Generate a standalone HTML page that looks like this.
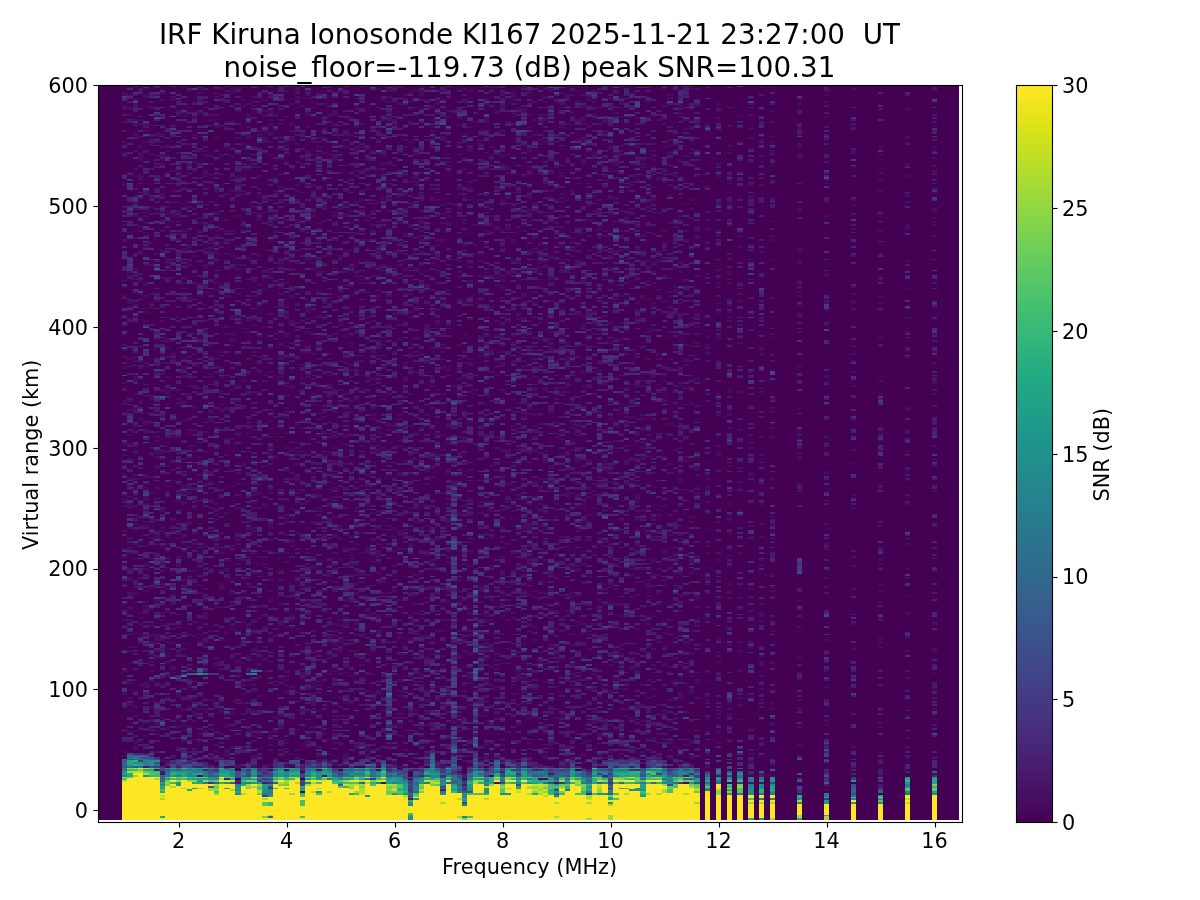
<!DOCTYPE html>
<html><head><meta charset="utf-8"><title>IRF Kiruna Ionosonde KI167</title>
<style>html,body{margin:0;padding:0;background:#fff}svg{display:block}</style></head>
<body><svg width="1200" height="900" viewBox="0 0 1200 900">
<rect width="1200" height="900" fill="#fff"/>
<defs><linearGradient id="cbg" x1="0" y1="0" x2="0" y2="1"><stop offset="0.0000" stop-color="#fde725"/><stop offset="0.0156" stop-color="#f6e620"/><stop offset="0.0312" stop-color="#ece51b"/><stop offset="0.0469" stop-color="#e2e418"/><stop offset="0.0625" stop-color="#d8e219"/><stop offset="0.0781" stop-color="#cde11d"/><stop offset="0.0938" stop-color="#c2df23"/><stop offset="0.1094" stop-color="#b8de29"/><stop offset="0.1250" stop-color="#addc30"/><stop offset="0.1406" stop-color="#a2da37"/><stop offset="0.1562" stop-color="#98d83e"/><stop offset="0.1719" stop-color="#8ed645"/><stop offset="0.1875" stop-color="#84d44b"/><stop offset="0.2031" stop-color="#7ad151"/><stop offset="0.2188" stop-color="#70cf57"/><stop offset="0.2344" stop-color="#67cc5c"/><stop offset="0.2500" stop-color="#5ec962"/><stop offset="0.2656" stop-color="#56c667"/><stop offset="0.2812" stop-color="#4ec36b"/><stop offset="0.2969" stop-color="#46c06f"/><stop offset="0.3125" stop-color="#3fbc73"/><stop offset="0.3281" stop-color="#38b977"/><stop offset="0.3438" stop-color="#32b67a"/><stop offset="0.3594" stop-color="#2db27d"/><stop offset="0.3750" stop-color="#28ae80"/><stop offset="0.3906" stop-color="#25ab82"/><stop offset="0.4062" stop-color="#22a785"/><stop offset="0.4219" stop-color="#20a386"/><stop offset="0.4375" stop-color="#1fa088"/><stop offset="0.4531" stop-color="#1e9c89"/><stop offset="0.4688" stop-color="#1f988b"/><stop offset="0.4844" stop-color="#1f948c"/><stop offset="0.5000" stop-color="#21918c"/><stop offset="0.5156" stop-color="#228d8d"/><stop offset="0.5312" stop-color="#23898e"/><stop offset="0.5469" stop-color="#25858e"/><stop offset="0.5625" stop-color="#26828e"/><stop offset="0.5781" stop-color="#277e8e"/><stop offset="0.5938" stop-color="#297a8e"/><stop offset="0.6094" stop-color="#2a768e"/><stop offset="0.6250" stop-color="#2c728e"/><stop offset="0.6406" stop-color="#2e6f8e"/><stop offset="0.6562" stop-color="#2f6b8e"/><stop offset="0.6719" stop-color="#31678e"/><stop offset="0.6875" stop-color="#33638d"/><stop offset="0.7031" stop-color="#355f8d"/><stop offset="0.7188" stop-color="#375b8d"/><stop offset="0.7344" stop-color="#39568c"/><stop offset="0.7500" stop-color="#3b528b"/><stop offset="0.7656" stop-color="#3d4e8a"/><stop offset="0.7812" stop-color="#3e4989"/><stop offset="0.7969" stop-color="#404588"/><stop offset="0.8125" stop-color="#424086"/><stop offset="0.8281" stop-color="#443b84"/><stop offset="0.8438" stop-color="#453781"/><stop offset="0.8594" stop-color="#46327e"/><stop offset="0.8750" stop-color="#472d7b"/><stop offset="0.8906" stop-color="#482878"/><stop offset="0.9062" stop-color="#482374"/><stop offset="0.9219" stop-color="#481d6f"/><stop offset="0.9375" stop-color="#48186a"/><stop offset="0.9531" stop-color="#471365"/><stop offset="0.9688" stop-color="#470d60"/><stop offset="0.9844" stop-color="#46075a"/><stop offset="1.0000" stop-color="#440154"/></linearGradient></defs>
<g shape-rendering="crispEdges" fill="none"><rect x="98" y="85" width="861" height="735" fill="#440154"/>
<path transform="translate(3)" stroke="#470d60" stroke-width="6" d="M127 733v-2m0-20v-1m0-4v-4m0-3v-2m0-13v-2m0-18v-1m0-11v-2m0-2v-2m0-23v-4m0-4v-1m0-4v-4m0-10v-4m0-11v-4m0-7v-2m0-14v-2m0-2v-3m0-18v-2m0-18v-6m0-5v-2m0-6v-1m0-2v-2m0-5v-2m0-18v-2m0-13v-2m0-7v-2m0-23v-2m0-7v-2m0-40v-2m0-9v-2m0-27v-2m0-10v-2m0-2v-4m0-23v-2m0-2v-2m0-38v-1m0-29v-2m0-85v-2m0-4v-3m0-8v-1m0-2v-2m0-6v-1M143 737v-2m0-4v-1m0-6v-2m0-11v-1m0-22v-6m0-38v-1m0-8v-1m0-20v-2m0-2v-5m0-2v-2m0-9v-2m0-13v-1m0-6v-2m0-1v-4m0-16v-2m0-18v-2m0-2v-2m0-11v-1m0-4v-2m0-2v-5m0-7v-2m0-2v-2m0-5v-4m0-41v-4m0-4v-5m0-6v-1m0-24v-2m0-20v-1m0-2v-2m0-40v-2m0-7v-2m0-2v-1m0-11v-2m0-9v-4m0-11v-1m0-4v-2m0-16v-2m0-2v-2m0-9v-1m0-8v-2m0-5v-2m0-2v-1m0-8v-1m0-10v-1m0-38v-2m0-9v-2m0-9v-2m0-32v-4m0-4v-2M154 735v-2m0-2v-1m0-4v-4m0-11v-1m0-26v-2m0-23v-2m0-5v-2m0-9v-7m0-19v-1m0-13v-2m0-31v-1m0-9v-2m0-2v-2m0-7v-2m0-4v-5m0-2v-2m0-25v-2m0-3v-2m0-9v-2m0-18v-4m0-7v-2m0-2v-2m0-10v-2m0-2v-2m0-3v-2m0-18v-2m0-4v-2m0-9v-1m0-22v-2m0-22v-2m0-7v-2m0-36v-2m0-20v-1m0-24v-2m0-38v-3m0-13v-2m0-14v-2m0-24v-2m0-12v-2m0-5v-4m0-36v-2m0-6v-1M170 759v-2m0-17v-1m0-4v-2m0-56v-2m0-2v-1m0-2v-4m0-22v-1m0-13v-2m0-23v-2m0-7v-2m0-8v-1m0-13v-2m0-38v-2m0-3v-2m0-4v-2m0-18v-1m0-19v-1m0-9v-2m0-6v-1m0-10v-1m0-13v-4m0-3v-2m0-33v-1m0-4v-2m0-29v-2m0-2v-3m0-11v-2m0-61v-2m0-55v-1m0-4v-4m0-10v-2m0-9v-2m0-9v-2m0-7v-2m0-38v-2m0-2v-2m0-25v-2m0-1v-2M181 742v-2m0-9v-1m0-4v-2m0-13v-3m0-7v-2m0-49v-2m0-42v-1m0-17v-2m0-5v-2m0-27v-2m0-12v-4m0-29v-4m0-12v-4m0-11v-2m0-12v-2m0-7v-2m0-27v-2m0-11v-2m0-3v-4m0-22v-3m0-4v-5m0-6v-2m0-3v-2m0-4v-3m0-17v-1m0-31v-2m0-11v-2m0-2v-3m0-26v-3m0-16v-2m0-22v-2m0-2v-1m0-86v-1m0-2v-2M197 777v-2m0-33v-2m0-5v-2m0-16v-2m0-5v-2m0-11v-2m0-31v-1m0-2v-2m0-6v-1m0-9v-2m0-6v-1m0-4v-2m0-9v-2m0-23v-2m0-16v-2m0-6v-1m0-37v-1m0-48v-1m0-4v-2m0-5v-2m0-5v-2m0-2v-2m0-18v-2m0-47v-2m0-20v-1m0-26v-2m0-27v-2m0-63v-2m0-12v-2m0-6v-2m0-3v-2m0-38v-2m0-11v-1m0-13v-2m0-13v-1m0-22v-2m0-11v-2m0-5v-2m0-2v-2M208 766v-2m0-4v-1m0-2v-2m0-15v-1m0-9v-2m0-27v-2m0-67v-2m0-33v-1m0-22v-2m0-2v-2m0-36v-2m0-21v-2m0-4v-2m0-18v-2m0-7v-3m0-49v-4m0-5v-4m0-31v-2m0-1v-2m0-11v-2m0-2v-2m0-10v-2m0-35v-1m0-28v-1m0-13v-2m0-2v-2m0-7v-2m0-1v-4m0-2v-2m0-12v-2m0-6v-1m0-4v-2m0-12v-2m0-17v-1m0-18v-2m0-6v-2m0-34v-2m0-3v-2M224 760v-1m0-2v-8m0-9v-3m0-9v-4m0-90v-2m0-13v-2m0-38v-2m0-5v-4m0-7v-2m0-45v-2m0-56v-2m0-9v-2m0-3v-2m0-27v-4m0-25v-2m0-45v-2m0-5v-2m0-29v-2m0-40v-2m0-21v-2m0-9v-2m0-24v-2m0-45v-2m0-18v-2m0-3v-2m0-29v-2M235 768v-4m0-9v-2m0-80v-1m0-9v-4m0-27v-2m0-62v-1m0-2v-2m0-5v-2m0-11v-2m0-2v-2m0-1v-2m0-2v-2m0-2v-1m0-20v-2m0-22v-2m0-9v-2m0-9v-1m0-4v-2m0-11v-2m0-7v-2m0-27v-2m0-3v-2m0-13v-2m0-19v-2m0-9v-2m0-15v-1m0-15v-2m0-3v-2m0-20v-2m0-16v-2m0-4v-3m0-2v-2m0-16v-2m0-29v-2m0-20v-2m0-1v-2m0-4v-2m0-5v-2m0-38v-2m0-25v-2m0-20v-3M251 768v-2m0-7v-4m0-13v-2m0-3v-2m0-4v-1m0-17v-2m0-19v-2m0-4v-2m0-3v-2m0-6v-1m0-20v-4m0-5v-2m0-7v-2m0-9v-4m0-13v-1m0-31v-2m0-18v-2m0-20v-2m0-1v-2m0-18v-2m0-4v-2m0-5v-2m0-13v-1m0-18v-2m0-29v-2m0-2v-2m0-12v-2m0-18v-2m0-38v-2m0-25v-2m0-4v-2m0-21v-2m0-13v-3m0-9v-2m0-60v-2m0-38v-2m0-18v-2m0-9v-1m0-29v-2m0-2v-2m0-3v-2m0-9v-2M262 766v-2m0-92v-2m0-9v-4m0-9v-2m0-18v-2m0-9v-2m0-7v-2m0-29v-1m0-8v-1m0-2v-2m0-5v-2m0-4v-2m0-2v-1m0-40v-4m0-22v-1m0-8v-1m0-4v-2m0-27v-2m0-11v-2m0-41v-2m0-4v-1m0-8v-1m0-8v-2m0-28v-2m0-22v-2m0-13v-1m0-9v-2m0-4v-2m0-58v-1m0-11v-2m0-45v-2m0-9v-6m0-5v-2m0-13v-3m0-2v-2m0-9v-2m0-5v-2M278 757v-2m0-25v-4m0-9v-2m0-7v-2m0-27v-2m0-14v-2m0-8v-1m0-26v-3m0-17v-3m0-22v-2m0-7v-2m0-11v-1m0-4v-2m0-56v-2m0-2v-2m0-52v-2m0-7v-2m0-2v-2m0-5v-2m0-11v-1m0-26v-2m0-1v-2m0-6v-1m0-6v-4m0-10v-4m0-11v-2m0-5v-2m0-14v-2m0-11v-2m0-4v-3m0-2v-2m0-14v-2m0-2v-4m0-59v-2m0-6v-1m0-4v-2m0-36v-2m0-9v-3m0-11v-2m0-2v-2m0-32v-2M289 766v-2m0-9v-2m0-65v-2m0-58v-2m0-5v-2m0-2v-2m0-19v-2m0-22v-2m0-23v-2m0-2v-4m0-21v-2m0-6v-1m0-19v-1m0-9v-2m0-4v-2m0-14v-2m0-4v-3m0-44v-1m0-15v-4m0-27v-2m0-12v-2m0-18v-4m0-23v-2m0-25v-2m0-9v-2m0-11v-2m0-5v-2m0-40v-2m0-14v-2m0-38v-4m0-5v-2m0-4v-3m0-18v-2m0-4v-1M305 748v-2m0-2v-4m0-5v-2m0-23v-2m0-18v-2m0-11v-2m0-14v-2m0-2v-2m0-40v-1m0-6v-2m0-18v-2m0-10v-2m0-9v-2m0-4v-1m0-4v-2m0-2v-2m0-7v-2m0-10v-2m0-24v-3m0-2v-2m0-22v-2m0-94v-2m0-23v-2m0-2v-2m0-14v-2m0-11v-2m0-5v-4m0-5v-2m0-2v-1m0-39v-3m0-71v-2m0-25v-2m0-3v-4m0-11v-2m0-9v-2m0-10v-4m0-13v-1m0-2v-2m0-2v-2M316 771v-2m0-7v-3m0-2v-2m0-7v-2m0-27v-2m0-6v-1m0-24v-2m0-78v-1m0-2v-2m0-20v-2m0-12v-2m0-2v-2m0-20v-2m0-10v-2m0-4v-2m0-5v-2m0-2v-2m0-1v-2m0-9v-4m0-9v-2m0-20v-1m0-26v-2m0-14v-2m0-4v-1m0-28v-1m0-8v-1m0-15v-2m0-16v-2m0-14v-2m0-6v-3m0-22v-2m0-18v-2m0-30v-2m0-15v-2m0-32v-2m0-20v-2m0-1v-2m0-2v-2m0-2v-2m0-7v-2m0-3v-2m0-2v-2m0-43v-2M332 766v-4m0-2v-1m0-15v-2m0-7v-2m0-5v-2m0-4v-2m0-3v-2m0-9v-2m0-25v-2m0-5v-2m0-15v-2m0-7v-2m0-7v-3m0-2v-2m0-5v-2m0-8v-1m0-31v-2m0-11v-2m0-9v-1m0-4v-2m0-14v-4m0-5v-2m0-2v-2m0-5v-2m0-18v-2m0-7v-2m0-11v-2m0-11v-3m0-8v-1m0-2v-2m0-9v-4m0-21v-4m0-2v-2m0-10v-2m0-2v-2m0-51v-1m0-2v-2m0-29v-2m0-32v-2m0-27v-2m0-22v-2m0-2v-1m0-51v-6m0-10v-2m0-9v-2m0-7v-2m0-7v-6m0-2v-1M343 766v-2m0-5v-6m0-14v-2m0-15v-2m0-3v-2m0-11v-2m0-29v-1m0-4v-2m0-2v-1m0-2v-2m0-13v-2m0-3v-2m0-13v-5m0-2v-2m0-9v-2m0-5v-2m0-2v-1m0-4v-2m0-14v-2m0-6v-3m0-15v-2m0-12v-2m0-25v-2m0-11v-2m0-5v-2m0-18v-2m0-2v-2m0-5v-2m0-11v-2m0-5v-4m0-11v-1m0-9v-2m0-2v-2m0-12v-2m0-29v-2m0-7v-2m0-16v-2m0-18v-2m0-29v-2m0-11v-2m0-3v-2m0-13v-2m0-34v-4m0-9v-1m0-11v-2m0-24v-1m0-17v-2m0-10v-2m0-2v-2m0-11v-2M359 740v-1m0-57v-1m0-2v-2m0-11v-2m0-7v-2m0-18v-2m0-16v-2m0-34v-2m0-5v-4m0-18v-2m0-18v-2m0-18v-2m0-25v-2m0-16v-2m0-4v-1m0-15v-2m0-9v-2m0-21v-2m0-4v-2m0-29v-1m0-13v-2m0-4v-1m0-8v-1m0-53v-2m0-7v-2m0-2v-1m0-2v-2m0-15v-1m0-18v-2m0-7v-2m0-13v-2m0-3v-2m0-9v-2m0-6v-3m0-18v-2m0-22v-2m0-10v-2m0-9v-2M370 760v-1m0-8v-2m0-39v-2m0-7v-4m0-2v-2m0-18v-2m0-21v-2m0-6v-1m0-9v-2m0-17v-3m0-45v-2m0-2v-2m0-5v-2m0-2v-2m0-9v-3m0-19v-1m0-4v-2m0-25v-2m0-22v-1m0-11v-2m0-2v-2m0-3v-2m0-2v-2m0-16v-2m0-2v-3m0-4v-2m0-5v-2m0-15v-1m0-4v-2m0-25v-4m0-20v-1m0-6v-2m0-5v-2m0-5v-2m0-7v-2m0-20v-2m0-7v-2m0-9v-2m0-22v-3m0-4v-2m0-11v-3m0-9v-2m0-47v-2m0-20v-2m0-9v-2M386 762v-2m0-12v-2m0-26v-1m0-55v-1m0-6v-2m0-11v-3m0-15v-1m0-8v-2m0-7v-2m0-7v-2m0-3v-2m0-34v-2m0-29v-2m0-27v-2m0-20v-2m0-3v-2m0-6v-1m0-11v-2m0-6v-1m0-11v-2m0-2v-4m0-28v-2m0-27v-2m0-13v-2m0-23v-2m0-24v-1m0-2v-2m0-11v-2m0-7v-2m0-5v-2m0-25v-2m0-9v-2m0-6v-1m0-9v-2m0-11v-2m0-2v-2m0-9v-1m0-18v-4m0-22v-2m0-16v-2m0-5v-2m0-4v-1m0-4v-2m0-3v-2m0-4v-4M397 768v-2m0-29v-2m0-7v-2m0-7v-2m0-2v-2m0-16v-2m0-3v-2m0-8v-3m0-24v-2m0-14v-2m0-16v-2m0-18v-2m0-43v-2m0-4v-2m0-12v-6m0-16v-2m0-18v-2m0-16v-4m0-25v-2m0-3v-2m0-20v-2m0-2v-2m0-74v-2m0-12v-2m0-9v-2m0-13v-1m0-20v-2m0-11v-2m0-11v-2m0-7v-2m0-18v-2m0-10v-2m0-13v-2m0-3v-2m0-36v-2m0-35v-1m0-11v-2m0-15v-1M413 733v-3m0-55v-2m0-1v-2m0-17v-1m0-17v-3m0-9v-2m0-7v-2m0-7v-2m0-7v-2m0-18v-2m0-9v-2m0-40v-2m0-12v-2m0-2v-4m0-11v-1m0-13v-2m0-14v-2m0-4v-2m0-3v-2m0-11v-2m0-16v-2m0-9v-2m0-16v-2m0-14v-2m0-18v-2m0-11v-3m0-26v-2m0-1v-2m0-2v-2m0-11v-2m0-19v-2m0-17v-1m0-11v-2m0-51v-2m0-1v-2m0-2v-4m0-20v-3m0-36v-2m0-6v-1m0-15v-2M424 760v-1m0-4v-2m0-9v-2m0-2v-1m0-13v-2m0-9v-4m0-9v-3m0-7v-2m0-24v-2m0-5v-2m0-20v-2m0-12v-2m0-18v-2m0-2v-2m0-9v-2m0-21v-2m0-7v-2m0-2v-2m0-18v-2m0-3v-2m0-18v-2m0-20v-2m0-5v-2m0-4v-3m0-26v-1m0-15v-2m0-5v-2m0-2v-2m0-50v-2m0-2v-2m0-29v-5m0-22v-2m0-9v-2m0-1v-4m0-13v-1m0-29v-2m0-13v-2m0-7v-2m0-2v-1m0-31v-2m0-4v-1m0-33v-2m0-38v-2M440 768v-4m0-4v-1m0-11v-2m0-16v-4m0-20v-2m0-11v-1m0-4v-2m0-9v-2m0-2v-1m0-6v-2m0-7v-2m0-23v-2m0-9v-2m0-11v-2m0-3v-2m0-13v-2m0-52v-2m0-38v-2m0-29v-1m0-11v-2m0-13v-2m0-39v-2m0-24v-3m0-6v-2m0-5v-2m0-2v-2m0-1v-2m0-9v-2m0-25v-2m0-2v-2m0-60v-3m0-15v-2m0-7v-2m0-7v-2m0-45v-2m0-16v-5m0-29v-2m0-4v-2m0-7v-2M451 755v-2m0-22v-1m0-6v-4m0-54v-2m0-34v-2m0-9v-2m0-94v-2m0-36v-4m0-16v-3m0-26v-2m0-7v-2m0-18v-2m0-18v-2m0-125v-1m0-53v-2m0-90v-2M467 764v-2m0-5v-2m0-4v-3m0-18v-2m0-22v-2m0-2v-1m0-17v-2m0-3v-6m0-18v-3m0-8v-1m0-6v-3m0-2v-2m0-15v-3m0-2v-2m0-9v-2m0-3v-2m0-2v-2m0-21v-2m0-13v-2m0-7v-2m0-25v-2m0-2v-2m0-7v-2m0-1v-2m0-27v-2m0-33v-2m0-7v-2m0-3v-2m0-27v-2m0-11v-2m0-2v-1m0-9v-4m0-2v-2m0-38v-2m0-29v-1m0-4v-4m0-12v-2m0-2v-2m0-29v-1m0-31v-2m0-9v-2m0-5v-2m0-18v-2m0-9v-4m0-20v-2m0-27v-1m0-6v-2M478 762v-2m0-1v-2m0-40v-2m0-7v-2m0-4v-1m0-13v-2m0-14v-2m0-6v-1m0-10v-1m0-2v-2m0-2v-2m0-3v-2m0-5v-2m0-29v-2m0-9v-6m0-36v-2m0-9v-1m0-11v-2m0-11v-2m0-9v-2m0-14v-2m0-36v-2m0-20v-2m0-7v-2m0-11v-1m0-48v-1m0-2v-2m0-4v-1m0-8v-3m0-36v-2m0-13v-2m0-5v-2m0-13v-2m0-5v-2m0-11v-1m0-15v-2m0-16v-2m0-5v-2m0-36v-2m0-13v-2m0-1v-2m0-2v-2m0-3v-2m0-2v-2m0-42v-1M494 784v-2m0-23v-2m0-9v-2m0-11v-2m0-2v-1m0-11v-2m0-2v-2m0-7v-2m0-16v-2m0-16v-2m0-2v-2m0-3v-2m0-4v-3m0-9v-2m0-26v-1m0-6v-2m0-16v-2m0-7v-2m0-11v-1m0-20v-2m0-58v-2m0-14v-2m0-4v-2m0-14v-2m0-9v-2m0-60v-1m0-13v-2m0-16v-2m0-5v-2m0-13v-2m0-34v-2m0-5v-2m0-2v-2m0-43v-4m0-36v-2m0-33v-1m0-40v-4m0-11v-1M505 733v-2m0-81v-2m0-27v-2m0-7v-2m0-9v-2m0-11v-2m0-41v-2m0-36v-2m0-2v-2m0-3v-2m0-11v-2m0-20v-1m0-8v-2m0-1v-2m0-127v-2m0-45v-5m0-31v-2m0-7v-4m0-27v-4m0-7v-2m0-12v-2m0-2v-4m0-11v-1m0-31v-2M521 740v-1m0-22v-2m0-11v-2m0-10v-2m0-11v-2m0-7v-2m0-4v-1m0-19v-1m0-4v-2m0-22v-1m0-18v-2m0-2v-2m0-4v-1m0-9v-2m0-2v-4m0-9v-1m0-6v-2m0-18v-2m0-1v-4m0-44v-1m0-18v-2m0-11v-2m0-29v-2m0-2v-3m0-49v-2m0-13v-1m0-11v-2m0-13v-3m0-9v-2m0-9v-4m0-61v-2m0-4v-2m0-11v-1m0-26v-2m0-7v-2m0-58v-1m0-4v-4m0-20v-1M532 730v-2m0-35v-1m0-2v-2m0-15v-1m0-19v-1m0-11v-2m0-11v-2m0-20v-1m0-8v-1m0-4v-2m0-27v-2m0-2v-1m0-24v-2m0-34v-2m0-11v-4m0-29v-3m0-11v-2m0-3v-2m0-4v-2m0-9v-3m0-22v-4m0-9v-2m0-16v-2m0-2v-1m0-4v-2m0-45v-2m0-2v-1m0-6v-2m0-31v-1m0-6v-2m0-1v-2m0-9v-4m0-5v-2m0-16v-2m0-4v-3m0-33v-2m0-22v-1m0-9v-2m0-13v-2m0-16v-2M548 749v-1m0-2v-4m0-27v-2m0-5v-2m0-24v-1m0-22v-2m0-9v-4m0-9v-1m0-4v-2m0-9v-2m0-2v-1m0-2v-2m0-5v-2m0-4v-2m0-5v-4m0-12v-4m0-33v-1m0-17v-2m0-18v-1m0-8v-2m0-7v-3m0-2v-2m0-2v-2m0-3v-4m0-22v-1m0-15v-2m0-12v-2m0-60v-4m0-1v-4m0-2v-2m0-5v-2m0-29v-2m0-16v-2m0-2v-3m0-9v-2m0-7v-4m0-33v-1m0-8v-1m0-6v-2m0-5v-2m0-5v-2m0-16v-2m0-29v-2m0-24v-1m0-24v-4M559 768v-2m0-4v-2m0-25v-2m0-14v-2m0-2v-2m0-54v-2m0-13v-1m0-11v-2m0-11v-2m0-21v-2m0-36v-2m0-18v-2m0-27v-2m0-11v-2m0-38v-2m0-14v-2m0-5v-2m0-27v-2m0-7v-4m0-2v-2m0-7v-2m0-11v-1m0-22v-2m0-25v-2m0-4v-2m0-5v-2m0-29v-2m0-3v-2m0-6v-1m0-13v-2m0-2v-1m0-13v-2m0-9v-2m0-12v-2m0-2v-2m0-2v-2m0-16v-2m0-1v-2m0-36v-2m0-6v-2m0-18v-1m0-2v-2m0-9v-2M575 740v-1m0-4v-2m0-38v-2m0-3v-2m0-7v-2m0-27v-2m0-7v-2m0-15v-1m0-2v-2m0-25v-2m0-22v-4m0-1v-2m0-26v-1m0-6v-2m0-1v-2m0-20v-2m0-7v-4m0-4v-1m0-4v-2m0-11v-1m0-9v-4m0-6v-1m0-15v-2m0-7v-4m0-65v-2m0-41v-2m0-18v-2m0-29v-4m0-7v-2m0-5v-2m0-22v-1m0-37v-1m0-8v-1m0-2v-2m0-11v-2m0-11v-1m0-4v-2m0-18v-2m0-16v-2M586 742v-2m0-16v-2m0-16v-2m0-2v-1m0-11v-2m0-7v-2m0-29v-2m0-13v-1m0-2v-2m0-15v-1m0-8v-1m0-28v-1m0-35v-2m0-16v-2m0-5v-2m0-16v-2m0-2v-2m0-3v-2m0-6v-1m0-17v-3m0-71v-5m0-18v-2m0-15v-2m0-7v-2m0-25v-2m0-2v-1m0-17v-2m0-38v-1m0-13v-2m0-14v-2m0-13v-2m0-20v-1m0-8v-1m0-22v-2m0-22v-3m0-18v-2m0-4v-2m0-1v-2M602 759v-2m0-2v-2m0-16v-2m0-2v-2m0-7v-2m0-20v-1m0-11v-2m0-6v-1m0-37v-1m0-6v-2m0-30v-2m0-13v-2m0-27v-2m0-12v-2m0-2v-4m0-9v-1m0-17v-3m0-20v-2m0-4v-2m0-10v-2m0-2v-4m0-1v-2m0-29v-2m0-44v-3m0-49v-2m0-14v-2m0-44v-1m0-6v-2m0-25v-2m0-3v-2m0-42v-2m0-5v-2m0-2v-2m0-16v-2m0-23v-4m0-7v-4M613 730v-2m0-49v-2m0-5v-2m0-7v-2m0-6v-2m0-1v-2m0-44v-3m0-13v-2m0-11v-1m0-11v-2m0-31v-2m0-38v-3m0-6v-2m0-16v-2m0-11v-1m0-2v-2m0-5v-2m0-13v-2m0-2v-3m0-18v-2m0-60v-2m0-34v-2m0-16v-2m0-2v-2m0-12v-2m0-13v-3m0-47v-2m0-2v-2m0-25v-2m0-4v-5m0-7v-2m0-6v-1m0-28v-1m0-2v-2m0-18v-2M629 731v-1m0-11v-2m0-47v-4m0-7v-2m0-2v-2m0-38v-1m0-38v-2m0-4v-2m0-1v-2m0-6v-1m0-69v-2m0-6v-1m0-62v-2m0-16v-2m0-13v-1m0-11v-2m0-100v-1m0-2v-2m0-2v-2m0-29v-1m0-17v-2m0-3v-2m0-22v-2m0-1v-2m0-16v-2m0-11v-2m0-33v-1m0-22v-2m0-5v-2M640 755v-4m0-25v-2m0-2v-2m0-14v-2m0-9v-2m0-7v-2m0-32v-2m0-42v-2m0-20v-1m0-2v-2m0-11v-2m0-38v-1m0-13v-2m0-2v-3m0-19v-1m0-20v-2m0-7v-4m0-7v-2m0-16v-4m0-7v-2m0-2v-2m0-27v-2m0-3v-2m0-5v-2m0-24v-2m0-34v-2m0-12v-4m0-7v-2m0-24v-2m0-3v-2m0-18v-2m0-36v-2m0-22v-1m0-6v-2m0-1v-2m0-2v-2m0-14v-2m0-18v-2M656 757v-2m0-11v-2m0-7v-2m0-18v-2m0-7v-2m0-61v-2m0-36v-2m0-9v-2m0-16v-2m0-4v-2m0-36v-2m0-14v-2m0-4v-1m0-69v-2m0-2v-2m0-41v-2m0-6v-1m0-24v-2m0-2v-3m0-53v-1m0-2v-2m0-4v-2m0-27v-3m0-2v-2m0-2v-2m0-38v-1m0-31v-4m0-56v-2M667 759v-2m0-6v-2m0-5v-4m0-1v-2m0-6v-1m0-8v-2m0-19v-2m0-26v-1m0-4v-2m0-45v-2m0-13v-1m0-35v-3m0-8v-3m0-20v-2m0-4v-1m0-13v-2m0-49v-2m0-29v-1m0-8v-2m0-54v-2m0-7v-2m0-20v-1m0-4v-2m0-18v-2m0-2v-3m0-9v-2m0-2v-2m0-12v-2m0-17v-1m0-35v-2m0-25v-2m0-9v-2m0-25v-2m0-3v-2m0-6v-1m0-4v-2m0-43v-2M683 784v-2m0-36v-2m0-60v-2m0-12v-2m0-24v-3m0-45v-2m0-49v-2m0-53v-1m0-27v-2m0-2v-2m0-16v-2m0-33v-1m0-15v-2m0-21v-2m0-2v-4m0-12v-2m0-53v-2m0-7v-2m0-39v-2m0-7v-2m0-26v-1m0-37v-1m0-8v-2m0-18v-1m0-6v-2m0-7v-2m0-31v-1M694 699v-2m0-13v-2m0-1v-2m0-6v-1m0-28v-1m0-22v-2m0-4v-1m0-6v-2m0-7v-2m0-38v-3m0-37v-1m0-22v-4m0-3v-2m0-11v-2m0-3v-4m0-9v-2m0-29v-2m0-18v-2m0-25v-2m0-22v-1m0-11v-2m0-7v-2m0-5v-2m0-8v-5m0-9v-2m0-7v-2m0-16v-2m0-27v-2m0-7v-4m0-3v-6m0-22v-1m0-26v-2m0-7v-2m0-9v-2m0-30v-2m0-16v-2m0-15v-2M737 720v-1m0-13v-2m0-5v-2m0-25v-2m0-18v-2m0-7v-2m0-31v-2m0-9v-2m0-43v-2m0-13v-1m0-26v-2m0-18v-2m0-7v-2m0-12v-2m0-36v-2m0-36v-2m0-47v-2m0-16v-2m0-22v-2m0-5v-2m0-9v-2m0-34v-2m0-9v-2m0-2v-1m0-77v-1m0-11v-2m0-24v-1M748 764v-4m0-5v-2m0-23v-2m0-26v-1m0-31v-2m0-20v-2m0-3v-2m0-15v-1m0-13v-2m0-11v-2m0-7v-2m0-2v-1m0-11v-2m0-34v-2m0-9v-2m0-49v-4m0-14v-2m0-7v-2m0-11v-2m0-27v-2m0-32v-2m0-56v-2m0-63v-2m0-2v-2m0-29v-2m0-9v-1m0-4v-4m0-9v-2m0-1v-2m0-18v-2m0-11v-2m0-9v-2m0-7v-2m0-2v-1m0-9v-2m0-9v-2m0-4v-1m0-11v-2"/>
<path transform="translate(2.5)" stroke="#470d60" stroke-width="5" d="M122 757v-2m0-2v-2m0-56v-2m0-21v-2m0-35v-1m0-8v-1m0-4v-2m0-14v-2m0-15v-2m0-1v-2m0-25v-2m0-6v-2m0-16v-2m0-23v-2m0-5v-2m0-2v-2m0-18v-2m0-18v-2m0-9v-3m0-26v-2m0-10v-4m0-11v-2m0-3v-2m0-13v-2m0-9v-2m0-5v-2m0-3v-2m0-47v-2m0-7v-2m0-4v-2m0-39v-2m0-13v-2m0-23v-2m0-13v-3m0-8v-1m0-20v-2m0-9v-2m0-18v-2m0-11v-2m0-1v-2m0-9v-4m0-5v-2M133 751v-5m0-2v-4m0-9v-1m0-13v-2m0-7v-2m0-14v-2m0-9v-2m0-31v-2m0-43v-2m0-7v-2m0-11v-2m0-20v-1m0-13v-2m0-13v-1m0-4v-2m0-4v-1m0-11v-2m0-9v-2m0-5v-2m0-2v-2m0-3v-2m0-2v-2m0-20v-2m0-5v-2m0-18v-2m0-14v-4m0-12v-2m0-11v-6m0-10v-2m0-2v-2m0-2v-2m0-50v-2m0-29v-2m0-3v-2m0-29v-2m0-20v-2m0-5v-2m0-11v-2m0-18v-2m0-5v-2m0-16v-2m0-14v-4m0-7v-2m0-2v-2m0-11v-1m0-2v-2M138 742v-2m0-12v-2m0-40v-2m0-40v-1m0-8v-1m0-9v-2m0-4v-2m0-3v-2m0-26v-1m0-6v-2m0-34v-2m0-14v-2m0-15v-1m0-8v-1m0-20v-2m0-58v-2m0-14v-4m0-20v-2m0-9v-2m0-1v-2m0-55v-1m0-13v-2m0-2v-2m0-7v-2m0-25v-2m0-21v-2m0-2v-2m0-13v-1m0-31v-7m0-6v-2m0-5v-9m0-4v-3m0-20v-2m0-2v-2m0-32v-2M149 730v-2m0-8v-1m0-11v-2m0-4v-1m0-2v-2m0-25v-2m0-7v-2m0-17v-3m0-4v-3m0-24v-2m0-20v-2m0-19v-2m0-31v-2m0-11v-2m0-25v-2m0-14v-2m0-20v-4m0-3v-2m0-42v-1m0-4v-4m0-88v-2m0-2v-2m0-7v-2m0-27v-2m0-20v-2m0-34v-2m0-7v-2m0-51v-3m0-6v-1m0-10v-1M160 775v-2m0-11v-3m0-40v-2m0-6v-1m0-24v-2m0-5v-2m0-11v-2m0-5v-2m0-4v-1m0-11v-2m0-18v-2m0-5v-2m0-6v-1m0-20v-2m0-11v-2m0-5v-2m0-16v-2m0-4v-2m0-7v-2m0-1v-2m0-15v-3m0-38v-2m0-9v-2m0-4v-5m0-27v-2m0-2v-2m0-23v-4m0-14v-4m0-7v-2m0-7v-2m0-11v-2m0-9v-2m0-7v-2m0-41v-2m0-24v-2m0-19v-2m0-9v-2m0-22v-4m0-14v-2m0-12v-2m0-6v-3m0-6v-2m0-3v-2m0-5v-2m0-8v-1m0-8v-1m0-15v-2m0-5v-2M165 762v-2m0-30v-4m0-49v-2m0-18v-2m0-2v-1m0-9v-2m0-4v-2m0-10v-2m0-11v-2m0-11v-2m0-7v-2m0-20v-1m0-15v-2m0-2v-1m0-2v-2m0-5v-2m0-38v-2m0-9v-2m0-2v-2m0-14v-2m0-22v-1m0-4v-2m0-31v-1m0-9v-4m0-2v-2m0-9v-2m0-12v-2m0-4v-2m0-7v-2m0-5v-4m0-9v-1m0-10v-1m0-38v-2m0-6v-3m0-4v-7m0-42v-2m0-5v-2m0-32v-2m0-15v-2m0-3v-2m0-2v-2m0-59v-2M176 748v-2m0-7v-2m0-9v-2m0-29v-4m0-38v-2m0-25v-2m0-59v-4m0-4v-3m0-17v-1m0-4v-2m0-29v-2m0-7v-2m0-7v-2m0-45v-2m0-31v-3m0-2v-2m0-7v-2m0-16v-2m0-22v-2m0-29v-1m0-17v-1m0-39v-1m0-18v-2m0-4v-2m0-16v-2m0-2v-3m0-7v-2m0-18v-2m0-27v-2m0-36v-2m0-2v-2m0-9v-2M187 728v-2m0-18v-2m0-5v-2m0-11v-4m0-12v-2m0-26v-1m0-64v-2m0-5v-2m0-45v-4m0-27v-2m0-3v-4m0-4v-1m0-29v-2m0-2v-2m0-11v-1m0-2v-2m0-34v-2m0-6v-2m0-9v-1m0-17v-2m0-7v-2m0-38v-1m0-2v-2m0-5v-2m0-31v-2m0-2v-3m0-11v-4m0-2v-1m0-33v-2m0-16v-2m0-13v-3m0-15v-3m0-9v-2m0-35v-1m0-15v-2M192 759v-2m0-6v-2m0-9v-1m0-17v-2m0-3v-6m0-12v-2m0-7v-2m0-51v-2m0-12v-2m0-49v-2m0-11v-1m0-13v-2m0-9v-2m0-23v-2m0-18v-2m0-15v-1m0-19v-1m0-4v-2m0-14v-2m0-20v-4m0-16v-4m0-30v-2m0-18v-2m0-7v-2m0-67v-2m0-14v-2m0-29v-2m0-4v-1m0-13v-2m0-4v-1m0-11v-2m0-7v-2m0-15v-1m0-9v-2m0-15v-2m0-14v-2M203 733v-3m0-17v-2m0-1v-2m0-42v-2m0-9v-2m0-10v-2m0-2v-2m0-18v-7m0-11v-2m0-2v-1m0-6v-2m0-20v-1m0-20v-2m0-15v-1m0-42v-4m0-43v-2m0-5v-2m0-31v-2m0-3v-2m0-15v-2m0-43v-4m0-7v-2m0-11v-1m0-2v-2m0-11v-2m0-5v-2m0-5v-2m0-9v-4m0-9v-2m0-3v-2m0-4v-2m0-16v-2m0-14v-2m0-2v-2m0-27v-2m0-1v-4m0-13v-3m0-2v-2M214 768v-2m0-6v-1m0-6v-2m0-5v-2m0-78v-2m0-5v-2m0-32v-2m0-15v-2m0-56v-5m0-24v-2m0-3v-2m0-2v-2m0-5v-2m0-14v-2m0-42v-2m0-14v-2m0-40v-2m0-3v-2m0-11v-2m0-7v-2m0-34v-2m0-18v-2m0-11v-2m0-5v-2m0-3v-2m0-2v-2m0-11v-2m0-5v-4m0-14v-2m0-3v-2m0-15v-3m0-19v-5m0-13v-1m0-13v-2m0-20v-2m0-9v-3m0-2v-2m0-5v-2m0-16v-2m0-2v-2m0-2v-2M219 735v-2m0-20v-2m0-1v-2m0-6v-1m0-4v-2m0-25v-2m0-4v-1m0-22v-2m0-31v-2m0-16v-7m0-11v-2m0-7v-2m0-7v-2m0-18v-2m0-22v-1m0-17v-2m0-77v-4m0-4v-1m0-9v-4m0-13v-2m0-1v-2m0-4v-2m0-14v-2m0-36v-2m0-13v-1m0-13v-2m0-40v-2m0-85v-3m0-55v-1m0-2v-2m0-4v-3M230 748v-2m0-31v-2m0-11v-1m0-8v-1m0-33v-2m0-2v-2m0-5v-2m0-16v-2m0-3v-2m0-2v-2m0-25v-2m0-45v-2m0-44v-1m0-13v-2m0-14v-2m0-29v-2m0-36v-2m0-9v-2m0-42v-1m0-4v-4m0-3v-2m0-16v-2m0-58v-2m0-20v-2m0-1v-2m0-38v-2m0-16v-2m0-15v-2m0-32v-2m0-27v-2m0-2v-2M241 715v-2m0-9v-2m0-7v-2m0-7v-2m0-20v-1m0-19v-1m0-2v-2m0-4v-1m0-11v-2m0-22v-3m0-2v-2m0-15v-3m0-13v-3m0-8v-2m0-39v-2m0-40v-4m0-54v-2m0-25v-2m0-51v-1m0-22v-2m0-15v-1m0-22v-2m0-42v-1m0-9v-2m0-15v-2m0-1v-2m0-20v-2m0-18v-2m0-3v-2m0-36v-2m0-4v-2m0-11v-1M246 746v-2m0-14v-2m0-55v-3m0-11v-4m0-18v-2m0-10v-2m0-9v-2m0-4v-2m0-5v-2m0-11v-2m0-7v-2m0-19v-2m0-6v-2m0-18v-3m0-75v-1m0-17v-1m0-13v-2m0-23v-2m0-18v-2m0-13v-2m0-11v-1m0-4v-2m0-7v-2m0-2v-1m0-6v-4m0-16v-2m0-41v-2m0-44v-1m0-8v-1m0-33v-2m0-2v-1m0-4v-2m0-20v-5m0-2v-2m0-2v-2m0-10v-2m0-9v-2M257 760v-1m0-2v-2m0-6v-1m0-13v-2m0-7v-2m0-27v-2m0-16v-4m0-9v-3m0-8v-2m0-12v-2m0-20v-2m0-9v-3m0-31v-2m0-14v-2m0-47v-2m0-13v-2m0-7v-2m0-7v-2m0-2v-1m0-75v-1m0-2v-2m0-6v-1m0-11v-4m0-11v-2m0-19v-2m0-49v-2m0-24v-1m0-2v-2m0-34v-4m0-2v-2m0-18v-2m0-3v-2m0-11v-2m0-7v-2m0-30v-2m0-2v-2m0-27v-2M268 771v-2m0-3v-2m0-13v-2m0-3v-2m0-7v-2m0-2v-2m0-68v-2m0-18v-2m0-2v-2m0-20v-2m0-12v-4m0-7v-2m0-9v-2m0-27v-2m0-9v-2m0-10v-6m0-29v-2m0-2v-1m0-29v-2m0-2v-4m0-3v-2m0-9v-2m0-2v-1m0-4v-2m0-5v-2m0-4v-2m0-3v-2m0-36v-2m0-22v-2m0-32v-2m0-34v-4m0-2v-2m0-14v-2m0-14v-2m0-15v-2m0-5v-2m0-14v-2m0-44v-1m0-11v-2m0-5v-4m0-6v-3m0-2v-2m0-5v-4m0-14v-2M273 759v-2m0-17v-1m0-6v-3m0-11v-2m0-4v-2m0-25v-2m0-47v-2m0-81v-2m0-94v-2m0-22v-1m0-57v-1m0-35v-2m0-3v-2m0-25v-2m0-64v-1m0-8v-3m0-9v-2m0-4v-2m0-21v-2m0-6v-1m0-4v-2m0-9v-2m0-49v-3M284 771v-2m0-1v-4m0-4v-1m0-15v-2m0-2v-1m0-46v-3m0-4v-2m0-3v-2m0-2v-2m0-2v-3m0-42v-2m0-63v-2m0-7v-2m0-16v-2m0-11v-2m0-5v-2m0-13v-1m0-28v-3m0-20v-2m0-13v-1m0-15v-2m0-3v-2m0-2v-2m0-20v-2m0-19v-2m0-6v-2m0-19v-4m0-13v-2m0-1v-4m0-5v-2m0-6v-1m0-15v-2m0-11v-1m0-19v-1m0-6v-3m0-20v-2m0-15v-1m0-8v-2m0-18v-1m0-11v-2m0-9v-2m0-7v-2m0-49v-2M295 760v-1m0-8v-2m0-18v-1m0-19v-1m0-80v-2m0-36v-2m0-4v-1m0-51v-2m0-34v-2m0-2v-2m0-2v-1m0-8v-5m0-11v-2m0-7v-2m0-2v-1m0-2v-2m0-4v-1m0-17v-2m0-63v-2m0-14v-2m0-2v-2m0-14v-2m0-18v-2m0-13v-1m0-24v-2m0-38v-2m0-1v-2m0-15v-1m0-2v-2m0-7v-2m0-4v-2m0-21v-2m0-16v-2m0-35v-1m0-6v-2m0-1v-2m0-4v-5M300 740v-1m0-38v-2m0-20v-2m0-2v-3m0-2v-2m0-47v-2m0-16v-2m0-22v-3m0-4v-2m0-31v-1m0-28v-1m0-4v-2m0-11v-3m0-37v-1m0-4v-2m0-2v-1m0-13v-2m0-20v-2m0-14v-2m0-4v-1m0-4v-2m0-12v-2m0-11v-2m0-9v-2m0-18v-2m0-11v-1m0-76v-2m0-6v-2m0-29v-1m0-27v-2m0-4v-2m0-23v-2m0-25v-2m0-6v-1M311 728v-2m0-11v-2m0-3v-2m0-2v-5m0-6v-2m0-5v-2m0-2v-2m0-12v-2m0-5v-2m0-29v-2m0-42v-2m0-18v-3m0-6v-3m0-17v-1m0-13v-4m0-38v-2m0-1v-2m0-4v-2m0-7v-2m0-58v-1m0-9v-2m0-6v-2m0-5v-2m0-7v-2m0-14v-2m0-29v-2m0-4v-1m0-6v-2m0-39v-2m0-4v-2m0-3v-2m0-7v-2m0-31v-2m0-5v-2m0-9v-2m0-5v-2m0-4v-2m0-29v-1m0-11v-4m0-22v-1m0-8v-1m0-4v-2M322 777v-2m0-18v-2m0-20v-2m0-89v-1m0-37v-1m0-13v-2m0-5v-2m0-47v-2m0-54v-2m0-4v-2m0-16v-2m0-21v-2m0-13v-2m0-3v-2m0-22v-2m0-12v-2m0-7v-2m0-27v-2m0-15v-2m0-14v-2m0-29v-2m0-7v-2m0-5v-2m0-47v-4m0-3v-2m0-45v-2m0-13v-2m0-7v-2m0-7v-2m0-2v-1m0-11v-2M327 762v-2m0-5v-2m0-13v-1m0-51v-2m0-11v-2m0-14v-2m0-5v-2m0-7v-2m0-2v-4m0-9v-1m0-6v-2m0-36v-2m0-2v-5m0-27v-2m0-22v-3m0-11v-2m0-5v-2m0-8v-1m0-6v-2m0-9v-1m0-17v-2m0-14v-2m0-2v-1m0-28v-1m0-6v-3m0-8v-3m0-8v-1m0-15v-2m0-3v-2m0-6v-1m0-4v-2m0-36v-2m0-3v-2m0-46v-1m0-4v-2m0-89v-1m0-37v-3m0-6v-1M338 746v-4m0-25v-2m0-7v-2m0-7v-2m0-22v-2m0-21v-4m0-5v-4m0-18v-2m0-22v-1m0-8v-2m0-27v-1m0-29v-4m0-20v-2m0-5v-2m0-13v-2m0-38v-1m0-6v-2m0-7v-2m0-34v-2m0-27v-2m0-9v-2m0-18v-2m0-3v-2m0-25v-4m0-2v-2m0-32v-4m0-4v-1m0-33v-2m0-5v-4m0-32v-2m0-15v-2M349 764v-2m0-58v-2m0-25v-2m0-7v-2m0-14v-2m0-47v-2m0-4v-1m0-6v-2m0-12v-2m0-7v-4m0-7v-2m0-16v-2m0-17v-1m0-28v-1m0-8v-1m0-8v-1m0-8v-1m0-8v-2m0-1v-2m0-36v-2m0-9v-2m0-5v-2m0-11v-2m0-2v-2m0-5v-2m0-3v-2m0-6v-2m0-9v-1m0-2v-2m0-13v-3m0-17v-1m0-11v-2m0-27v-2m0-29v-2m0-11v-2m0-10v-2m0-24v-2m0-18v-1m0-10v-1m0-11v-2m0-5v-2m0-15v-2M354 749v-1m0-2v-2m0-92v-2m0-25v-4m0-20v-2m0-5v-2m0-7v-2m0-7v-2m0-2v-2m0-5v-2m0-13v-2m0-3v-2m0-7v-2m0-2v-2m0-5v-2m0-11v-2m0-1v-2m0-11v-2m0-11v-2m0-59v-2m0-20v-2m0-2v-1m0-22v-2m0-9v-2m0-29v-2m0-12v-2m0-38v-2m0-27v-2m0-2v-2m0-7v-3m0-29v-2m0-24v-2m0-3v-2m0-15v-1m0-2v-6m0-18v-2m0-16v-2m0-1v-2M365 757v-4m0-2v-2m0-1v-2m0-44v-1m0-9v-2m0-15v-2m0-10v-2m0-6v-2m0-36v-3m0-2v-4m0-32v-2m0-15v-1m0-4v-7m0-37v-1m0-4v-2m0-16v-2m0-9v-2m0-3v-2m0-4v-2m0-85v-2m0-25v-2m0-56v-2m0-7v-2m0-2v-1m0-17v-2m0-10v-2m0-7v-2m0-17v-3m0-2v-2m0-25v-2m0-16v-2m0-9v-2m0-9v-2m0-40v-1m0-20v-2M376 771v-2m0-3v-4m0-11v-2m0-23v-2m0-4v-1m0-2v-2m0-20v-2m0-1v-2m0-26v-1m0-2v-2m0-25v-4m0-11v-4m0-9v-1m0-6v-2m0-14v-2m0-7v-2m0-9v-2m0-3v-8m0-5v-2m0-14v-2m0-15v-2m0-14v-2m0-9v-2m0-29v-2m0-1v-2m0-2v-2m0-12v-2m0-4v-2m0-2v-1m0-26v-1m0-19v-1m0-19v-1m0-8v-1m0-4v-2m0-40v-1m0-2v-2m0-4v-2m0-12v-2m0-7v-2m0-11v-2m0-5v-2m0-24v-1m0-17v-3m0-13v-2m0-11v-1m0-4v-2m0-14v-2m0-6v-1m0-4v-2m0-7v-2m0-40v-2M381 784v-2m0-45v-2m0-2v-3m0-11v-2m0-40v-2m0-60v-1m0-9v-2m0-9v-2m0-9v-4m0-49v-1m0-28v-1m0-6v-2m0-43v-2m0-13v-1m0-33v-2m0-52v-2m0-78v-2m0-5v-2m0-47v-2m0-4v-1m0-4v-2m0-7v-2m0-23v-2m0-6v-2m0-18v-1m0-15v-2m0-18v-3m0-11v-2M392 726v-2m0-5v-2m0-51v-2m0-36v-2m0-16v-2m0-16v-4m0-7v-2m0-12v-2m0-13v-2m0-12v-2m0-6v-3m0-11v-2m0-4v-1m0-6v-2m0-54v-2m0-14v-2m0-2v-4m0-56v-1m0-13v-2m0-4v-1m0-31v-2m0-54v-2m0-4v-2m0-25v-2m0-2v-1m0-96v-2m0-2v-2m0-11v-1m0-4v-2m0-9v-2m0-2v-3M403 768v-2m0-11v-2m0-2v-2m0-30v-2m0-18v-2m0-33v-1m0-8v-2m0-103v-2m0-9v-1m0-2v-2m0-72v-2m0-11v-2m0-13v-1m0-2v-2m0-2v-2m0-27v-2m0-5v-4m0-5v-6m0-12v-2m0-60v-2m0-5v-2m0-22v-3m0-13v-2m0-16v-4m0-18v-2m0-3v-2m0-4v-1m0-8v-2m0-19v-2m0-24v-2m0-5v-2m0-2v-1m0-37v-1m0-2v-2M408 780v-2m0-16v-2m0-25v-2m0-11v-2m0-7v-3m0-33v-2m0-11v-1m0-19v-1m0-2v-2m0-7v-2m0-7v-2m0-4v-2m0-21v-2m0-2v-2m0-2v-1m0-6v-2m0-9v-1m0-19v-5m0-29v-2m0-3v-2m0-22v-2m0-27v-2m0-27v-2m0-9v-2m0-19v-2m0-18v-2m0-2v-2m0-11v-2m0-1v-2m0-35v-1m0-4v-2m0-16v-2m0-4v-1m0-20v-2m0-38v-4m0-41v-2m0-38v-2m0-16v-4m0-11v-2m0-5v-2m0-7v-2M419 760v-1m0-22v-2m0-5v-4m0-40v-2m0-7v-4m0-18v-2m0-16v-2m0-16v-2m0-5v-2m0-16v-2m0-18v-2m0-13v-1m0-29v-2m0-4v-2m0-92v-2m0-72v-2m0-54v-2m0-13v-2m0-7v-2m0-7v-2m0-11v-2m0-9v-3m0-2v-2m0-3v-2m0-6v-2m0-10v-2m0-9v-2m0-4v-2m0-19v-2m0-6v-1m0-4v-2m0-7v-2m0-40v-2m0-7v-2m0-3v-6M430 731v-1m0-2v-2m0-6v-1m0-26v-1m0-2v-2m0-33v-2m0-10v-2m0-2v-2m0-43v-2m0-2v-2m0-18v-2m0-7v-2m0-3v-2m0-13v-3m0-8v-1m0-4v-2m0-20v-2m0-20v-1m0-2v-2m0-7v-4m0-5v-4m0-2v-2m0-18v-1m0-24v-2m0-9v-2m0-9v-2m0-1v-2m0-2v-5m0-13v-2m0-11v-2m0-10v-2m0-24v-2m0-18v-2m0-25v-2m0-7v-2m0-20v-1m0-31v-4m0-7v-2m0-31v-2m0-18v-1m0-4v-2m0-2v-2m0-5v-2m0-11v-3M435 762v-2m0-59v-2m0-11v-2m0-13v-1m0-17v-2m0-21v-2m0-18v-2m0-42v-1m0-26v-3m0-22v-2m0-47v-2m0-9v-2m0-18v-2m0-11v-1m0-17v-1m0-8v-1m0-4v-2m0-40v-2m0-10v-2m0-6v-1m0-4v-4m0-2v-1m0-6v-3m0-9v-2m0-13v-2m0-23v-4m0-9v-2m0-3v-2m0-22v-2m0-14v-2m0-38v-2m0-22v-1m0-15v-2m0-14v-6M446 753v-2m0-12v-2m0-38v-2m0-7v-2m0-25v-2m0-40v-2m0-13v-1m0-2v-2m0-9v-2m0-7v-2m0-18v-2m0-2v-3m0-4v-2m0-18v-2m0-3v-2m0-2v-5m0-8v-1m0-4v-2m0-3v-2m0-2v-2m0-20v-2m0-1v-2m0-15v-2m0-7v-2m0-1v-2m0-2v-2m0-11v-2m0-9v-1m0-42v-2m0-2v-1m0-10v-1m0-26v-1m0-2v-2m0-6v-1m0-8v-1m0-17v-2m0-23v-2m0-4v-1m0-8v-1m0-17v-1m0-6v-4m0-5v-2m0-3v-2m0-38v-2m0-4v-1m0-2v-2m0-6v-1m0-6v-2m0-10v-2m0-22v-2m0-14v-2M457 773v-2m0-12v-2m0-8v-1m0-8v-1m0-8v-1m0-4v-2m0-2v-2m0-3v-2m0-5v-2m0-49v-4m0-12v-2m0-2v-2m0-5v-2m0-24v-1m0-2v-2m0-9v-2m0-9v-2m0-27v-2m0-21v-2m0-11v-4m0-12v-2m0-8v-1m0-2v-2m0-9v-2m0-18v-4m0-9v-1m0-4v-2m0-38v-2m0-11v-1m0-4v-2m0-7v-4m0-7v-2m0-12v-2m0-44v-1m0-20v-4m0-2v-3m0-8v-2m0-3v-2m0-16v-2m0-27v-4m0-11v-2m0-3v-4m0-41v-4m0-22v-2m0-30v-2M462 775v-2m0-11v-2m0-11v-1m0-29v-2m0-7v-2m0-9v-2m0-5v-2m0-4v-2m0-16v-2m0-13v-3m0-9v-2m0-7v-2m0-24v-1m0-4v-2m0-27v-2m0-5v-2m0-20v-2m0-11v-1m0-2v-2m0-15v-1m0-2v-2m0-29v-2m0-2v-1m0-17v-2m0-9v-1m0-2v-4m0-18v-2m0-29v-2m0-7v-2m0-1v-2m0-9v-2m0-9v-2m0-13v-1m0-2v-2m0-29v-2m0-2v-1m0-53v-2m0-20v-2m0-1v-2m0-20v-2m0-9v-2m0-16v-2m0-9v-2m0-21v-2m0-31v-2m0-11v-2M473 737v-2m0-4v-1m0-38v-2m0-120v-2m0-173v-2m0-2v-2m0-134v-2m0-7v-2m0-18v-2m0-21v-2m0-20v-2m0-14v-2m0-40v-2M484 759v-4m0-9v-4m0-2v-1m0-13v-2m0-2v-2m0-3v-2m0-2v-2m0-12v-2m0-11v-2m0-3v-2m0-6v-1m0-11v-4m0-4v-1m0-2v-2m0-7v-2m0-5v-2m0-9v-4m0-2v-2m0-16v-2m0-3v-2m0-20v-2m0-31v-1m0-2v-4m0-14v-2m0-13v-2m0-65v-2m0-14v-2m0-22v-1m0-11v-2m0-24v-2m0-19v-2m0-42v-2m0-14v-2m0-2v-2m0-39v-2m0-26v-1m0-6v-2m0-25v-2m0-14v-2m0-29v-6m0-12v-2m0-2v-2M489 777v-2m0-9v-2m0-4v-1m0-15v-2m0-16v-2m0-18v-2m0-18v-2m0-16v-2m0-16v-4m0-25v-2m0-18v-4m0-29v-3m0-27v-2m0-4v-2m0-18v-2m0-3v-2m0-2v-2m0-21v-2m0-11v-2m0-31v-1m0-60v-2m0-18v-4m0-41v-2m0-29v-2m0-24v-1m0-15v-2m0-7v-4m0-5v-2m0-11v-1m0-33v-2m0-11v-2m0-7v-2m0-58v-1M500 762v-2m0-11v-1m0-2v-2m0-13v-1m0-66v-1m0-46v-2m0-10v-2m0-11v-2m0-14v-6m0-12v-2m0-13v-2m0-12v-2m0-26v-1m0-8v-2m0-10v-4m0-24v-3m0-31v-2m0-16v-2m0-7v-2m0-22v-5m0-9v-2m0-13v-3m0-9v-2m0-15v-1m0-9v-2m0-8v-3m0-4v-3m0-2v-2m0-22v-2m0-1v-2m0-6v-1m0-9v-2m0-24v-2m0-1v-4m0-33v-1m0-8v-3m0-22v-2m0-22v-3m0-9v-4M511 760v-1m0-44v-2m0-18v-2m0-7v-2m0-3v-2m0-44v-1m0-15v-2m0-3v-2m0-15v-1m0-4v-2m0-5v-2m0-2v-2m0-7v-2m0-16v-2m0-25v-2m0-6v-1m0-6v-2m0-18v-2m0-48v-2m0-2v-2m0-9v-2m0-11v-3m0-11v-2m0-14v-2m0-18v-4m0-16v-2m0-5v-2m0-24v-2m0-1v-2m0-44v-2m0-16v-2m0-1v-2m0-35v-1m0-10v-1m0-42v-2m0-2v-1m0-28v-1m0-2v-2m0-11v-2m0-1v-6M516 744v-2m0-16v-4m0-16v-2m0-23v-8m0-1v-2m0-13v-2m0-11v-1m0-11v-2m0-63v-2m0-11v-2m0-13v-1m0-2v-2m0-34v-2m0-2v-2m0-29v-2m0-3v-2m0-7v-2m0-20v-2m0-14v-2m0-7v-2m0-17v-1m0-4v-2m0-2v-1m0-2v-2m0-13v-2m0-3v-2m0-4v-1m0-13v-2m0-11v-2m0-1v-4m0-27v-2m0-5v-2m0-6v-1m0-6v-4m0-32v-2m0-7v-2m0-2v-2m0-1v-2m0-18v-2m0-2v-2m0-76v-2m0-9v-1M527 768v-2m0-4v-2m0-16v-2m0-7v-2m0-14v-2m0-45v-2m0-4v-2m0-5v-2m0-25v-2m0-5v-2m0-4v-2m0-21v-2m0-17v-1m0-11v-7m0-4v-2m0-5v-4m0-2v-2m0-10v-6m0-4v-1m0-13v-2m0-18v-2m0-29v-3m0-28v-1m0-13v-2m0-27v-2m0-25v-2m0-2v-2m0-14v-2m0-9v-2m0-67v-3m0-28v-1m0-9v-4m0-9v-4m0-2v-1m0-4v-2m0-2v-1m0-8v-1m0-2v-2m0-2v-2m0-14v-4m0-11v-1m0-8v-2m0-10v-2m0-20v-4M538 780v-2m0-23v-2m0-34v-2m0-53v-3m0-46v-1m0-4v-2m0-2v-1m0-11v-2m0-33v-1m0-31v-2m0-6v-1m0-6v-2m0-5v-2m0-14v-4m0-5v-2m0-24v-2m0-27v-2m0-7v-2m0-34v-2m0-9v-2m0-1v-2m0-24v-2m0-14v-2m0-34v-2m0-6v-1m0-8v-1m0-2v-2m0-2v-4m0-3v-2m0-4v-1m0-4v-4m0-9v-1m0-10v-1m0-9v-2m0-35v-3m0-27v-2m0-2v-2m0-16v-2m0-5v-2m0-27v-2M543 780v-2m0-19v-4m0-9v-2m0-14v-2m0-2v-2m0-9v-2m0-49v-1m0-58v-2m0-4v-2m0-3v-2m0-31v-2m0-7v-2m0-9v-2m0-25v-2m0-32v-2m0-15v-5m0-6v-1m0-60v-4m0-119v-4m0-2v-2m0-3v-2m0-5v-2m0-2v-2m0-27v-2m0-32v-2m0-13v-2m0-23v-2m0-20v-4m0-1v-2m0-11v-2m0-2v-3m0-6v-3M554 784v-2m0-42v-1m0-20v-2m0-7v-2m0-20v-2m0-13v-1m0-17v-3m0-4v-2m0-16v-2m0-16v-2m0-7v-2m0-22v-2m0-9v-1m0-4v-2m0-5v-2m0-36v-2m0-11v-2m0-13v-1m0-4v-2m0-3v-2m0-40v-2m0-36v-2m0-7v-4m0-2v-1m0-22v-2m0-100v-1m0-24v-2m0-5v-2m0-2v-2m0-21v-2m0-31v-3m0-22v-2m0-4v-1m0-33v-2M565 768v-6m0-5v-2m0-7v-2m0-15v-1m0-2v-2m0-114v-2m0-22v-2m0-19v-2m0-18v-2m0-29v-2m0-4v-1m0-11v-6m0-21v-2m0-13v-2m0-61v-2m0-4v-2m0-1v-2m0-2v-2m0-9v-2m0-5v-6m0-3v-2m0-5v-4m0-13v-1m0-13v-2m0-14v-2m0-4v-2m0-40v-1m0-11v-2m0-13v-2m0-21v-2m0-15v-1m0-24v-2m0-20v-1m0-11v-2m0-25v-4m0-7v-2M570 760v-3m0-4v-2m0-12v-2m0-26v-3m0-18v-2m0-2v-2m0-5v-2m0-2v-2m0-7v-3m0-4v-2m0-4v-1m0-6v-2m0-18v-1m0-28v-1m0-2v-2m0-22v-2m0-1v-2m0-7v-2m0-13v-2m0-36v-2m0-9v-2m0-21v-2m0-18v-2m0-15v-1m0-4v-2m0-2v-2m0-16v-2m0-1v-4m0-2v-2m0-21v-2m0-11v-2m0-2v-2m0-86v-2m0-11v-2m0-5v-2m0-4v-3m0-2v-2m0-4v-1m0-39v-3m0-11v-2m0-60v-1m0-2v-2m0-4v-1m0-11v-2m0-2v-2M581 764v-2m0-5v-4m0-9v-2m0-2v-1m0-2v-2m0-27v-4m0-18v-2m0-25v-2m0-11v-2m0-1v-2m0-7v-2m0-7v-2m0-38v-4m0-16v-2m0-4v-3m0-26v-1m0-2v-2m0-16v-2m0-2v-2m0-3v-2m0-49v-2m0-11v-2m0-5v-2m0-9v-2m0-9v-2m0-9v-1m0-4v-2m0-2v-2m0-12v-2m0-25v-2m0-16v-4m0-7v-2m0-6v-1m0-2v-2m0-22v-3m0-2v-4m0-40v-1m0-2v-2m0-63v-6m0-13v-1m0-2v-6m0-12v-2m0-2v-5m0-8v-3m0-9v-2m0-7v-2M592 749v-1m0-24v-4m0-7v-2m0-21v-2m0-13v-2m0-34v-2m0-12v-2m0-67v-2m0-45v-2m0-11v-2m0-2v-2m0-5v-2m0-2v-1m0-28v-1m0-56v-2m0-15v-2m0-3v-2m0-36v-2m0-9v-2m0-9v-2m0-11v-1m0-4v-2m0-13v-1m0-67v-2m0-13v-2m0-20v-1m0-20v-2m0-33v-2m0-1v-2m0-4v-2m0-5v-2m0-9v-2M597 760v-1m0-15v-2m0-5v-4m0-5v-2m0-6v-1m0-8v-1m0-13v-2m0-11v-2m0-1v-2m0-24v-2m0-32v-2m0-4v-3m0-2v-2m0-7v-2m0-54v-2m0-2v-3m0-49v-2m0-2v-4m0-3v-2m0-2v-2m0-18v-2m0-23v-2m0-14v-2m0-15v-1m0-10v-1m0-8v-1m0-4v-2m0-7v-2m0-11v-2m0-12v-2m0-45v-2m0-47v-4m0-5v-2m0-16v-2m0-9v-2m0-24v-1m0-19v-1m0-28v-3m0-36v-2M608 753v-2m0-18v-2m0-5v-2m0-32v-2m0-24v-2m0-11v-1m0-27v-2m0-18v-2m0-15v-2m0-1v-2m0-7v-2m0-18v-2m0-7v-4m0-13v-1m0-2v-2m0-16v-2m0-24v-2m0-10v-2m0-2v-2m0-31v-1m0-13v-2m0-27v-2m0-25v-2m0-18v-2m0-18v-2m0-38v-2m0-12v-2m0-11v-2m0-18v-2m0-20v-2m0-14v-4m0-23v-2m0-20v-4m0-20v-1m0-8v-1m0-8v-1m0-20v-2M619 759v-2m0-2v-2m0-4v-1m0-9v-2m0-13v-2m0-12v-2m0-18v-2m0-22v-2m0-9v-2m0-3v-2m0-2v-2m0-27v-2m0-9v-3m0-35v-1m0-8v-1m0-15v-2m0-20v-2m0-18v-1m0-20v-2m0-4v-2m0-38v-1m0-19v-1m0-4v-2m0-2v-1m0-9v-2m0-47v-2m0-4v-2m0-14v-2m0-25v-2m0-6v-1m0-37v-1m0-11v-4m0-3v-2m0-6v-2m0-10v-2m0-20v-2m0-4v-1m0-4v-2m0-25v-2m0-33v-1m0-8v-1m0-2v-4m0-2v-1M624 748v-2m0-29v-2m0-5v-2m0-18v-2m0-4v-2m0-72v-2m0-2v-1m0-13v-2m0-13v-1m0-2v-2m0-45v-2m0-40v-2m0-11v-1m0-6v-2m0-1v-2m0-13v-2m0-20v-3m0-4v-2m0-9v-2m0-10v-2m0-4v-2m0-5v-2m0-4v-1m0-20v-2m0-22v-2m0-23v-2m0-20v-2m0-22v-1m0-9v-2m0-6v-1m0-20v-4m0-5v-2m0-29v-2m0-67v-2m0-23v-2M635 759v-2m0-27v-2m0-20v-4m0-2v-1m0-28v-3m0-2v-2m0-3v-2m0-31v-2m0-2v-1m0-8v-2m0-19v-2m0-11v-2m0-4v-1m0-29v-4m0-2v-2m0-18v-3m0-6v-2m0-7v-2m0-1v-6m0-34v-2m0-22v-2m0-1v-2m0-11v-2m0-11v-3m0-17v-3m0-37v-1m0-8v-1m0-13v-2m0-2v-2m0-1v-2m0-4v-2m0-5v-2m0-23v-2m0-6v-1m0-20v-2m0-20v-2m0-2v-2m0-41v-2m0-13v-1m0-4v-2m0-11v-2m0-27v-2m0-18v-1M646 742v-2m0-10v-2m0-4v-2m0-11v-1m0-11v-2m0-16v-2m0-26v-1m0-4v-2m0-21v-2m0-2v-2m0-13v-1m0-4v-2m0-11v-5m0-2v-2m0-14v-2m0-4v-1m0-39v-1m0-9v-2m0-22v-2m0-11v-1m0-13v-2m0-2v-2m0-16v-2m0-59v-2m0-13v-2m0-14v-2m0-9v-2m0-2v-1m0-28v-1m0-10v-1m0-6v-2m0-9v-5m0-4v-2m0-18v-1m0-33v-2m0-3v-2m0-9v-2m0-31v-2m0-54v-2m0-3v-2m0-8v-3M651 740v-3m0-11v-2m0-13v-1m0-13v-2m0-5v-2m0-15v-1m0-2v-2m0-2v-2m0-14v-2m0-7v-2m0-22v-2m0-9v-1m0-29v-2m0-11v-4m0-21v-2m0-2v-2m0-7v-2m0-5v-2m0-42v-2m0-5v-2m0-45v-2m0-16v-2m0-22v-3m0-44v-2m0-14v-2m0-5v-2m0-2v-2m0-18v-2m0-9v-2m0-5v-4m0-3v-2m0-4v-2m0-16v-2m0-32v-4m0-9v-2m0-12v-2m0-4v-2m0-5v-2m0-2v-3m0-2v-2m0-5v-2M662 768v-2m0-46v-1m0-4v-2m0-47v-3m0-8v-2m0-5v-2m0-12v-2m0-9v-2m0-6v-1m0-33v-2m0-18v-2m0-5v-4m0-9v-2m0-32v-2m0-13v-2m0-18v-1m0-13v-2m0-22v-1m0-31v-4m0-2v-1m0-13v-2m0-4v-1m0-8v-1m0-64v-2m0-23v-2m0-24v-3m0-4v-2m0-10v-2m0-20v-2m0-25v-2m0-11v-2m0-20v-2m0-21v-2m0-15v-3m0-15v-2M673 764v-2m0-14v-2m0-26v-3m0-9v-2m0-5v-2m0-13v-2m0-3v-2m0-20v-2m0-13v-1m0-4v-2m0-22v-1m0-24v-2m0-14v-2m0-9v-2m0-2v-1m0-19v-1m0-15v-2m0-70v-2m0-22v-2m0-38v-2m0-36v-2m0-18v-1m0-13v-2m0-20v-4m0-1v-2m0-18v-2m0-38v-2m0-36v-2m0-11v-2m0-67v-1M678 731v-1m0-31v-7m0-10v-1m0-15v-2m0-9v-2m0-41v-2m0-5v-2m0-6v-3m0-4v-2m0-2v-1m0-8v-1m0-2v-2m0-5v-2m0-13v-2m0-11v-1m0-2v-2m0-7v-2m0-6v-1m0-11v-2m0-22v-2m0-1v-2m0-4v-2m0-23v-2m0-16v-4m0-2v-2m0-36v-2m0-1v-2m0-6v-1m0-2v-4m0-27v-2m0-2v-1m0-2v-2m0-18v-2m0-9v-2m0-13v-1m0-15v-2m0-7v-2m0-11v-1m0-29v-2m0-2v-2m0-2v-1m0-13v-2m0-34v-4m0-45v-2m0-5v-4m0-16v-2M689 759v-4m0-11v-4m0-47v-5m0-11v-2m0-14v-2m0-4v-3m0-20v-2m0-56v-2m0-9v-4m0-36v-2m0-3v-2m0-47v-2m0-62v-3m0-26v-1m0-13v-2m0-13v-1m0-22v-2m0-4v-1m0-15v-2m0-5v-2m0-43v-2m0-29v-2m0-7v-2m0-7v-2m0-34v-2m0-9v-2m0-2v-2m0-11v-1m0-6v-4m0-16v-2m0-18v-2M705 768v-4m0-9v-2m0-20v-2m0-11v-3m0-16v-2m0-2v-2m0-13v-1m0-8v-1m0-53v-2m0-3v-2m0-27v-2m0-2v-4m0-3v-2m0-4v-1m0-13v-2m0-5v-2m0-15v-1m0-26v-2m0-12v-4m0-5v-2m0-2v-2m0-11v-1m0-10v-1m0-96v-4m0-5v-2m0-6v-3m0-60v-2m0-25v-2m0-4v-1m0-11v-2m0-7v-2m0-7v-2m0-22v-2m0-54v-2m0-4v-3M716 744v-2m0-9v-3m0-4v-2m0-5v-2m0-2v-2m0-36v-2m0-2v-1m0-9v-2m0-8v-1m0-8v-1m0-2v-2m0-20v-2m0-3v-2m0-6v-1m0-2v-2m0-2v-2m0-16v-2m0-18v-2m0-36v-2m0-40v-1m0-9v-2m0-13v-4m0-5v-2m0-29v-3m0-8v-1m0-4v-2m0-2v-3m0-26v-1m0-4v-2m0-20v-2m0-1v-2m0-22v-2m0-7v-2m0-14v-2m0-2v-2m0-3v-2m0-40v-4m0-1v-2m0-53v-3m0-2v-2m0-5v-2m0-17v-1m0-8v-1m0-10v-1m0-6v-2m0-5v-2m0-5v-2M727 771v-2m0-29v-1m0-22v-4m0-3v-2m0-4v-2m0-56v-2m0-16v-2m0-5v-2m0-20v-2m0-3v-4m0-5v-2m0-16v-2m0-2v-2m0-5v-2m0-4v-2m0-14v-2m0-11v-2m0-3v-2m0-9v-2m0-13v-1m0-22v-2m0-22v-1m0-13v-2m0-11v-3m0-2v-2m0-16v-4m0-43v-2m0-22v-2m0-7v-2m0-5v-2m0-4v-1m0-15v-2m0-7v-4m0-12v-2m0-44v-1m0-6v-2m0-1v-2m0-8v-1m0-8v-1m0-2v-2m0-2v-3m0-20v-2M759 784v-2m0-51v-1m0-10v-1m0-18v-2m0-4v-2m0-3v-2m0-2v-2m0-7v-2m0-9v-5m0-4v-2m0-32v-2m0-4v-5m0-7v-2m0-36v-2m0-4v-2m0-21v-2m0-11v-2m0-18v-2m0-18v-2m0-27v-2m0-16v-2m0-43v-2m0-2v-2m0-31v-3m0-2v-4m0-27v-2m0-7v-2m0-56v-2m0-65v-2m0-10v-2m0-9v-2m0-4v-2m0-14v-2m0-2v-1m0-48v-1M770 777v-2m0-6v-1m0-2v-2m0-38v-4m0-12v-2m0-4v-2m0-38v-3m0-29v-2m0-4v-1m0-28v-1m0-4v-2m0-2v-2m0-10v-2m0-11v-2m0-27v-2m0-5v-4m0-5v-2m0-36v-2m0-40v-2m0-7v-2m0-2v-2m0-10v-2m0-2v-2m0-7v-2m0-43v-2m0-15v-1m0-2v-2m0-15v-1m0-18v-2m0-37v-1m0-18v-2m0-2v-2m0-13v-1m0-22v-2m0-13v-1m0-2v-2m0-13v-1m0-11v-4m0-7v-2m0-4v-1m0-13v-2m0-9v-2m0-22v-1M797 795v-2m0-36v-2m0-9v-2m0-16v-2m0-16v-2m0-7v-2m0-18v-2m0-6v-1m0-13v-2m0-29v-2m0-25v-2m0-60v-1m0-9v-2m0-42v-2m0-23v-4m0-2v-2m0-3v-2m0-7v-2m0-4v-1m0-2v-2m0-73v-1m0-22v-2m0-16v-2m0-7v-2m0-7v-2m0-2v-2m0-9v-3m0-15v-4m0-7v-2m0-1v-2m0-36v-4m0-49v-4m0-7v-5m0-7v-2m0-4v-4m0-21v-2m0-16v-2M824 791v-2m0-25v-2m0-13v-1m0-22v-2m0-2v-3m0-8v-1m0-22v-2m0-14v-2m0-15v-2m0-1v-2m0-9v-2m0-51v-2m0-7v-2m0-27v-3m0-2v-2m0-5v-2m0-6v-1m0-4v-2m0-49v-3m0-28v-1m0-4v-2m0-31v-1m0-8v-1m0-17v-3m0-49v-2m0-13v-2m0-5v-2m0-25v-4m0-56v-2m0-12v-2m0-17v-1m0-2v-2m0-20v-2m0-16v-2m0-22v-1m0-13v-2m0-5v-2m0-2v-2M851 748v-2m0-64v-1m0-31v-2m0-23v-2m0-24v-2m0-7v-2m0-21v-2m0-7v-2m0-47v-2m0-11v-2m0-29v-2m0-12v-2m0-62v-2m0-12v-2m0-9v-2m0-5v-2m0-42v-2m0-5v-4m0-5v-2m0-5v-2m0-29v-2m0-25v-2m0-22v-2m0-3v-2m0-31v-2m0-12v-4m0-22v-2m0-36v-2M878 777v-2m0-15v-1m0-6v-2m0-23v-2m0-2v-2m0-11v-1m0-62v-2m0-3v-2m0-2v-2m0-18v-2m0-9v-2m0-3v-2m0-9v-2m0-4v-1m0-20v-2m0-2v-3m0-10v-1m0-20v-2m0-36v-2m0-15v-1m0-29v-2m0-45v-2m0-11v-2m0-33v-1m0-35v-2m0-5v-2m0-5v-2m0-15v-1m0-24v-2m0-21v-2m0-15v-2m0-21v-2m0-9v-2m0-5v-2m0-11v-2m0-4v-1m0-6v-2m0-9v-1m0-31v-2M905 759v-2m0-8v-3m0-7v-2m0-20v-2m0-36v-2m0-25v-2m0-11v-2m0-22v-3m0-15v-1m0-17v-2m0-7v-2m0-23v-2m0-38v-2m0-22v-1m0-9v-2m0-17v-1m0-17v-1m0-2v-2m0-18v-4m0-49v-2m0-23v-2m0-2v-1m0-39v-1m0-26v-2m0-30v-6m0-21v-2m0-4v-4m0-16v-2m0-10v-2m0-24v-3m0-26v-2M932 775v-2m0-53v-1m0-9v-2m0-4v-2m0-7v-2m0-1v-4m0-15v-1m0-20v-4m0-23v-4m0-49v-2m0-20v-2m0-56v-2m0-23v-2m0-5v-2m0-11v-2m0-27v-2m0-21v-2m0-9v-4m0-2v-2m0-12v-2m0-9v-2m0-16v-2m0-13v-2m0-9v-3m0-4v-2m0-58v-1m0-4v-2m0-9v-2m0-2v-1m0-2v-2m0-5v-4m0-15v-1m0-18v-4m0-11v-2m0-5v-2m0-2v-2m0-20v-1"/>
<path transform="translate(3)" stroke="#481a6c" stroke-width="6" d="M127 742v-2m0-105v-1m0-8v-1m0-51v-4m0-27v-2m0-70v-2m0-22v-2m0-14v-2m0-15v-1m0-13v-2m0-23v-2m0-6v-1m0-44v-2m0-9v-2m0-9v-1m0-20v-2m0-53v-2m0-5v-2m0-2v-1m0-38v-2m0-49v-4m0-16v-2M143 768v-2m0-11v-2m0-5v-4m0-14v-2m0-20v-2m0-2v-2m0-7v-3m0-40v-2m0-13v-2m0-7v-3m0-2v-2m0-9v-2m0-22v-2m0-10v-2m0-38v-2m0-5v-2m0-15v-2m0-70v-2m0-42v-1m0-10v-1m0-58v-2m0-78v-2m0-7v-2m0-25v-2m0-13v-2m0-1v-2m0-18v-2m0-18v-2m0-13v-1m0-8v-2m0-1v-2M154 771v-2m0-16v-2m0-9v-2m0-23v-6m0-7v-2m0-7v-2m0-7v-2m0-27v-2m0-36v-2m0-3v-2m0-4v-2m0-1v-2m0-15v-2m0-25v-2m0-3v-2m0-20v-2m0-11v-2m0-10v-2m0-56v-2m0-38v-4m0-5v-2m0-9v-2m0-13v-3m0-7v-4m0-2v-2m0-12v-2m0-9v-4m0-22v-1m0-8v-1m0-2v-4m0-4v-1m0-20v-2m0-4v-2m0-25v-2m0-9v-2m0-12v-2m0-5v-2m0-8v-5m0-9v-4m0-7v-2m0-1v-2m0-2v-2m0-33v-1m0-4v-2m0-3v-2m0-4v-2M170 757v-2m0-16v-2m0-15v-2m0-14v-2m0-2v-3m0-49v-2m0-23v-2m0-9v-2m0-9v-2m0-72v-2m0-8v-1m0-56v-2m0-9v-2m0-16v-2m0-11v-2m0-2v-2m0-50v-4m0-2v-2m0-28v-2m0-24v-2m0-5v-2m0-27v-2m0-14v-2m0-7v-2m0-4v-2m0-21v-2m0-26v-1m0-18v-2m0-4v-2m0-20v-3m0-8v-1m0-18v-2M181 753v-4m0-9v-1m0-40v-2m0-7v-2m0-13v-2m0-16v-2m0-21v-2m0-40v-2m0-4v-1m0-42v-2m0-12v-2m0-31v-2m0-2v-2m0-14v-2m0-2v-1m0-8v-1m0-19v-3m0-45v-2m0-20v-2m0-38v-2m0-3v-2m0-24v-3m0-10v-1m0-20v-2m0-2v-2m0-9v-2m0-12v-2m0-2v-2m0-43v-2m0-5v-2m0-36v-2m0-2v-2m0-7v-2m0-43v-2M197 768v-2m0-6v-1m0-29v-2m0-13v-2m0-7v-2m0-11v-1m0-64v-2m0-9v-2m0-9v-1m0-2v-4m0-13v-1m0-8v-1m0-9v-2m0-2v-4m0-11v-1m0-58v-2m0-4v-2m0-29v-1m0-15v-5m0-67v-2m0-2v-2m0-5v-2m0-9v-2m0-18v-2m0-16v-2m0-11v-3m0-2v-2m0-7v-2m0-13v-2m0-19v-2m0-6v-1m0-26v-2m0-20v-1m0-18v-2m0-13v-2m0-36v-2m0-7v-2m0-3v-2M208 759v-2m0-2v-2m0-27v-2m0-7v-2m0-5v-2m0-98v-2m0-36v-2m0-22v-1m0-8v-1m0-9v-2m0-26v-1m0-11v-2m0-2v-2m0-7v-2m0-27v-4m0-52v-2m0-4v-1m0-15v-2m0-7v-2m0-38v-2m0-10v-2m0-9v-2m0-13v-2m0-25v-2m0-12v-4m0-54v-2m0-6v-1m0-48v-1M224 780v-2m0-63v-2m0-32v-2m0-9v-6m0-41v-2m0-13v-2m0-30v-2m0-27v-2m0-18v-4m0-56v-4m0-21v-2m0-9v-4m0-11v-2m0-19v-2m0-17v-1m0-13v-2m0-7v-2m0-67v-2m0-12v-2m0-6v-2m0-16v-2m0-1v-2m0-4v-2m0-68v-2m0-33v-2m0-25v-4M235 784v-2m0-31v-2m0-14v-2m0-9v-4m0-16v-2m0-1v-2m0-13v-2m0-7v-2m0-7v-2m0-11v-2m0-5v-2m0-45v-4m0-61v-2m0-29v-2m0-7v-2m0-65v-4m0-20v-1m0-15v-2m0-11v-1m0-73v-2m0-11v-1m0-29v-2m0-60v-2m0-12v-2m0-9v-2m0-2v-2m0-12v-2m0-7v-2m0-9v-2m0-7v-2m0-18v-2m0-5v-2m0-4v-2M251 766v-2m0-31v-2m0-20v-1m0-8v-3m0-9v-2m0-18v-2m0-36v-2m0-29v-2m0-11v-2m0-68v-6m0-20v-3m0-4v-2m0-5v-2m0-11v-2m0-9v-2m0-14v-2m0-32v-2m0-33v-2m0-11v-1m0-6v-2m0-30v-2m0-6v-1m0-15v-2m0-12v-2m0-13v-2m0-7v-2m0-9v-2m0-29v-1m0-24v-2m0-21v-2m0-8v-1m0-35v-2m0-7v-2M262 784v-2m0-14v-2m0-55v-1m0-78v-4m0-107v-3m0-20v-2m0-20v-2m0-11v-1m0-51v-2m0-18v-2m0-29v-2m0-134v-2m0-19v-2m0-2v-4m0-30v-2m0-35v-2M278 755v-2m0-2v-2m0-3v-6m0-14v-2m0-4v-1m0-4v-2m0-2v-1m0-26v-2m0-5v-2m0-5v-6m0-9v-2m0-5v-2m0-23v-2m0-25v-2m0-20v-2m0-38v-2m0-7v-2m0-5v-2m0-9v-2m0-5v-2m0-8v-1m0-73v-2m0-32v-2m0-7v-4m0-54v-2m0-7v-4m0-32v-2m0-20v-2m0-38v-2m0-3v-2m0-26v-1m0-15v-2m0-47v-2m0-1v-2m0-7v-2m0-4v-5M289 731v-1m0-11v-4m0-22v-1m0-35v-2m0-36v-2m0-20v-1m0-4v-7m0-27v-2m0-60v-2m0-34v-2m0-15v-1m0-73v-2m0-5v-2m0-34v-2m0-33v-5m0-15v-1m0-15v-2m0-2v-1m0-13v-2m0-9v-2m0-11v-1m0-8v-1m0-13v-2m0-20v-2m0-29v-1m0-49v-2M305 746v-2m0-24v-1m0-15v-2m0-7v-2m0-5v-4m0-9v-2m0-18v-2m0-3v-4m0-32v-2m0-7v-2m0-2v-2m0-20v-2m0-7v-3m0-104v-1m0-6v-2m0-9v-2m0-9v-1m0-11v-2m0-7v-2m0-24v-2m0-10v-2m0-26v-1m0-17v-1m0-20v-2m0-11v-4m0-41v-2m0-2v-2m0-5v-2m0-4v-1m0-2v-2m0-7v-2m0-6v-1m0-11v-2m0-11v-2m0-9v-2m0-18v-2m0-61v-2M316 755v-2m0-14v-4m0-53v-1m0-20v-2m0-2v-2m0-50v-2m0-11v-2m0-34v-2m0-18v-2m0-65v-2m0-2v-2m0-5v-2m0-13v-1m0-40v-2m0-34v-2m0-18v-2m0-6v-1m0-42v-2m0-16v-4m0-5v-2m0-7v-2m0-13v-2m0-12v-2m0-20v-2m0-3v-2m0-2v-2m0-9v-2m0-16v-2m0-16v-2m0-25v-2m0-18v-2m0-7v-2M332 740v-1m0-2v-2m0-9v-2m0-4v-1m0-6v-3m0-24v-4m0-1v-2m0-11v-2m0-9v-2m0-5v-2m0-5v-2m0-49v-6m0-21v-2m0-15v-3m0-36v-2m0-6v-1m0-8v-2m0-18v-1m0-6v-2m0-7v-2m0-21v-2m0-2v-2m0-2v-2m0-30v-2m0-49v-2m0-12v-2m0-15v-2m0-34v-2m0-11v-2m0-10v-2m0-15v-1m0-6v-4m0-27v-2m0-3v-2m0-33v-1m0-2v-2m0-14v-2m0-8v-1m0-27v-2M343 762v-3m0-49v-2m0-9v-4m0-3v-2m0-24v-2m0-5v-2m0-29v-2m0-11v-1m0-28v-1m0-2v-2m0-29v-2m0-34v-2m0-87v-2m0-3v-2m0-2v-5m0-28v-1m0-11v-6m0-9v-3m0-24v-2m0-20v-3m0-49v-2m0-11v-2m0-14v-2m0-18v-2m0-16v-2m0-5v-2m0-40v-2m0-5v-2m0-20v-2m0-16v-4M359 755v-2m0-7v-4m0-5v-2m0-29v-2m0-14v-2m0-29v-2m0-22v-1m0-42v-2m0-69v-2m0-18v-1m0-4v-2m0-2v-2m0-10v-2m0-22v-2m0-2v-1m0-9v-2m0-29v-2m0-56v-2m0-14v-2m0-7v-2m0-11v-2m0-5v-2m0-6v-1m0-64v-2m0-49v-1m0-9v-2m0-27v-2m0-31v-4m0-7v-2m0-1v-2M370 746v-2m0-5v-2m0-11v-2m0-16v-2m0-22v-2m0-32v-4m0-25v-2m0-33v-1m0-55v-1m0-8v-2m0-12v-2m0-27v-2m0-22v-2m0-12v-2m0-2v-2m0-27v-2m0-7v-2m0-32v-2m0-4v-3m0-13v-2m0-12v-2m0-9v-2m0-6v-1m0-44v-2m0-7v-2m0-12v-2m0-20v-2m0-2v-2m0-9v-1m0-33v-4m0-5v-2m0-5v-2m0-20v-2M386 768v-2m0-22v-2m0-14v-2m0-65v-2m0-6v-3m0-22v-2m0-14v-2m0-51v-1m0-6v-2m0-5v-2m0-13v-1m0-28v-1m0-11v-4m0-18v-2m0-7v-2m0-2v-2m0-41v-2m0-38v-2m0-27v-2m0-9v-2m0-1v-2m0-6v-2m0-14v-2m0-7v-2m0-38v-2m0-16v-2m0-14v-2m0-18v-2m0-2v-2m0-21v-2m0-22v-2m0-29v-2m0-5v-2M397 724v-2m0-114v-2m0-20v-1m0-69v-2m0-7v-2m0-13v-2m0-25v-2m0-30v-2m0-26v-5m0-2v-2m0-83v-2m0-22v-1m0-13v-2m0-11v-2m0-14v-2m0-29v-2m0-18v-2m0-16v-3m0-2v-2m0-18v-2m0-2v-2m0-10v-2m0-4v-2m0-41v-2M413 771v-2m0-10v-2m0-2v-2m0-27v-2m0-9v-2m0-2v-1m0-13v-2m0-5v-2m0-6v-1m0-2v-2m0-4v-1m0-13v-2m0-16v-2m0-7v-2m0-40v-2m0-7v-2m0-38v-2m0-10v-2m0-8v-3m0-9v-2m0-36v-2m0-33v-1m0-24v-2m0-45v-2m0-4v-1m0-24v-2m0-11v-1m0-8v-1m0-8v-1m0-19v-1m0-8v-1m0-10v-1m0-4v-2m0-23v-2m0-9v-2m0-14v-2m0-40v-2m0-9v-2m0-7v-2M424 764v-4m0-3v-2m0-2v-2m0-31v-1m0-8v-1m0-13v-5m0-20v-2m0-6v-5m0-9v-2m0-9v-2m0-11v-1m0-35v-2m0-18v-2m0-14v-2m0-9v-2m0-3v-4m0-20v-2m0-16v-2m0-14v-2m0-20v-4m0-12v-2m0-4v-2m0-72v-2m0-22v-1m0-4v-4m0-25v-2m0-25v-2m0-29v-2m0-7v-2m0-5v-4m0-7v-2m0-7v-2m0-29v-2m0-7v-2m0-7v-2m0-33v-1m0-9v-2m0-11v-2M440 791v-2m0-70v-2m0-2v-2m0-3v-4m0-9v-2m0-16v-2m0-7v-2m0-18v-2m0-7v-4m0-27v-2m0-7v-2m0-9v-2m0-16v-2m0-2v-1m0-11v-2m0-18v-2m0-2v-2m0-9v-3m0-62v-2m0-76v-2m0-39v-2m0-36v-2m0-2v-2m0-9v-2m0-7v-2m0-11v-2m0-97v-2m0-44v-3m0-24v-3M451 740v-1m0-20v-2m0-60v-2m0-5v-2m0-5v-4m0-2v-2m0-10v-4m0-6v-1m0-22v-4m0-85v-2m0-9v-2m0-3v-2m0-9v-2m0-16v-2m0-11v-2m0-1v-2m0-11v-2m0-11v-2m0-3v-2m0-297v-2M467 768v-2m0-4v-2m0-16v-4m0-72v-2m0-70v-2m0-13v-2m0-40v-1m0-17v-2m0-5v-2m0-7v-2m0-2v-1m0-8v-2m0-9v-1m0-17v-1m0-55v-2m0-18v-3m0-6v-2m0-70v-2m0-5v-2m0-35v-2m0-5v-2m0-47v-2m0-12v-2m0-16v-2m0-24v-3M478 768v-2m0-17v-3m0-42v-2m0-1v-2m0-7v-2m0-9v-2m0-11v-4m0-1v-2m0-2v-2m0-5v-2m0-29v-2m0-4v-1m0-78v-2m0-5v-2m0-20v-2m0-15v-1m0-8v-1m0-20v-2m0-7v-2m0-13v-5m0-2v-2m0-13v-3m0-7v-2m0-62v-2m0-32v-2m0-11v-2m0-2v-1m0-66v-1m0-2v-2m0-22v-2m0-16v-2m0-5v-2m0-7v-2m0-36v-2M494 760v-1m0-2v-2m0-35v-1m0-6v-2m0-1v-2m0-9v-2m0-16v-2m0-4v-2m0-34v-2m0-3v-2m0-40v-2m0-2v-2m0-25v-2m0-47v-2m0-68v-2m0-20v-2m0-14v-4m0-127v-2m0-1v-2m0-4v-2m0-43v-4m0-23v-2m0-2v-2m0-9v-2m0-5v-2m0-14v-2m0-18v-2m0-44v-1M505 768v-2m0-6v-1m0-44v-2m0-7v-4m0-38v-1m0-4v-4m0-12v-2m0-45v-2m0-11v-2m0-4v-1m0-67v-2m0-7v-2m0-40v-2m0-4v-1m0-6v-2m0-1v-2m0-29v-2m0-27v-2m0-25v-4m0-31v-2m0-7v-2m0-5v-2m0-69v-1m0-6v-2m0-3v-2m0-15v-1m0-17v-2m0-59v-2m0-11v-2M521 739v-2m0-24v-2m0-3v-2m0-13v-1m0-8v-2m0-21v-2m0-36v-2m0-27v-2m0-7v-2m0-6v-1m0-9v-2m0-7v-2m0-2v-2m0-2v-2m0-30v-2m0-4v-2m0-10v-2m0-4v-2m0-7v-2m0-3v-2m0-26v-3m0-20v-4m0-5v-2m0-14v-6m0-27v-2m0-2v-1m0-28v-1m0-33v-2m0-22v-1m0-9v-2m0-51v-2m0-3v-2m0-13v-2m0-20v-1m0-15v-2m0-3v-2m0-7v-2m0-7v-4m0-11v-2m0-5v-2m0-5v-2m0-9v-4m0-2v-2m0-1v-2M532 766v-2m0-13v-2m0-61v-4m0-3v-2m0-7v-2m0-4v-2m0-14v-2m0-14v-2m0-15v-2m0-43v-2m0-9v-2m0-9v-5m0-7v-2m0-6v-1m0-4v-4m0-2v-1m0-17v-1m0-13v-2m0-7v-2m0-33v-1m0-2v-2m0-7v-2m0-24v-1m0-8v-3m0-8v-1m0-15v-2m0-20v-1m0-2v-2m0-4v-1m0-11v-2m0-6v-1m0-11v-2m0-15v-1m0-8v-3m0-4v-2m0-1v-2m0-47v-2m0-9v-2m0-42v-1m0-75v-2M548 775v-2m0-5v-2m0-6v-1m0-17v-3m0-2v-2m0-9v-2m0-11v-2m0-1v-2m0-7v-2m0-4v-2m0-5v-2m0-2v-2m0-12v-2m0-42v-1m0-42v-2m0-4v-1m0-4v-2m0-61v-2m0-18v-2m0-2v-2m0-72v-6m0-12v-2m0-27v-2m0-9v-2m0-34v-4m0-18v-2m0-7v-2m0-7v-2m0-2v-2m0-43v-2m0-5v-2m0-9v-2m0-22v-3m0-11v-2m0-9v-4m0-20v-1m0-2v-2m0-18v-2m0-2v-2m0-1v-2M559 766v-2m0-16v-4m0-11v-2m0-11v-1m0-22v-2m0-16v-2m0-25v-2m0-24v-3m0-2v-2m0-54v-4m0-18v-4m0-52v-2m0-4v-1m0-9v-2m0-4v-2m0-14v-2m0-29v-2m0-20v-1m0-35v-2m0-9v-3m0-6v-2m0-3v-2m0-11v-2m0-20v-1m0-111v-2m0-20v-1m0-24v-2m0-14v-2m0-11v-2m0-7v-2M575 760v-1m0-60v-4m0-18v-2m0-2v-1m0-2v-2m0-22v-3m0-38v-2m0-62v-2m0-1v-2m0-13v-2m0-32v-2m0-4v-2m0-7v-2m0-14v-2m0-5v-4m0-14v-4m0-22v-2m0-7v-2m0-14v-4m0-32v-2m0-31v-2m0-14v-2m0-4v-2m0-23v-2m0-13v-1m0-6v-2m0-9v-1m0-2v-2m0-27v-2m0-20v-2m0-52v-4m0-13v-3M586 771v-2m0-21v-4m0-9v-2m0-3v-2m0-18v-2m0-4v-2m0-63v-2m0-27v-2m0-3v-2m0-36v-2m0-6v-3m0-4v-2m0-12v-2m0-7v-2m0-55v-1m0-55v-2m0-41v-2m0-13v-2m0-9v-1m0-9v-2m0-4v-2m0-5v-2m0-4v-5m0-14v-2m0-4v-2m0-5v-2m0-25v-4m0-40v-2m0-9v-1m0-4v-2m0-2v-2m0-5v-2m0-41v-2m0-2v-2m0-29v-2m0-12v-2M602 728v-4m0-2v-3m0-26v-1m0-51v-2m0-4v-1m0-4v-2m0-25v-2m0-7v-2m0-20v-4m0-3v-2m0-7v-2m0-49v-2m0-9v-2m0-7v-2m0-2v-3m0-9v-2m0-15v-1m0-60v-2m0-11v-2m0-12v-2m0-2v-2m0-14v-2m0-16v-2m0-27v-2m0-15v-1m0-2v-2m0-2v-2m0-23v-2m0-24v-1m0-35v-2m0-16v-2m0-9v-2m0-3v-2m0-9v-2m0-3v-2m0-35v-1m0-10v-1M613 760v-1m0-31v-2m0-36v-2m0-4v-2m0-34v-2m0-18v-2m0-3v-2m0-45v-2m0-7v-2m0-4v-2m0-21v-4m0-49v-2m0-72v-2m0-4v-1m0-37v-3m0-4v-2m0-2v-1m0-4v-2m0-7v-2m0-12v-2m0-13v-4m0-9v-1m0-2v-2m0-22v-2m0-7v-2m0-29v-1m0-10v-1m0-17v-1m0-24v-2m0-16v-4m0-7v-2m0-56v-2M629 768v-2m0-13v-4m0-9v-1m0-17v-2m0-19v-2m0-18v-2m0-18v-2m0-62v-1m0-4v-4m0-34v-2m0-2v-2m0-38v-5m0-20v-2m0-3v-2m0-2v-4m0-12v-2m0-51v-2m0-1v-4m0-31v-2m0-3v-2m0-11v-2m0-60v-1m0-11v-2m0-2v-2m0-12v-2m0-33v-2m0-9v-1m0-20v-2m0-13v-2m0-36v-2m0-5v-2m0-22v-3m0-2v-2M640 764v-2m0-27v-4m0-23v-2m0-49v-2m0-34v-2m0-2v-2m0-9v-1m0-37v-1m0-2v-2m0-2v-2m0-3v-2m0-7v-2m0-24v-2m0-47v-1m0-28v-1m0-95v-1m0-24v-4m0-45v-2m0-5v-4m0-7v-4m0-41v-2m0-5v-2m0-42v-2M656 760v-3m0-2v-2m0-29v-2m0-41v-2m0-6v-3m0-7v-2m0-22v-4m0-5v-2m0-2v-1m0-13v-2m0-7v-2m0-9v-2m0-27v-2m0-20v-2m0-1v-2m0-2v-2m0-34v-2m0-15v-1m0-22v-2m0-5v-2m0-15v-1m0-42v-2m0-23v-2m0-33v-2m0-18v-2m0-10v-2m0-17v-1m0-105v-2m0-2v-2m0-52v-2m0-2v-2M667 757v-2m0-15v-1m0-11v-2m0-13v-2m0-54v-2m0-27v-2m0-94v-2m0-3v-2m0-51v-2m0-36v-2m0-49v-1m0-13v-2m0-52v-4m0-43v-2m0-9v-2m0-2v-2m0-43v-2m0-33v-1m0-8v-1m0-37v-2m0-21v-2m0-4v-1M683 777v-2m0-11v-2m0-22v-1m0-26v-2m0-43v-2m0-2v-1m0-8v-2m0-14v-2m0-81v-2m0-20v-2m0-94v-2m0-9v-2m0-90v-2m0-5v-2m0-11v-2m0-11v-2m0-3v-2m0-6v-3m0-6v-1m0-11v-2m0-24v-1m0-15v-2m0-36v-2m0-21v-4m0-27v-2m0-36v-2m0-2v-4M694 757v-2m0-4v-3m0-9v-2m0-6v-1m0-80v-2m0-2v-2m0-12v-2m0-7v-2m0-25v-2m0-51v-2m0-12v-2m0-18v-2m0-2v-2m0-3v-2m0-8v-1m0-22v-2m0-11v-2m0-38v-1m0-29v-2m0-22v-2m0-34v-2m0-2v-2m0-97v-2m0-58v-2m0-7v-2m0-11v-2m0-14v-4m0-5v-2m0-7v-2M737 695v-2m0-74v-2m0-9v-2m0-21v-2m0-9v-2m0-43v-2m0-11v-2m0-24v-1m0-17v-1m0-9v-2m0-18v-2m0-20v-2m0-42v-1m0-38v-2m0-13v-2m0-11v-1m0-19v-1m0-2v-2m0-20v-2m0-54v-2m0-5v-2m0-18v-4m0-3v-2m0-11v-2m0-31v-2m0-3v-2M748 784v-2m0-7v-2m0-13v-3m0-6v-2m0-9v-1m0-8v-1m0-31v-2m0-2v-2m0-49v-1m0-11v-2m0-9v-2m0-22v-1m0-57v-1m0-15v-2m0-18v-2m0-21v-2m0-15v-3m0-17v-1m0-13v-2m0-2v-2m0-28v-2m0-4v-2m0-9v-2m0-14v-2m0-11v-2m0-16v-2m0-30v-2m0-17v-1m0-11v-2m0-6v-1m0-20v-2m0-13v-2m0-12v-2m0-2v-2m0-1v-4m0-15v-1m0-4v-2m0-16v-2m0-51v-1"/>
<path transform="translate(2.5)" stroke="#481a6c" stroke-width="5" d="M122 742v-2m0-32v-2m0-24v-1m0-69v-2m0-11v-2m0-16v-2m0-12v-2m0-62v-2m0-34v-2m0-60v-1m0-13v-2m0-25v-2m0-27v-2m0-7v-2m0-7v-2m0-16v-2m0-26v-1m0-2v-2m0-24v-1m0-28v-3m0-2v-2m0-49v-2m0-9v-1m0-13v-2m0-14v-2m0-6v-1M133 737v-2m0-65v-2m0-4v-1m0-8v-2m0-1v-2m0-62v-2m0-1v-4m0-27v-4m0-21v-2m0-6v-2m0-3v-2m0-14v-2m0-31v-2m0-32v-2m0-6v-2m0-10v-2m0-58v-2m0-4v-1m0-2v-2m0-20v-2m0-3v-2m0-13v-2m0-7v-2m0-5v-2m0-4v-1m0-2v-2m0-18v-4m0-27v-2m0-9v-2m0-10v-2m0-11v-2m0-49v-2m0-11v-1m0-13v-2m0-3v-2m0-4v-2m0-3v-2M138 746v-2m0-14v-2m0-6v-2m0-21v-2m0-31v-2m0-1v-2m0-18v-2m0-53v-2m0-12v-6m0-21v-2m0-16v-2m0-9v-2m0-47v-2m0-9v-2m0-29v-2m0-12v-2m0-2v-2m0-45v-2m0-22v-1m0-57v-3m0-2v-2m0-20v-2m0-32v-2m0-7v-2m0-9v-2m0-4v-1m0-8v-1m0-46v-1m0-26v-2m0-16v-4M149 753v-2m0-2v-1m0-4v-2m0-20v-2m0-3v-2m0-34v-2m0-13v-2m0-9v-2m0-27v-1m0-2v-2m0-62v-1m0-4v-2m0-13v-1m0-8v-1m0-6v-2m0-2v-1m0-11v-2m0-72v-2m0-15v-3m0-17v-1m0-64v-3m0-2v-2m0-18v-2m0-89v-2m0-16v-2m0-25v-2m0-13v-1m0-11v-4m0-3v-2m0-31v-2m0-5v-2M160 773v-2m0-41v-2m0-24v-2m0-14v-2m0-9v-2m0-23v-4m0-9v-2m0-11v-1m0-20v-2m0-11v-2m0-2v-2m0-23v-2m0-52v-2m0-4v-2m0-27v-2m0-5v-2m0-18v-2m0-29v-3m0-31v-2m0-22v-2m0-9v-3m0-26v-1m0-9v-2m0-7v-2m0-46v-1m0-28v-1m0-9v-2m0-2v-2m0-7v-2m0-31v-1m0-6v-2m0-20v-1M165 764v-2m0-25v-2m0-25v-2m0-7v-4m0-2v-2m0-7v-4m0-7v-2m0-10v-2m0-22v-2m0-3v-2m0-4v-3m0-89v-2m0-40v-2m0-18v-2m0-74v-2m0-94v-2m0-18v-3m0-29v-2m0-2v-2m0-16v-2m0-23v-2m0-55v-1m0-6v-2m0-7v-2M176 768v-2m0-15v-3m0-29v-2m0-9v-2m0-49v-2m0-3v-2m0-11v-2m0-2v-1m0-9v-2m0-8v-1m0-40v-2m0-43v-2m0-2v-2m0-11v-2m0-18v-2m0-21v-2m0-4v-1m0-2v-4m0-2v-2m0-70v-2m0-47v-2m0-9v-2m0-12v-2m0-7v-2m0-13v-2m0-14v-2m0-9v-6m0-19v-2m0-8v-1m0-6v-2m0-21v-2m0-4v-2m0-5v-2m0-3v-2m0-29v-2m0-9v-2m0-16v-2m0-7v-4M187 759v-2m0-4v-2m0-16v-2m0-13v-3m0-6v-3m0-9v-2m0-15v-3m0-13v-2m0-29v-1m0-9v-2m0-2v-2m0-29v-2m0-2v-1m0-4v-2m0-2v-1m0-18v-2m0-8v-1m0-28v-1m0-2v-2m0-29v-2m0-14v-2m0-9v-2m0-36v-2m0-18v-2m0-20v-2m0-1v-2m0-9v-2m0-16v-2m0-9v-2m0-5v-2m0-18v-2m0-4v-2m0-49v-1m0-20v-2m0-25v-2m0-31v-2m0-3v-2m0-40v-2m0-7v-2m0-22v-2M192 762v-2m0-7v-2m0-2v-1m0-44v-2m0-20v-1m0-9v-2m0-87v-4m0-18v-2m0-7v-2m0-43v-2m0-2v-2m0-1v-2m0-8v-1m0-4v-2m0-47v-2m0-9v-2m0-30v-2m0-13v-2m0-10v-4m0-22v-2m0-16v-2m0-2v-1m0-17v-1m0-15v-2m0-11v-1m0-17v-2m0-30v-2m0-4v-2m0-14v-2m0-18v-2m0-7v-2m0-9v-4m0-3v-2m0-11v-2m0-23v-2m0-7v-2M203 759v-2m0-17v-1m0-38v-2m0-15v-2m0-10v-2m0-11v-2m0-9v-2m0-5v-2m0-5v-2m0-7v-2m0-13v-2m0-9v-2m0-1v-2m0-18v-2m0-4v-2m0-3v-2m0-5v-2m0-20v-2m0-27v-2m0-5v-2m0-24v-3m0-4v-2m0-13v-1m0-28v-1m0-17v-1m0-13v-6m0-19v-2m0-2v-2m0-7v-2m0-7v-2m0-4v-1m0-48v-3m0-33v-2m0-14v-2m0-11v-2m0-3v-2m0-22v-2m0-3v-2m0-5v-2m0-33v-2m0-5v-2m0-23v-4m0-4v-1m0-4v-2m0-3v-2m0-6v-2M214 762v-2m0-27v-2m0-23v-4m0-40v-1m0-26v-2m0-3v-2m0-27v-4m0-32v-2m0-11v-2m0-7v-2m0-2v-2m0-9v-1m0-19v-1m0-17v-2m0-19v-2m0-4v-2m0-7v-2m0-5v-2m0-11v-2m0-25v-2m0-22v-3m0-9v-2m0-4v-1m0-31v-2m0-13v-2m0-5v-2m0-2v-1m0-2v-2m0-58v-2m0-2v-1m0-2v-2m0-58v-2m0-3v-2m0-20v-2m0-40v-5M219 760v-3m0-13v-2m0-2v-1m0-62v-2m0-9v-2m0-1v-2m0-33v-2m0-27v-2m0-49v-1m0-8v-1m0-20v-2m0-7v-2m0-9v-4m0-4v-1m0-11v-2m0-18v-2m0-25v-2m0-9v-2m0-45v-2m0-15v-1m0-47v-4m0-9v-2m0-4v-1m0-40v-2m0-7v-2m0-7v-2m0-16v-2m0-13v-2m0-3v-2m0-15v-1m0-73v-2M230 749v-1m0-22v-2m0-43v-2m0-22v-2m0-29v-1m0-22v-2m0-9v-2m0-7v-2m0-31v-2m0-76v-1m0-58v-2m0-2v-2m0-38v-2m0-47v-2m0-27v-2m0-21v-4m0-23v-2m0-27v-2m0-4v-2m0-3v-4m0-16v-2m0-2v-3m0-24v-2m0-18v-2m0-21v-2M241 753v-4m0-1v-2m0-64v-1m0-102v-2m0-54v-2m0-11v-1m0-82v-2m0-18v-2m0-9v-3m0-44v-3m0-98v-2m0-14v-2m0-4v-4m0-12v-2m0-22v-2m0-5v-2m0-12v-2m0-27v-2M246 764v-2m0-9v-2m0-18v-2m0-18v-2m0-1v-2m0-4v-2m0-9v-3m0-9v-2m0-9v-2m0-7v-2m0-33v-1m0-40v-2m0-18v-2m0-2v-2m0-7v-2m0-9v-2m0-16v-2m0-5v-4m0-14v-2m0-20v-4m0-23v-2m0-18v-4m0-7v-2m0-23v-2m0-18v-2m0-22v-2m0-50v-2m0-15v-1m0-8v-1m0-75v-2m0-43v-2m0-2v-1m0-22v-2m0-2v-2M257 755v-2m0-20v-2m0-16v-4m0-54v-2m0-3v-2m0-16v-2m0-55v-1m0-29v-2m0-9v-2m0-13v-2m0-74v-2m0-3v-2m0-9v-2m0-2v-2m0-1v-2m0-7v-2m0-47v-4m0-11v-2m0-5v-2m0-20v-3m0-11v-2m0-9v-6m0-21v-2m0-49v-2m0-22v-1m0-40v-4m0-34v-2m0-14v-2m0-2v-2M268 690v-2m0-4v-2m0-10v-2m0-36v-2m0-22v-2m0-32v-2m0-4v-2m0-32v-4m0-9v-2m0-21v-2m0-9v-2m0-22v-2m0-16v-2m0-41v-2m0-42v-2m0-30v-2m0-2v-4m0-32v-2m0-16v-2m0-6v-2m0-1v-2m0-31v-2m0-2v-3m0-7v-4m0-22v-2m0-86v-2M273 760v-1m0-77v-1m0-51v-2m0-9v-2m0-7v-2m0-190v-2m0-11v-1m0-118v-2m0-2v-2m0-16v-2m0-23v-2m0-18v-2m0-5v-2m0-15v-2m0-23v-2m0-9v-2m0-27v-2M284 753v-2m0-2v-1m0-11v-2m0-100v-1m0-22v-2m0-67v-2m0-22v-1m0-18v-2m0-18v-2m0-22v-4m0-56v-1m0-11v-2m0-26v-1m0-8v-1m0-28v-1m0-4v-2m0-41v-2m0-8v-3m0-2v-4m0-23v-2m0-36v-2m0-23v-2m0-9v-2m0-6v-1m0-28v-1M295 759v-2m0-64v-1m0-46v-2m0-7v-2m0-36v-2m0-3v-2m0-11v-4m0-10v-2m0-11v-2m0-2v-2m0-45v-3m0-24v-2m0-14v-2m0-100v-2m0-19v-2m0-4v-2m0-1v-2m0-15v-2m0-3v-2m0-9v-2m0-31v-2m0-9v-1m0-37v-1m0-62v-2m0-12v-2m0-2v-4m0-9v-3m0-13v-2m0-7v-2M300 768v-2m0-51v-4m0-1v-2m0-31v-2m0-9v-2m0-11v-3m0-16v-2m0-13v-2m0-5v-2m0-20v-2m0-3v-4m0-5v-2m0-7v-2m0-6v-1m0-20v-2m0-51v-4m0-14v-2m0-7v-4m0-32v-2m0-6v-1m0-9v-2m0-18v-2m0-11v-4m0-38v-1m0-39v-1m0-9v-2m0-2v-2m0-16v-2m0-5v-2m0-4v-2m0-34v-5m0-20v-2m0-24v-2m0-5v-2m0-11v-3M311 733v-2m0-30v-4m0-44v-1m0-11v-2m0-33v-1m0-2v-2m0-89v-2m0-14v-2m0-4v-1m0-11v-2m0-22v-2m0-12v-2m0-9v-2m0-27v-2m0-22v-1m0-40v-2m0-24v-1m0-24v-2m0-38v-2m0-9v-1m0-20v-2m0-15v-3m0-31v-2m0-61v-2M322 760v-1m0-19v-1m0-9v-2m0-18v-2m0-2v-2m0-23v-2m0-18v-2m0-22v-3m0-6v-3m0-13v-2m0-5v-2m0-4v-2m0-21v-2m0-36v-2m0-4v-2m0-7v-2m0-21v-2m0-13v-2m0-5v-2m0-18v-2m0-4v-1m0-4v-2m0-2v-1m0-2v-2m0-4v-1m0-8v-2m0-12v-2m0-2v-2m0-12v-2m0-18v-2m0-63v-2m0-4v-2m0-1v-2m0-15v-2m0-14v-2m0-27v-2m0-13v-1m0-11v-2m0-5v-2m0-20v-2m0-54v-2m0-24v-1M327 768v-2m0-2v-2m0-107v-2m0-21v-2m0-5v-4m0-11v-2m0-41v-2m0-4v-3m0-8v-2m0-1v-2m0-22v-2m0-16v-2m0-27v-2m0-9v-2m0-1v-2m0-37v-1m0-11v-2m0-2v-2m0-1v-2m0-7v-4m0-2v-2m0-14v-2m0-34v-2m0-11v-2m0-14v-4m0-9v-2m0-4v-1m0-35v-2m0-1v-2m0-16v-2m0-9v-2m0-20v-4m0-16v-2m0-5v-2m0-2v-2m0-1v-2m0-40v-2m0-14v-2m0-13v-2m0-2v-1M338 735v-2m0-5v-2m0-6v-1m0-26v-1m0-6v-2m0-36v-2m0-7v-2m0-3v-2m0-6v-1m0-13v-2m0-31v-3m0-8v-1m0-28v-1m0-8v-1m0-11v-4m0-27v-2m0-18v-4m0-1v-2m0-2v-2m0-51v-1m0-2v-2m0-15v-1m0-62v-4m0-27v-2m0-16v-2m0-11v-1m0-22v-2m0-2v-1m0-28v-1m0-55v-2m0-10v-2m0-8v-1m0-2v-2m0-29v-2M349 751v-2m0-5v-2m0-25v-2m0-23v-4m0-18v-2m0-27v-2m0-38v-2m0-14v-2m0-6v-1m0-17v-1m0-8v-2m0-5v-2m0-47v-2m0-27v-2m0-20v-1m0-6v-2m0-81v-2m0-16v-2m0-20v-2m0-25v-2m0-14v-2m0-2v-2m0-13v-1m0-57v-1m0-11v-2m0-5v-2m0-7v-2m0-13v-2m0-3v-2M354 748v-2m0-2v-2m0-16v-2m0-25v-2m0-7v-2m0-4v-2m0-25v-2m0-20v-1m0-4v-2m0-22v-1m0-15v-2m0-18v-2m0-5v-2m0-38v-2m0-32v-2m0-44v-1m0-13v-2m0-9v-2m0-18v-2m0-5v-2m0-13v-3m0-2v-2m0-13v-1m0-22v-2m0-5v-2m0-29v-2m0-20v-2m0-20v-1m0-8v-1m0-15v-2m0-11v-1m0-44v-5m0-26v-1m0-10v-1m0-26v-1M365 759v-2m0-11v-2m0-5v-4m0-29v-2m0-31v-1m0-11v-2m0-20v-2m0-40v-1m0-8v-2m0-68v-2m0-18v-4m0-9v-2m0-40v-3m0-35v-1m0-13v-2m0-7v-2m0-4v-1m0-35v-2m0-14v-2m0-4v-1m0-53v-2m0-58v-1m0-26v-2m0-5v-2m0-9v-2m0-9v-3M376 757v-2m0-6v-1m0-55v-1m0-69v-2m0-20v-2m0-2v-1m0-57v-3m0-9v-2m0-27v-2m0-2v-2m0-2v-1m0-9v-2m0-40v-2m0-7v-2m0-5v-2m0-13v-2m0-12v-2m0-7v-2m0-2v-2m0-3v-2m0-2v-2m0-9v-2m0-9v-2m0-1v-4m0-7v-2m0-5v-4m0-44v-1m0-9v-2m0-15v-2m0-1v-2m0-20v-4m0-81v-2m0-5v-4m0-4v-3m0-17v-1M381 748v-2m0-16v-2m0-17v-1m0-11v-2m0-16v-2m0-4v-2m0-7v-2m0-21v-2m0-13v-2m0-23v-2m0-31v-2m0-20v-1m0-35v-2m0-3v-2m0-5v-2m0-27v-2m0-6v-1m0-46v-2m0-27v-2m0-16v-2m0-11v-1m0-17v-1m0-9v-2m0-33v-2m0-20v-1m0-2v-2m0-15v-1m0-6v-2m0-16v-2m0-2v-1m0-15v-2m0-27v-3m0-4v-2m0-14v-4m0-14v-2m0-36v-2M392 766v-2m0-2v-2m0-12v-2m0-11v-5m0-2v-2m0-25v-2m0-15v-2m0-7v-2m0-3v-4m0-5v-2m0-16v-2m0-15v-3m0-24v-2m0-23v-2m0-25v-2m0-2v-2m0-29v-2m0-20v-1m0-2v-2m0-4v-3m0-7v-2m0-6v-1m0-8v-2m0-3v-2m0-69v-2m0-3v-2m0-7v-4m0-5v-2m0-9v-2m0-13v-1m0-10v-1m0-8v-1m0-31v-2m0-5v-2m0-27v-2m0-33v-2m0-18v-2m0-18v-1m0-6v-2m0-21v-2m0-4v-2m0-5v-2m0-20v-2m0-9v-2M403 744v-2m0-11v-1m0-33v-2m0-25v-4m0-16v-4m0-20v-1m0-24v-2m0-40v-1m0-15v-2m0-3v-2m0-2v-2m0-18v-4m0-25v-2m0-7v-2m0-36v-2m0-7v-2m0-5v-2m0-53v-1m0-40v-4m0-7v-2m0-7v-4m0-11v-3m0-4v-2m0-5v-2m0-29v-2m0-27v-2m0-2v-1m0-19v-1m0-9v-4m0-4v-1m0-46v-2m0-10v-2m0-9v-2m0-2v-2M408 800v-2m0-81v-4m0-50v-2m0-27v-2m0-36v-2m0-27v-2m0-11v-2m0-13v-3m0-9v-2m0-35v-1m0-6v-2m0-7v-2m0-7v-2m0-9v-2m0-14v-4m0-61v-2m0-2v-2m0-11v-1m0-6v-2m0-16v-3m0-22v-2m0-27v-2m0-4v-1m0-10v-1m0-2v-2m0-18v-2m0-27v-2m0-2v-1m0-6v-2m0-3v-2m0-74v-2M419 768v-2m0-17v-3m0-2v-2m0-2v-1m0-13v-2m0-4v-3m0-9v-4m0-12v-6m0-4v-1m0-2v-2m0-18v-4m0-7v-2m0-7v-2m0-11v-1m0-10v-1m0-9v-2m0-15v-3m0-31v-4m0-9v-2m0-3v-2m0-63v-2m0-6v-1m0-4v-2m0-7v-2m0-5v-2m0-17v-1m0-9v-4m0-25v-4m0-4v-5m0-22v-2m0-54v-2m0-9v-2m0-16v-2m0-7v-2m0-25v-2m0-4v-1m0-2v-2m0-18v-4m0-2v-1m0-4v-2m0-36v-2m0-25v-2m0-34v-2M430 751v-2m0-7v-2m0-5v-2m0-3v-2m0-2v-4m0-9v-3m0-22v-2m0-2v-2m0-7v-2m0-10v-4m0-9v-2m0-14v-2m0-9v-2m0-9v-2m0-13v-3m0-6v-2m0-5v-2m0-12v-2m0-31v-2m0-3v-2m0-20v-2m0-76v-2m0-32v-2m0-51v-2m0-11v-1m0-15v-2m0-5v-2m0-7v-2m0-16v-2m0-7v-2m0-17v-1m0-2v-2m0-7v-2m0-24v-3m0-24v-2m0-36v-2m0-5v-2m0-14v-2m0-7v-2m0-27v-2M435 768v-2m0-13v-2m0-21v-2m0-2v-2m0-7v-2m0-2v-2m0-12v-4m0-23v-2m0-17v-1m0-46v-1m0-8v-1m0-2v-2m0-4v-2m0-28v-2m0-2v-2m0-4v-1m0-9v-2m0-9v-2m0-11v-2m0-2v-3m0-13v-2m0-30v-2m0-2v-2m0-7v-2m0-2v-2m0-10v-2m0-13v-2m0-14v-2m0-5v-2m0-22v-4m0-9v-2m0-39v-2m0-44v-1m0-15v-2m0-23v-2m0-13v-2m0-20v-1m0-2v-2m0-2v-2m0-32v-2m0-36v-2m0-2v-2m0-16v-2M446 748v-4m0-22v-2m0-7v-2m0-5v-2m0-3v-2m0-51v-2m0-32v-2m0-16v-2m0-4v-2m0-38v-3m0-2v-2m0-54v-2m0-4v-2m0-9v-1m0-8v-1m0-35v-2m0-7v-2m0-40v-1m0-38v-2m0-11v-2m0-27v-2m0-14v-2m0-18v-2m0-7v-2m0-35v-1m0-2v-2m0-13v-2m0-34v-2m0-27v-2m0-11v-1m0-18v-2m0-4v-2M457 753v-2m0-23v-2m0-13v-2m0-14v-2m0-25v-2m0-56v-2m0-5v-2m0-58v-2m0-45v-2m0-13v-2m0-10v-2m0-27v-2m0-13v-4m0-3v-2m0-14v-2m0-6v-1m0-4v-2m0-2v-2m0-21v-2m0-36v-2m0-7v-2m0-13v-2m0-12v-2m0-31v-2m0-9v-2m0-25v-4m0-27v-2m0-29v-1m0-28v-1m0-8v-1m0-4v-4m0-5v-2m0-9v-2M462 786v-2m0-7v-2m0-18v-2m0-9v-2m0-22v-3m0-11v-2m0-22v-2m0-39v-2m0-4v-2m0-43v-4m0-30v-2m0-2v-2m0-4v-1m0-11v-2m0-18v-2m0-13v-1m0-35v-2m0-21v-2m0-7v-2m0-15v-2m0-1v-2m0-53v-2m0-99v-2m0-11v-2m0-12v-2m0-11v-2m0-14v-2m0-4v-2m0-50v-4m0-11v-5m0-15v-1m0-6v-2m0-3v-2M473 735v-2m0-3v-2m0-20v-2m0-53v-1m0-15v-2m0-14v-4m0-20v-1m0-13v-2m0-136v-2m0-67v-1m0-261v-2M484 771v-2m0-9v-1m0-17v-2m0-32v-2m0-4v-1m0-4v-2m0-3v-2m0-6v-2m0-16v-2m0-12v-2m0-36v-4m0-22v-2m0-30v-2m0-25v-4m0-45v-2m0-7v-2m0-11v-2m0-18v-2m0-20v-2m0-19v-2m0-4v-2m0-20v-1m0-4v-2m0-7v-2m0-5v-4m0-7v-2m0-2v-2m0-11v-1m0-6v-3m0-2v-2m0-15v-1m0-18v-2m0-4v-2m0-14v-2m0-2v-2m0-7v-2m0-7v-2m0-7v-2m0-2v-1m0-4v-2m0-11v-2m0-16v-2m0-1v-2m0-4v-3m0-26v-2m0-1v-2m0-2v-2M489 751v-2m0-7v-2m0-16v-2m0-14v-2m0-16v-2m0-42v-2m0-27v-3m0-35v-2m0-7v-2m0-32v-2m0-4v-1m0-93v-2m0-1v-2m0-29v-2m0-45v-2m0-74v-2m0-44v-1m0-22v-2m0-49v-2m0-50v-2m0-2v-2m0-9v-2M500 773v-2m0-20v-2m0-9v-1m0-11v-2m0-4v-2m0-1v-2m0-13v-2m0-3v-4m0-7v-2m0-5v-2m0-2v-2m0-40v-1m0-26v-3m0-11v-2m0-7v-2m0-35v-1m0-9v-2m0-6v-1m0-10v-3m0-44v-1m0-31v-4m0-90v-2m0-4v-2m0-9v-1m0-4v-2m0-7v-2m0-67v-4m0-52v-2m0-2v-2m0-1v-2m0-11v-4m0-14v-4m0-36v-4m0-3v-2m0-2v-3m0-6v-2m0-2v-1M511 762v-2m0-18v-2m0-12v-2m0-9v-2m0-11v-2m0-1v-2m0-42v-2m0-11v-1m0-37v-1m0-11v-2m0-9v-2m0-7v-2m0-20v-2m0-9v-2m0-34v-2m0-20v-2m0-3v-2m0-9v-2m0-22v-1m0-11v-2m0-11v-2m0-67v-2m0-1v-2m0-9v-2m0-34v-2m0-15v-2m0-3v-2m0-2v-2m0-7v-2m0-29v-1m0-13v-2m0-7v-2m0-2v-2m0-79v-2m0-18v-2M516 760v-1m0-17v-2m0-7v-2m0-83v-2m0-25v-2m0-20v-3m0-2v-2m0-9v-2m0-13v-1m0-2v-2m0-5v-2m0-26v-1m0-40v-2m0-13v-2m0-25v-2m0-5v-2m0-5v-2m0-6v-2m0-61v-2m0-11v-2m0-3v-2m0-16v-2m0-18v-2m0-5v-2m0-9v-2m0-11v-2m0-14v-2m0-53v-1m0-10v-1m0-2v-2m0-45v-2m0-2v-2m0-21v-2m0-2v-2m0-9v-2M527 760v-3m0-8v-1m0-17v-1m0-15v-4m0-7v-2m0-5v-2m0-7v-2m0-60v-1m0-4v-2m0-38v-2m0-23v-2m0-20v-2m0-34v-2m0-45v-2m0-16v-2m0-17v-1m0-6v-2m0-16v-2m0-16v-2m0-18v-2m0-14v-2m0-20v-2m0-9v-2m0-20v-1m0-9v-2m0-13v-2m0-9v-2m0-25v-4m0-18v-2m0-19v-2m0-24v-2m0-41v-2M538 768v-4m0-40v-2m0-23v-4m0-34v-2m0-6v-1m0-53v-2m0-14v-2m0-31v-2m0-16v-2m0-12v-2m0-6v-1m0-9v-2m0-6v-2m0-43v-4m0-10v-2m0-2v-2m0-13v-1m0-15v-2m0-12v-2m0-26v-1m0-4v-2m0-29v-2m0-29v-1m0-33v-4m0-58v-1m0-35v-2m0-19v-2m0-13v-2m0-18v-2M543 753v-2m0-18v-3m0-2v-2m0-13v-2m0-7v-2m0-20v-1m0-11v-2m0-16v-2m0-9v-4m0-20v-2m0-18v-1m0-53v-2m0-2v-1m0-8v-1m0-2v-2m0-13v-2m0-3v-2m0-13v-2m0-43v-2m0-20v-2m0-50v-4m0-11v-2m0-14v-4m0-45v-4m0-67v-1m0-8v-1m0-13v-2m0-5v-2m0-6v-1m0-20v-2m0-4v-2m0-16v-2m0-5v-2m0-2v-2m0-18v-1M554 744v-2m0-74v-2m0-3v-2m0-2v-2m0-5v-2m0-13v-2m0-21v-2m0-62v-2m0-3v-2m0-80v-1m0-28v-1m0-10v-1m0-27v-2m0-9v-2m0-6v-1m0-8v-1m0-2v-2m0-11v-2m0-16v-2m0-3v-6m0-18v-2m0-23v-2m0-18v-2m0-4v-2m0-12v-2m0-4v-1m0-29v-2m0-13v-2m0-47v-2m0-1v-2m0-33v-2m0-3v-2M565 749v-1m0-11v-6m0-11v-1m0-11v-2m0-13v-1m0-2v-2m0-7v-2m0-2v-2m0-32v-2m0-11v-2m0-11v-2m0-16v-2m0-1v-2m0-56v-2m0-15v-2m0-1v-2m0-27v-2m0-9v-4m0-5v-2m0-4v-1m0-8v-2m0-9v-1m0-57v-1m0-17v-3m0-17v-1m0-49v-2m0-4v-3m0-4v-4m0-7v-2m0-5v-2m0-4v-1m0-4v-2m0-31v-1m0-58v-4m0-23v-2m0-33v-3M570 749v-3m0-2v-4m0-7v-2m0-14v-2m0-7v-2m0-38v-2m0-31v-1m0-20v-2m0-2v-2m0-43v-2m0-89v-2m0-3v-2m0-22v-3m0-20v-2m0-4v-2m0-3v-2m0-9v-2m0-22v-1m0-24v-2m0-2v-1m0-31v-2m0-13v-3m0-6v-2m0-7v-2m0-29v-1m0-2v-2m0-51v-2m0-28v-2m0-13v-2m0-14v-2m0-11v-4m0-27v-2m0-1v-2M581 769v-1m0-55v-2m0-30v-2m0-7v-2m0-26v-1m0-38v-2m0-27v-2m0-53v-5m0-15v-1m0-10v-3m0-11v-2m0-7v-2m0-5v-2m0-31v-2m0-16v-2m0-14v-2m0-25v-2m0-35v-1m0-44v-2m0-16v-2m0-43v-2m0-9v-4m0-76v-2M592 762v-2m0-27v-2m0-21v-2m0-7v-2m0-7v-2m0-2v-2m0-14v-4m0-31v-3m0-86v-3m0-76v-2m0-54v-2m0-31v-2m0-9v-2m0-12v-2m0-6v-1m0-24v-2m0-2v-1m0-2v-2m0-49v-2m0-2v-1m0-4v-2m0-5v-2m0-31v-2m0-9v-1m0-11v-2m0-22v-2m0-7v-4m0-9v-1m0-8v-1m0-4v-2m0-5v-2m0-15v-1m0-8v-1M597 755v-2m0-31v-2m0-7v-2m0-32v-4m0-3v-2m0-13v-2m0-7v-2m0-7v-4m0-10v-2m0-15v-2m0-16v-2m0-3v-2m0-20v-2m0-27v-2m0-27v-2m0-5v-4m0-25v-4m0-34v-2m0-49v-4m0-12v-2m0-9v-2m0-7v-2m0-2v-2m0-7v-3m0-4v-2m0-20v-2m0-9v-2m0-25v-2m0-5v-2m0-2v-2m0-36v-3m0-31v-2m0-45v-2m0-24v-1m0-13v-2m0-2v-2M608 759v-4m0-4v-2m0-3v-2m0-5v-2m0-27v-2m0-13v-2m0-36v-4m0-27v-1m0-11v-2m0-29v-2m0-11v-2m0-3v-2m0-5v-2m0-6v-3m0-58v-2m0-13v-2m0-3v-2m0-2v-2m0-12v-2m0-6v-1m0-11v-2m0-13v-2m0-12v-2m0-18v-2m0-4v-1m0-24v-2m0-58v-2m0-9v-1m0-8v-1m0-11v-2m0-4v-2m0-38v-3m0-47v-2m0-20v-2m0-2v-1m0-11v-6m0-12v-2m0-6v-1m0-2v-2M619 751v-2m0-3v-2m0-7v-2m0-5v-4m0-22v-2m0-21v-2m0-22v-2m0-25v-2m0-31v-1m0-17v-2m0-14v-2m0-13v-1m0-28v-1m0-40v-2m0-27v-2m0-5v-2m0-4v-2m0-58v-1m0-89v-2m0-25v-2m0-35v-1m0-47v-2m0-9v-2m0-15v-1m0-58v-2M624 760v-1m0-15v-2m0-56v-2m0-11v-1m0-55v-2m0-1v-2m0-7v-2m0-9v-2m0-24v-1m0-4v-2m0-2v-3m0-9v-2m0-29v-2m0-2v-2m0-12v-2m0-13v-3m0-4v-2m0-11v-1m0-10v-3m0-22v-2m0-3v-2m0-6v-3m0-13v-2m0-5v-2m0-4v-1m0-33v-2m0-23v-6m0-41v-2m0-7v-2m0-11v-2m0-23v-2m0-6v-2m0-9v-1m0-6v-2m0-16v-2m0-2v-1m0-15v-2m0-21v-2m0-26v-1m0-8v-1m0-8v-1m0-2v-2m0-4v-2M635 760v-1m0-26v-2m0-7v-2m0-2v-1m0-9v-2m0-11v-2m0-3v-2m0-24v-3m0-8v-2m0-43v-2m0-29v-2m0-7v-2m0-7v-3m0-4v-4m0-18v-2m0-12v-2m0-9v-2m0-18v-2m0-4v-1m0-2v-2m0-9v-2m0-3v-2m0-18v-2m0-6v-1m0-40v-2m0-7v-4m0-22v-2m0-1v-2m0-31v-2m0-7v-2m0-31v-1m0-9v-2m0-13v-2m0-5v-2m0-9v-2m0-3v-2m0-4v-2m0-5v-2m0-9v-2m0-23v-2m0-16v-2m0-4v-2m0-12v-2m0-2v-2m0-9v-2m0-3v-2m0-31v-2M646 760v-1m0-8v-2m0-9v-1m0-17v-2m0-1v-2m0-4v-2m0-1v-4m0-60v-2m0-10v-2m0-35v-1m0-26v-2m0-18v-2m0-12v-2m0-2v-2m0-36v-2m0-18v-2m0-23v-4m0-14v-2m0-2v-2m0-32v-2m0-4v-2m0-1v-4m0-40v-5m0-49v-2m0-51v-1m0-6v-4m0-10v-2m0-9v-2m0-4v-2m0-7v-2m0-5v-2m0-32v-2m0-7v-2m0-15v-2m0-16v-2m0-7v-2M651 760v-1m0-2v-2m0-2v-2m0-9v-2m0-16v-2m0-5v-2m0-80v-3m0-2v-2m0-42v-1m0-6v-2m0-36v-2m0-18v-2m0-59v-2m0-16v-2m0-58v-2m0-5v-2m0-2v-2m0-18v-2m0-23v-2m0-98v-2m0-11v-1m0-2v-2m0-2v-2m0-29v-1m0-2v-2m0-38v-2m0-14v-2M662 744v-2m0-7v-2m0-7v-2m0-7v-2m0-4v-1m0-4v-2m0-18v-2m0-34v-2m0-62v-1m0-55v-1m0-29v-2m0-78v-2m0-4v-1m0-2v-2m0-18v-4m0-12v-2m0-4v-2m0-39v-2m0-13v-2m0-32v-2m0-7v-2m0-9v-2m0-9v-4m0-72v-2m0-9v-2m0-16v-2m0-22v-2M673 715v-2m0-107v-1m0-4v-4m0-11v-1m0-24v-2m0-3v-2m0-6v-1m0-18v-6m0-11v-2m0-20v-3m0-18v-2m0-27v-2m0-22v-2m0-10v-2m0-9v-4m0-18v-2m0-32v-2m0-2v-2m0-7v-2m0-9v-4m0-49v-1m0-11v-2m0-2v-2m0-3v-2m0-2v-2m0-9v-2m0-1v-2m0-31v-2m0-12v-2m0-17v-1m0-9v-2m0-9v-4m0-16v-2m0-7v-2m0-13v-2M678 768v-2m0-11v-2m0-45v-2m0-22v-2m0-5v-2m0-38v-2m0-3v-2m0-5v-2m0-20v-2m0-13v-2m0-14v-2m0-12v-2m0-8v-1m0-4v-2m0-7v-2m0-42v-1m0-18v-2m0-2v-2m0-3v-2m0-6v-3m0-9v-2m0-4v-3m0-6v-2m0-25v-4m0-1v-2m0-24v-2m0-14v-4m0-29v-2m0-1v-2m0-62v-2m0-5v-2m0-5v-2m0-15v-1m0-26v-2m0-3v-2m0-40v-2m0-7v-2m0-14v-2m0-4v-1m0-6v-2m0-10v-2M689 768v-4m0-42v-3m0-53v-3m0-22v-2m0-45v-2m0-9v-2m0-16v-2m0-27v-2m0-42v-2m0-45v-2m0-10v-4m0-38v-4m0-5v-2m0-54v-2m0-27v-2m0-7v-2m0-22v-2m0-76v-3m0-22v-2m0-18v-2m0-32v-4m0-16v-2M705 740v-1m0-22v-2m0-7v-2m0-2v-2m0-7v-2m0-21v-2m0-29v-2m0-16v-2m0-4v-2m0-7v-2m0-12v-2m0-15v-1m0-33v-2m0-27v-2m0-16v-2m0-2v-2m0-36v-2m0-50v-2m0-5v-2m0-31v-2m0-11v-2m0-29v-1m0-33v-2m0-3v-2m0-33v-2m0-29v-1m0-37v-3m0-62v-2m0-20v-1M716 777v-2m0-64v-1m0-2v-2m0-2v-2m0-5v-2m0-20v-2m0-16v-2m0-50v-2m0-20v-2m0-7v-2m0-18v-2m0-20v-2m0-34v-2m0-7v-2m0-13v-1m0-35v-2m0-21v-2m0-7v-2m0-20v-2m0-16v-2m0-27v-2m0-2v-2m0-32v-2m0-18v-2m0-4v-1m0-10v-1m0-13v-2m0-3v-2m0-18v-2m0-7v-2m0-4v-2m0-1v-2m0-33v-2m0-11v-1m0-24v-2m0-18v-2M727 742v-2m0-12v-2m0-6v-3m0-15v-1m0-78v-2m0-60v-2m0-12v-2m0-13v-3m0-10v-1m0-22v-2m0-2v-2m0-56v-1m0-35v-2m0-23v-4m0-2v-1m0-38v-2m0-8v-1m0-6v-2m0-7v-2m0-20v-1m0-11v-2m0-6v-1m0-4v-2m0-27v-2m0-3v-2m0-9v-2m0-7v-4m0-23v-2m0-26v-1m0-19v-1m0-17v-1M759 777v-4m0-27v-4m0-2v-3m0-29v-2m0-2v-2m0-54v-2m0-18v-3m0-75v-2m0-45v-2m0-5v-2m0-11v-2m0-1v-2m0-60v-2m0-3v-2m0-44v-1m0-44v-2m0-2v-1m0-9v-2m0-4v-2m0-3v-2m0-20v-2m0-32v-2m0-22v-2m0-12v-6m0-18v-2m0-9v-2m0-23v-2m0-16v-4m0-4v-1m0-6v-2m0-12v-2M770 764v-2m0-2v-1m0-19v-1m0-47v-2m0-67v-2m0-4v-2m0-16v-2m0-20v-1m0-17v-7m0-4v-1m0-4v-2m0-2v-1m0-15v-4m0-30v-2m0-125v-2m0-4v-1m0-26v-1m0-98v-2m0-20v-4m0-1v-4m0-16v-2m0-20v-2m0-4v-1m0-49v-2M797 697v-2m0-16v-2m0-2v-2m0-7v-2m0-47v-2m0-5v-2m0-16v-4m0-81v-2m0-13v-2m0-1v-4m0-38v-2m0-9v-2m0-50v-2m0-6v-1m0-8v-1m0-37v-1m0-4v-2m0-5v-2m0-27v-2m0-2v-2m0-63v-2m0-14v-2m0-17v-1m0-28v-1m0-20v-4m0-5v-2m0-9v-4M824 786v-2m0-6v-1m0-4v-2m0-25v-2m0-42v-3m0-18v-2m0-9v-2m0-5v-2m0-49v-2m0-16v-2m0-31v-2m0-12v-2m0-40v-2m0-2v-1m0-20v-2m0-22v-4m0-5v-4m0-23v-2m0-18v-2m0-14v-2m0-58v-2m0-20v-2m0-40v-1m0-58v-4m0-23v-2m0-9v-2m0-6v-1m0-9v-2m0-4v-2m0-1v-2m0-6v-2m0-12v-2m0-5v-2m0-15v-3M851 768v-2m0-51v-2m0-16v-2m0-7v-2m0-7v-2m0-5v-2m0-6v-1m0-40v-2m0-6v-1m0-62v-2m0-45v-2m0-83v-2m0-20v-3m0-48v-1m0-37v-1m0-75v-1m0-6v-2m0-9v-2m0-36v-2m0-25v-2m0-18v-2m0-3v-2m0-2v-2m0-11v-1M878 788v-4m0-9v-6m0-5v-4m0-45v-2m0-27v-2m0-5v-2m0-5v-2m0-49v-2m0-49v-2m0-18v-2m0-25v-2m0-34v-2m0-16v-4m0-14v-2m0-13v-2m0-3v-4m0-27v-2m0-52v-2m0-6v-1m0-58v-2m0-167v-2M905 757v-2m0-44v-1m0-13v-2m0-3v-2m0-18v-2m0-33v-2m0-96v-1m0-2v-2m0-31v-2m0-5v-2m0-14v-2m0-2v-2m0-5v-2m0-11v-2m0-11v-1m0-2v-2m0-5v-2m0-80v-4m0-9v-1m0-19v-1m0-51v-2m0-119v-2m0-47v-2M932 759v-2m0-20v-2m0-9v-2m0-25v-2m0-9v-6m0-16v-2m0-49v-1m0-20v-2m0-24v-1m0-8v-1m0-2v-2m0-27v-4m0-36v-2m0-5v-2m0-47v-4m0-2v-2m0-1v-2m0-13v-2m0-14v-2m0-9v-2m0-36v-2m0-51v-1m0-4v-2m0-22v-1m0-69v-2m0-4v-1m0-2v-2m0-13v-1m0-24v-2m0-7v-2m0-7v-2m0-2v-2m0-1v-2m0-11v-2m0-11v-3"/>
<path transform="translate(3)" stroke="#482475" stroke-width="6" d="M127 740v-3m0-2v-2m0-5v-2m0-7v-2m0-36v-2m0-47v-2m0-5v-2m0-6v-2m0-16v-3m0-44v-2m0-11v-1m0-22v-2m0-25v-2m0-6v-1m0-8v-1m0-9v-2m0-37v-1m0-6v-2m0-9v-1m0-134v-2m0-4v-2m0-3v-2m0-31v-2m0-2v-1m0-9v-2m0-2v-2m0-5v-4m0-22v-1m0-20v-2m0-7v-2m0-4v-2m0-39v-2m0-6v-2M143 722v-2m0-10v-2m0-9v-4m0-31v-1m0-24v-2m0-3v-2m0-53v-2m0-19v-6m0-34v-2m0-2v-2m0-5v-2m0-114v-2m0-14v-2m0-20v-2m0-87v-2m0-12v-2m0-18v-2m0-20v-2m0-32v-2m0-2v-2m0-5v-2M154 728v-2m0-6v-1m0-9v-2m0-29v-2m0-27v-2m0-4v-1m0-37v-1m0-24v-4m0-7v-2m0-3v-2m0-56v-2m0-2v-2m0-20v-1m0-2v-2m0-49v-4m0-7v-2m0-14v-2m0-9v-2m0-25v-2m0-61v-2m0-26v-1m0-33v-2m0-51v-1m0-37v-1m0-4v-2m0-31v-1M170 764v-2m0-34v-2m0-36v-2m0-27v-2m0-22v-2m0-34v-5m0-8v-2m0-1v-2m0-38v-2m0-9v-2m0-83v-2m0-20v-2m0-105v-2m0-25v-2m0-20v-1m0-6v-2m0-2v-1m0-27v-2m0-17v-1m0-64v-2m0-38v-1m0-20v-2M181 764v-2m0-2v-3m0-20v-2m0-53v-3m0-11v-2m0-56v-2m0-81v-4m0-69v-2m0-90v-2m0-40v-2m0-19v-2m0-2v-2m0-56v-2m0-18v-2m0-5v-2m0-31v-2m0-12v-2m0-2v-4m0-34v-2m0-14v-2m0-5v-2M197 759v-2m0-4v-2m0-47v-2m0-7v-2m0-20v-1m0-13v-2m0-13v-1m0-87v-2m0-9v-2m0-42v-1m0-10v-1m0-24v-3m0-11v-2m0-6v-1m0-15v-2m0-12v-2m0-16v-2m0-11v-2m0-31v-2m0-12v-4m0-13v-3m0-20v-2m0-5v-2m0-49v-2m0-32v-2m0-33v-2m0-38v-2m0-21v-2m0-4v-1m0-10v-1M208 768v-2m0-29v-2m0-20v-2m0-74v-4m0-36v-2m0-39v-2m0-6v-2m0-12v-2m0-20v-2m0-50v-4m0-40v-2m0-12v-2m0-9v-2m0-47v-2m0-5v-2m0-109v-2m0-114v-2M224 719v-2m0-69v-2m0-25v-2m0-42v-1m0-28v-1m0-8v-1m0-66v-1m0-28v-1m0-20v-2m0-2v-2m0-29v-3m0-95v-5m0-16v-2m0-2v-2m0-92v-2m0-13v-1m0-8v-3m0-18v-2m0-25v-4m0-7v-2M235 782v-2m0-27v-2m0-3v-2m0-76v-2m0-45v-2m0-16v-2m0-17v-1m0-9v-2m0-4v-2m0-125v-1m0-8v-1m0-24v-2m0-7v-2m0-74v-2m0-2v-2m0-36v-2m0-41v-2m0-47v-4m0-5v-2m0-9v-2m0-5v-2m0-53v-1M251 762v-3m0-33v-2m0-45v-2m0-22v-2m0-41v-2m0-2v-2m0-12v-2m0-20v-2m0-18v-2m0-5v-4m0-20v-3m0-38v-2m0-6v-3m0-24v-2m0-27v-2m0-5v-2m0-89v-1m0-55v-2m0-18v-1m0-2v-2m0-2v-2m0-30v-2m0-22v-2m0-16v-2m0-9v-2m0-60v-1M262 652v-2m0-35v-1m0-8v-1m0-24v-2m0-38v-2m0-59v-4m0-22v-2m0-175v-2m0-4v-1m0-118v-2m0-58v-2M278 724v-2m0-65v-2m0-18v-2m0-41v-2m0-2v-4m0-45v-2m0-20v-1m0-6v-5m0-36v-2m0-55v-1m0-17v-1m0-29v-2m0-31v-2m0-5v-2m0-7v-2m0-2v-2m0-9v-2m0-14v-2m0-4v-1m0-19v-1m0-26v-1m0-8v-3m0-66v-1m0-11v-2m0-40v-3M289 735v-4m0-1v-2m0-13v-2m0-18v-2m0-1v-2m0-27v-2m0-6v-2m0-121v-2m0-7v-2m0-5v-2m0-22v-2m0-56v-1m0-20v-2m0-31v-2m0-23v-2m0-4v-2m0-72v-2m0-11v-2m0-3v-2m0-20v-2m0-12v-6m0-49v-1M305 764v-2m0-29v-2m0-20v-1m0-28v-1m0-8v-3m0-51v-2m0-5v-2m0-4v-1m0-13v-4m0-5v-2m0-9v-2m0-12v-2m0-18v-2m0-24v-2m0-23v-4m0-12v-2m0-7v-2m0-31v-2m0-20v-2m0-3v-2m0-15v-1m0-15v-2m0-3v-2m0-38v-2m0-40v-3m0-9v-2m0-11v-2m0-11v-5m0-22v-2m0-3v-2m0-31v-2m0-12v-2m0-2v-2m0-4v-1m0-42v-2M316 768v-2m0-2v-2m0-27v-4m0-3v-2m0-9v-2m0-22v-1m0-2v-2m0-11v-2m0-23v-2m0-33v-2m0-7v-2m0-5v-2m0-14v-2m0-11v-2m0-45v-2m0-34v-2m0-31v-2m0-56v-2m0-9v-2m0-7v-2m0-5v-2m0-18v-4m0-19v-2m0-27v-2m0-35v-2m0-59v-2m0-36v-2m0-62v-1M332 749v-1m0-17v-1m0-158v-2m0-25v-2m0-89v-2m0-25v-2m0-50v-2m0-6v-1m0-2v-2m0-60v-2m0-20v-1m0-15v-2m0-23v-2m0-29v-2m0-32v-2m0-40v-4m0-23v-2m0-9v-2M343 724v-2m0-36v-4m0-38v-1m0-37v-1m0-15v-4m0-1v-2m0-4v-2m0-12v-2m0-33v-1m0-39v-1m0-6v-2m0-9v-3m0-62v-2m0-5v-2m0-69v-1m0-13v-2m0-14v-2m0-15v-3m0-24v-2m0-11v-1m0-8v-1m0-29v-2m0-76v-2m0-6v-1m0-18v-2m0-9v-2M359 760v-1m0-64v-2m0-9v-2m0-1v-2m0-47v-2m0-24v-1m0-6v-2m0-7v-2m0-16v-2m0-43v-2m0-25v-2m0-33v-2m0-32v-2m0-7v-2m0-2v-2m0-7v-2m0-14v-2m0-45v-2m0-9v-2m0-13v-2m0-1v-2m0-4v-2m0-38v-1m0-6v-2m0-16v-2m0-31v-1m0-4v-2m0-40v-1m0-28v-1m0-33v-2m0-14v-2M370 764v-2m0-22v-1m0-11v-2m0-7v-2m0-20v-2m0-101v-2m0-38v-2m0-18v-2m0-5v-2m0-15v-1m0-35v-2m0-5v-2m0-92v-2m0-9v-2m0-49v-2m0-9v-1m0-15v-2m0-16v-2m0-13v-1m0-53v-2m0-20v-1m0-35v-2m0-9v-2m0-5v-2m0-29v-2M386 771v-2m0-9v-3m0-8v-1m0-22v-2m0-7v-2m0-4v-5m0-27v-2m0-27v-2m0-13v-1m0-33v-2m0-23v-2m0-26v-1m0-28v-1m0-4v-2m0-3v-4m0-2v-2m0-9v-3m0-29v-2m0-42v-3m0-22v-2m0-25v-4m0-23v-6m0-29v-2m0-107v-1m0-2v-2m0-40v-2m0-9v-1m0-4v-2m0-4v-1m0-9v-2m0-4v-2m0-1v-2m0-17v-1M397 771v-2m0-12v-2m0-89v-2m0-11v-1m0-18v-2m0-67v-2m0-74v-2m0-60v-2m0-29v-1m0-104v-2m0-38v-1m0-9v-2m0-26v-1m0-22v-2m0-38v-2m0-2v-1m0-26v-2M413 764v-2m0-63v-2m0-11v-2m0-45v-2m0-11v-1m0-4v-2m0-25v-2m0-9v-2m0-13v-1m0-28v-1m0-24v-2m0-12v-2m0-4v-2m0-11v-1m0-13v-2m0-14v-2m0-33v-2m0-29v-1m0-38v-2m0-42v-2m0-1v-2m0-8v-1m0-38v-2m0-40v-2m0-7v-2m0-22v-1m0-9v-2m0-11v-2m0-13v-1m0-11v-2m0-24v-1M424 706v-2m0-83v-2m0-5v-2m0-49v-2m0-45v-2m0-5v-2m0-7v-4m0-27v-2m0-27v-2m0-33v-1m0-4v-2m0-7v-2m0-54v-2m0-78v-2m0-29v-2m0-59v-2m0-7v-2m0-15v-1m0-26v-2m0-1v-2m0-13v-2M440 755v-4m0-12v-2m0-33v-2m0-117v-2m0-54v-2m0-9v-2m0-103v-2m0-7v-2m0-71v-2m0-23v-2m0-4v-1m0-22v-2m0-2v-2m0-52v-2m0-83v-2m0-18v-2m0-18v-2M451 757v-2m0-18v-2m0-20v-2m0-3v-2m0-6v-1m0-4v-2m0-18v-2m0-5v-2m0-7v-4m0-5v-2m0-4v-2m0-27v-2m0-7v-2m0-25v-2m0-12v-2m0-7v-2m0-18v-2m0-22v-2m0-2v-1m0-11v-2m0-2v-2m0-25v-2m0-3v-2m0-38v-2m0-7v-2m0-2v-2M467 724v-2m0-23v-2m0-24v-1m0-29v-2m0-20v-2m0-42v-1m0-67v-2m0-29v-2m0-33v-3m0-7v-6m0-52v-2m0-20v-2m0-2v-3m0-44v-3m0-11v-2m0-9v-2m0-18v-2m0-40v-2m0-74v-2m0-18v-2m0-10v-2M478 724v-2m0-23v-2m0-7v-2m0-2v-2m0-49v-1m0-8v-1m0-2v-2m0-53v-1m0-8v-1m0-4v-2m0-58v-2m0-20v-1m0-122v-2m0-39v-2m0-6v-1m0-8v-2m0-36v-2m0-14v-2m0-31v-1m0-35v-2m0-20v-1m0-11v-2m0-11v-2m0-9v-2m0-16v-2M494 730v-2m0-26v-1m0-57v-1m0-46v-1m0-13v-2m0-31v-3m0-51v-2m0-16v-2m0-13v-1m0-2v-2m0-91v-1m0-6v-2m0-20v-1m0-6v-3m0-60v-2m0-25v-2m0-18v-2m0-36v-2m0-18v-2m0-25v-2m0-6v-2m0-23v-2m0-3v-2M505 708v-2m0-96v-2m0-76v-2m0-61v-2m0-11v-2m0-59v-2m0-8v-1m0-8v-1m0-35v-2m0-23v-2m0-11v-2m0-5v-2m0-2v-2m0-96v-1m0-66v-1m0-27v-2m0-2v-2M521 768v-2m0-7v-2m0-6v-2m0-39v-2m0-11v-2m0-13v-1m0-6v-2m0-21v-2m0-22v-3m0-15v-2m0-2v-1m0-49v-2m0-7v-2m0-22v-2m0-5v-2m0-27v-2m0-14v-2m0-11v-2m0-9v-4m0-10v-2m0-38v-2m0-13v-3m0-20v-2m0-2v-2m0-27v-2m0-11v-1m0-2v-2m0-49v-2m0-29v-2m0-1v-2m0-11v-2m0-3v-2m0-58v-2M532 771v-2m0-1v-2m0-2v-2m0-29v-2m0-14v-2m0-105v-2m0-41v-2m0-20v-2m0-83v-2m0-13v-2m0-70v-4m0-5v-2m0-74v-2m0-93v-1m0-24v-2m0-7v-2m0-9v-2m0-3v-2M548 663v-2m0-6v-2m0-19v-2m0-4v-2m0-1v-4m0-25v-2m0-27v-2m0-15v-3m0-2v-2m0-9v-2m0-2v-1m0-49v-2m0-31v-2m0-20v-2m0-39v-2m0-2v-2m0-5v-2m0-4v-1m0-6v-4m0-38v-1m0-24v-2m0-16v-2m0-3v-2m0-38v-2m0-9v-2m0-9v-2m0-49v-7m0-5v-2m0-11v-2m0-7v-2m0-5v-2m0-6v-1M559 764v-2m0-49v-2m0-27v-3m0-24v-2m0-63v-2m0-22v-1m0-19v-1m0-111v-2m0-3v-2m0-4v-2m0-68v-2m0-2v-2m0-16v-4m0-16v-2m0-9v-2m0-29v-1m0-6v-2m0-18v-2m0-7v-2m0-21v-2m0-64v-1m0-6v-2m0-14v-2m0-7v-2m0-24v-1M575 768v-2m0-46v-3m0-9v-2m0-20v-4m0-25v-5m0-44v-2m0-12v-2m0-29v-2m0-13v-1m0-31v-2m0-9v-2m0-94v-2m0-2v-1m0-120v-2m0-14v-2m0-34v-2m0-17v-1m0-62v-2m0-5v-2m0-11v-2m0-23v-2M586 760v-1m0-33v-2m0-4v-1m0-2v-2m0-87v-3m0-42v-2m0-7v-2m0-45v-4m0-43v-4m0-11v-2m0-11v-1m0-9v-2m0-15v-2m0-19v-2m0-33v-2m0-3v-2m0-2v-2m0-47v-2m0-12v-2m0-6v-1m0-4v-2m0-5v-2m0-4v-1m0-38v-2m0-13v-2m0-12v-2m0-24v-2m0-16v-2m0-20v-3m0-17v-3m0-6v-1M602 777v-2m0-13v-2m0-16v-2m0-12v-2m0-36v-2m0-4v-2m0-21v-2m0-8v-1m0-13v-2m0-60v-1m0-89v-2m0-29v-2m0-3v-2m0-2v-2m0-2v-1m0-9v-2m0-49v-2m0-24v-1m0-2v-2m0-16v-2m0-4v-1m0-20v-2m0-2v-2m0-43v-2m0-6v-1m0-33v-2m0-2v-1m0-4v-2m0-31v-1m0-2v-4m0-49v-3m0-11v-2m0-13v-2m0-1v-2M613 768v-2m0-15v-2m0-5v-2m0-22v-1m0-18v-2m0-11v-2m0-4v-1m0-22v-2m0-4v-1m0-27v-2m0-37v-1m0-26v-1m0-28v-1m0-13v-2m0-16v-2m0-7v-2m0-13v-2m0-10v-2m0-26v-1m0-8v-2m0-43v-2m0-7v-2m0-20v-2m0-18v-1m0-33v-2m0-38v-2m0-11v-1m0-26v-2m0-3v-2m0-51v-2m0-3v-2m0-2v-2m0-27v-2m0-9v-1m0-6v-2M629 759v-2m0-9v-2m0-4v-2m0-1v-2m0-27v-2m0-45v-2m0-8v-1m0-8v-1m0-15v-2m0-14v-2m0-45v-6m0-3v-2m0-16v-2m0-35v-1m0-66v-1m0-58v-2m0-2v-2m0-70v-2m0-31v-2m0-61v-2m0-46v-1m0-13v-2m0-29v-2m0-10v-4M640 760v-1m0-11v-2m0-53v-1m0-42v-2m0-94v-2m0-25v-2m0-7v-2m0-27v-2m0-22v-2m0-7v-2m0-58v-1m0-22v-2m0-62v-1m0-24v-2m0-65v-2m0-27v-2m0-63v-4m0-21v-2m0-8v-1M656 730v-2m0-2v-2m0-99v-2m0-94v-4m0-73v-1m0-13v-2m0-34v-2m0-25v-2m0-6v-1m0-111v-2m0-16v-2M667 720v-1m0-11v-2m0-14v-4m0-13v-2m0-18v-2m0-18v-1m0-55v-3m0-15v-2m0-34v-2m0-31v-2m0-106v-2m0-201v-2m0-22v-2m0-23v-2M683 768v-2m0-113v-1m0-27v-4m0-27v-2m0-7v-2m0-6v-1m0-35v-2m0-38v-1m0-71v-2m0-43v-2m0-6v-1m0-49v-2m0-58v-2m0-47v-2m0-31v-1m0-75v-1m0-9v-2m0-2v-2M694 744v-2m0-5v-2m0-15v-1m0-93v-1m0-42v-2m0-11v-2m0-5v-2m0-54v-2m0-82v-1m0-9v-2m0-64v-1m0-40v-2m0-13v-2m0-74v-2m0-43v-2m0-42v-1m0-24v-2M737 766v-4m0-2v-3m0-2v-2m0-4v-1m0-56v-4m0-73v-1m0-67v-2m0-7v-2m0-2v-2m0-72v-2m0-9v-2m0-7v-2m0-60v-2m0-5v-2m0-2v-1m0-28v-1m0-4v-4m0-11v-1m0-9v-2m0-38v-2m0-34v-2m0-44v-3m0-26v-2M748 773v-2m0-2v-5m0-25v-4m0-47v-2m0-20v-2m0-11v-1m0-33v-2m0-12v-2m0-102v-1m0-8v-2m0-30v-2m0-2v-2m0-45v-2m0-31v-1m0-4v-2m0-105v-2m0-11v-1m0-29v-2m0-7v-2m0-17v-1m0-35v-2m0-3v-2m0-52v-2"/>
<path transform="translate(2.5)" stroke="#482475" stroke-width="5" d="M122 740v-3m0-31v-4m0-18v-2m0-12v-2m0-16v-2m0-11v-2m0-9v-2m0-11v-1m0-58v-2m0-18v-2m0-65v-2m0-5v-2m0-151v-1m0-38v-2m0-11v-4m0-5v-2m0-14v-4m0-6v-1m0-4v-2m0-36v-2m0-22v-1m0-6v-2m0-45v-3M133 755v-2m0-58v-3m0-69v-2m0-54v-2m0-82v-2m0-29v-1m0-6v-3m0-19v-1m0-15v-2m0-21v-2m0-7v-2m0-24v-2m0-27v-2m0-34v-2m0-9v-2m0-23v-2m0-38v-4m0-94v-2m0-21v-2M138 755v-2m0-33v-1m0-58v-2m0-20v-2m0-70v-2m0-6v-1m0-2v-2m0-49v-2m0-14v-2m0-56v-2m0-34v-2m0-26v-1m0-19v-1m0-6v-2m0-3v-2m0-33v-1m0-133v-1m0-33v-2m0-13v-1m0-22v-2M149 757v-2m0-13v-2m0-5v-2m0-2v-1m0-2v-2m0-74v-2m0-2v-2m0-60v-1m0-40v-4m0-27v-2m0-89v-1m0-13v-2m0-130v-2m0-15v-1m0-29v-2m0-27v-2m0-22v-2m0-67v-1m0-9v-2m0-2v-2M160 737v-2m0-13v-2m0-12v-2m0-5v-2m0-29v-4m0-18v-2m0-9v-2m0-18v-2m0-21v-2m0-13v-3m0-8v-3m0-4v-2m0-14v-2m0-25v-4m0-85v-2m0-14v-2m0-73v-1m0-24v-2m0-5v-2m0-87v-4m0-25v-2m0-18v-2m0-38v-2m0-10v-2m0-22v-2M165 766v-2m0-29v-2m0-60v-1m0-42v-2m0-18v-2m0-22v-1m0-26v-1m0-24v-2m0-36v-2m0-42v-1m0-15v-5m0-4v-2m0-38v-2m0-16v-3m0-35v-2m0-23v-2m0-9v-2m0-25v-2m0-13v-2m0-14v-2m0-14v-2m0-35v-1m0-51v-2M176 760v-1m0-26v-2m0-38v-1m0-11v-2m0-2v-2m0-27v-2m0-23v-2m0-51v-2m0-20v-1m0-15v-2m0-30v-2m0-2v-2m0-11v-2m0-7v-3m0-35v-3m0-2v-2m0-45v-2m0-4v-2m0-10v-2m0-24v-2m0-1v-4m0-38v-2m0-11v-2m0-9v-1m0-8v-2m0-34v-2m0-27v-2m0-11v-1m0-2v-2m0-4v-1m0-4v-4m0-1v-4m0-13v-3m0-8v-1m0-15v-2m0-23v-2M187 764v-4m0-3v-2m0-13v-2m0-3v-2m0-38v-2m0-11v-2m0-63v-4m0-59v-2m0-11v-2m0-23v-2m0-2v-2m0-14v-2m0-6v-1m0-37v-1m0-53v-2m0-34v-2m0-23v-2m0-40v-2m0-40v-2m0-67v-1m0-15v-2m0-7v-2m0-25v-2m0-2v-2M192 768v-2m0-11v-2m0-45v-2m0-9v-2m0-92v-4m0-5v-2m0-51v-2m0-41v-2m0-33v-1m0-44v-2m0-43v-2m0-22v-2m0-23v-2m0-16v-2m0-31v-2m0-27v-2m0-3v-2m0-15v-1m0-20v-2m0-16v-2m0-33v-2m0-23v-4m0-3v-2M203 771v-2m0-3v-4m0-25v-2m0-7v-2m0-20v-2m0-34v-2m0-4v-1m0-89v-2m0-18v-4m0-49v-1m0-6v-2m0-12v-2m0-7v-2m0-27v-2m0-47v-2m0-22v-3m0-11v-2m0-13v-2m0-3v-2m0-4v-1m0-51v-4m0-41v-2m0-2v-2m0-9v-4m0-20v-1m0-53v-2m0-9v-3m0-26v-1M214 759v-4m0-16v-2m0-33v-2m0-5v-2m0-69v-1m0-20v-2m0-71v-2m0-40v-1m0-17v-1m0-17v-2m0-29v-1m0-4v-2m0-23v-2m0-47v-2m0-16v-2m0-2v-2m0-18v-2m0-23v-2m0-4v-1m0-10v-1m0-9v-2m0-4v-2m0-14v-2m0-20v-2m0-16v-2m0-16v-2m0-9v-2m0-69v-1M219 708v-2m0-5v-2m0-20v-2m0-38v-2m0-36v-2m0-25v-2m0-5v-2m0-82v-2m0-19v-2m0-37v-1m0-24v-2m0-20v-1m0-62v-2m0-23v-2m0-160v-1m0-17v-1M230 759v-2m0-47v-2m0-58v-2m0-29v-2m0-186v-2m0-18v-2m0-5v-2m0-2v-2m0-13v-1m0-6v-2m0-12v-2m0-69v-2M241 766v-2m0-44v-1m0-29v-2m0-7v-2m0-33v-2m0-1v-2m0-49v-2m0-52v-2m0-24v-2m0-30v-2m0-102v-3m0-29v-2m0-25v-2m0-11v-2m0-43v-4m0-5v-2m0-2v-2m0-63v-2m0-11v-2M246 748v-2m0-18v-2m0-92v-2m0-2v-2m0-65v-2m0-13v-1m0-2v-2m0-7v-4m0-5v-2m0-7v-2m0-4v-2m0-7v-2m0-5v-2m0-71v-1m0-33v-4m0-41v-2m0-36v-2m0-4v-1m0-53v-2m0-3v-2m0-7v-2m0-2v-2m0-11v-2m0-20v-1m0-24v-2m0-7v-2M257 777v-2m0-4v-2m0-10v-2m0-18v-2m0-9v-2m0-15v-1m0-4v-4m0-59v-2m0-9v-2m0-33v-1m0-2v-2m0-49v-2m0-9v-3m0-48v-1m0-2v-2m0-2v-2m0-41v-2m0-6v-1m0-27v-2m0-71v-2m0-110v-2m0-65v-2m0-2v-2m0-25v-2m0-14v-2M268 789v-1m0-49v-2m0-58v-2m0-20v-2m0-2v-1m0-11v-2m0-18v-2m0-45v-2m0-18v-2m0-65v-2m0-4v-1m0-29v-2m0-4v-2m0-41v-2m0-22v-2m0-12v-2m0-15v-1m0-60v-2m0-87v-2m0-14v-2m0-31v-2m0-30v-2m0-4v-2m0-21v-2M273 768v-2m0-2v-4m0-30v-2m0-189v-1m0-131v-2m0-85v-2m0-65v-3m0-13v-2m0-7v-2m0-9v-2m0-11v-1m0-6v-2m0-12v-4m0-40v-2m0-32v-2m0-2v-2m0-1v-2M284 764v-2m0-45v-4m0-5v-2m0-85v-4m0-12v-2m0-6v-1m0-55v-2m0-56v-2m0-12v-2m0-51v-2m0-50v-2m0-69v-2m0-43v-2m0-45v-2m0-49v-2m0-7v-2m0-31v-3m0-18v-2M295 702v-1m0-28v-3m0-60v-2m0-36v-2m0-58v-2m0-112v-2m0-108v-2m0-11v-2m0-70v-2m0-49v-2M300 771v-3m0-2v-2m0-4v-1m0-33v-2m0-34v-2m0-51v-2m0-12v-2m0-6v-1m0-20v-2m0-6v-1m0-15v-2m0-32v-2m0-11v-2m0-76v-2m0-48v-4m0-40v-2m0-21v-2m0-9v-2m0-51v-2m0-32v-2m0-16v-2m0-69v-2m0-7v-2M311 746v-4m0-45v-2m0-14v-2m0-13v-3m0-2v-4m0-14v-2m0-4v-2m0-27v-2m0-5v-2m0-2v-1m0-15v-2m0-18v-2m0-61v-2m0-33v-1m0-4v-2m0-31v-2m0-9v-1m0-11v-2m0-15v-3m0-15v-3m0-42v-2m0-21v-2m0-100v-2m0-56v-2m0-3v-2M322 762v-2m0-18v-2m0-14v-2m0-51v-1m0-9v-2m0-15v-2m0-10v-2m0-22v-2m0-61v-2m0-16v-2m0-20v-2m0-4v-1m0-19v-1m0-4v-2m0-110v-2m0-20v-2m0-5v-2m0-7v-2m0-24v-1m0-20v-2m0-136v-2m0-5v-4m0-11v-2m0-19v-2m0-8v-1M327 702v-1m0-48v-1m0-11v-2m0-4v-1m0-62v-2m0-2v-1m0-28v-1m0-13v-2m0-9v-2m0-43v-4m0-99v-4m0-107v-2m0-12v-2m0-49v-2m0-22v-1m0-4v-2m0-16v-2M338 766v-2m0-27v-2m0-4v-1m0-38v-2m0-89v-2m0-145v-3m0-33v-2m0-9v-2m0-7v-2m0-79v-2m0-13v-2m0-50v-2m0-33v-2m0-14v-4m0-9v-2m0-3v-2m0-13v-1m0-10v-1M349 768v-2m0-64v-1m0-57v-1m0-9v-2m0-11v-2m0-20v-2m0-1v-2m0-6v-3m0-17v-1m0-4v-2m0-60v-1m0-4v-2m0-7v-2m0-5v-4m0-2v-2m0-16v-2m0-61v-4m0-65v-2m0-51v-1m0-37v-1m0-15v-2m0-27v-2m0-32v-2m0-31v-2m0-7v-2M354 701v-2m0-24v-2m0-18v-2m0-10v-2m0-20v-2m0-16v-2m0-67v-2m0-5v-2m0-54v-4m0-25v-2m0-4v-2m0-18v-2m0-5v-4m0-16v-2m0-3v-2m0-15v-1m0-2v-2m0-69v-2m0-38v-2m0-1v-2m0-31v-2m0-3v-2m0-4v-2m0-16v-2m0-27v-2m0-3v-2m0-18v-2m0-11v-2m0-5v-2M365 710v-2m0-107v-4m0-63v-2m0-7v-2m0-7v-2m0-11v-2m0-1v-2m0-8v-1m0-8v-1m0-11v-2m0-4v-3m0-44v-2m0-10v-2m0-4v-2m0-23v-2m0-22v-2m0-9v-1m0-26v-2m0-41v-4m0-63v-2m0-13v-2m0-27v-2M376 760v-1m0-26v-2m0-12v-2m0-2v-2m0-7v-2m0-18v-2m0-2v-1m0-13v-2m0-18v-2m0-11v-1m0-22v-2m0-16v-2m0-11v-2m0-18v-2m0-43v-2m0-14v-2m0-6v-2m0-9v-1m0-89v-2m0-65v-2m0-14v-2m0-47v-4m0-43v-2m0-20v-2M381 706v-2m0-3v-2m0-58v-2m0-42v-1m0-28v-1m0-11v-2m0-18v-2m0-38v-2m0-7v-2m0-27v-2m0-90v-2m0-2v-2m0-112v-4m0-23v-2m0-16v-2m0-82v-3m0-6v-2M392 768v-2m0-22v-2m0-31v-1m0-28v-1m0-33v-2m0-23v-2m0-16v-2m0-15v-2m0-14v-2m0-29v-2m0-18v-3m0-13v-2m0-9v-2m0-7v-2m0-31v-1m0-53v-2m0-3v-2m0-15v-3m0-27v-2m0-24v-2m0-7v-2m0-25v-2m0-7v-2m0-16v-2m0-27v-2m0-7v-2m0-4v-1m0-31v-2m0-25v-2m0-24v-2m0-9v-1m0-17v-1M403 708v-2m0-13v-1m0-4v-2m0-23v-2m0-36v-2m0-9v-2m0-13v-2m0-3v-2m0-31v-2m0-29v-1m0-4v-2m0-20v-3m0-2v-2m0-9v-2m0-20v-2m0-12v-2m0-6v-1m0-2v-2m0-13v-2m0-10v-2m0-18v-2m0-78v-2m0-14v-2m0-13v-2m0-20v-1m0-8v-1m0-26v-2m0-10v-2m0-7v-2m0-65v-2M408 771v-2m0-38v-1m0-20v-4m0-25v-2m0-6v-1m0-20v-2m0-20v-2m0-9v-2m0-29v-2m0-3v-2m0-18v-2m0-40v-3m0-15v-2m0-12v-2m0-25v-2m0-8v-1m0-2v-2m0-43v-2m0-245v-2m0-59v-2M419 777v-2m0-40v-2m0-32v-4m0-56v-2m0-9v-4m0-47v-2m0-5v-2m0-5v-2m0-20v-2m0-7v-4m0-9v-2m0-18v-5m0-29v-2m0-3v-2m0-29v-2m0-9v-2m0-16v-2m0-29v-2m0-7v-4m0-11v-1m0-31v-2m0-22v-2m0-3v-2m0-40v-2m0-52v-2m0-34v-2m0-4v-3m0-31v-2m0-22v-2M430 753v-2m0-69v-1m0-37v-1m0-6v-2m0-9v-1m0-15v-4m0-7v-2m0-32v-2m0-13v-2m0-5v-2m0-40v-1m0-44v-2m0-12v-2m0-13v-2m0-43v-2m0-20v-2m0-99v-2m0-7v-2m0-103v-2M435 766v-4m0-34v-2m0-2v-2m0-47v-2m0-9v-1m0-4v-2m0-36v-2m0-36v-2m0-11v-2m0-43v-2m0-58v-2m0-20v-1m0-4v-2m0-22v-1m0-47v-2m0-4v-2m0-25v-2m0-38v-2m0-31v-1m0-27v-2m0-49v-2m0-14v-2M446 737v-2m0-33v-1m0-6v-2m0-1v-2m0-2v-2m0-5v-2m0-67v-2m0-22v-2m0-70v-2m0-2v-2m0-1v-2m0-15v-2m0-3v-2m0-4v-1m0-60v-2m0-16v-2m0-51v-2m0-41v-2m0-34v-2m0-36v-2m0-26v-1m0-33v-2m0-25v-2m0-7v-2m0-38v-2M457 775v-2m0-16v-2m0-4v-2m0-10v-2m0-29v-2m0-62v-1m0-46v-1m0-19v-1m0-33v-2m0-76v-3m0-4v-2m0-33v-1m0-33v-2m0-14v-2m0-4v-3m0-8v-1m0-33v-2m0-16v-2m0-43v-2m0-24v-1m0-28v-1m0-22v-2m0-5v-4m0-7v-2m0-53v-1M462 782v-2m0-2v-1m0-24v-2m0-21v-4m0-29v-2m0-18v-2m0-67v-2m0-7v-2m0-41v-2m0-102v-1m0-37v-1m0-11v-2m0-16v-2m0-6v-1m0-60v-2m0-7v-2m0-22v-2m0-5v-2m0-22v-1m0-60v-2m0-27v-2m0-47v-2M473 753v-2m0-27v-2m0-2v-3m0-13v-2m0-5v-2m0-7v-2m0-38v-2m0-14v-2m0-27v-2m0-2v-2m0-9v-3m0-8v-1m0-11v-2M484 730v-2m0-18v-2m0-33v-2m0-16v-2m0-7v-2m0-2v-1m0-35v-2m0-9v-1m0-6v-2m0-11v-1m0-18v-2m0-4v-2m0-34v-2m0-7v-2m0-7v-2m0-2v-2m0-36v-2m0-9v-2m0-1v-2m0-29v-2m0-29v-2m0-7v-2m0-13v-3m0-4v-2m0-39v-2m0-15v-2m0-65v-3m0-2v-2m0-14v-2m0-38v-2m0-20v-2m0-5v-2m0-38v-2M489 652v-2m0-40v-2m0-23v-2m0-6v-1m0-26v-2m0-39v-2m0-11v-2m0-56v-2m0-11v-2m0-1v-2m0-6v-1m0-24v-2m0-9v-2m0-34v-2m0-29v-2m0-7v-2m0-5v-2m0-27v-2m0-61v-4m0-33v-1m0-28v-3M500 764v-2m0-2v-3m0-55v-1m0-6v-3m0-2v-2m0-6v-1m0-24v-2m0-12v-2m0-58v-4m0-16v-4m0-27v-2m0-20v-1m0-2v-2m0-18v-4m0-2v-1m0-64v-2m0-54v-2m0-14v-2m0-24v-1m0-15v-2m0-29v-3m0-27v-2m0-6v-1m0-55v-2m0-39v-2m0-47v-2M511 764v-2m0-9v-4m0-39v-2m0-26v-1m0-2v-2m0-101v-2m0-111v-1m0-6v-2m0-61v-2m0-9v-2m0-2v-2m0-10v-2m0-71v-2m0-74v-2m0-3v-2m0-24v-2m0-10v-2m0-40v-4M516 768v-6m0-47v-2m0-43v-2m0-15v-1m0-9v-2m0-2v-2m0-2v-1m0-29v-2m0-11v-2m0-5v-2m0-4v-2m0-7v-2m0-34v-2m0-3v-2m0-73v-2m0-43v-2m0-32v-2m0-13v-2m0-23v-2m0-2v-2m0-40v-1m0-18v-2m0-69v-2m0-14v-2m0-15v-1m0-24v-2m0-3v-2M527 766v-4m0-22v-1m0-6v-2m0-49v-1m0-4v-2m0-89v-1m0-53v-2m0-16v-4m0-47v-1m0-57v-1m0-8v-3m0-2v-2m0-23v-2m0-17v-1m0-35v-2m0-20v-3m0-7v-2m0-2v-2m0-7v-2m0-101v-2m0-29v-2m0-23v-2m0-4v-2m0-9v-2M538 771v-2m0-39v-2m0-22v-2m0-36v-2m0-7v-2m0-9v-2m0-32v-2m0-27v-2m0-29v-2m0-81v-2m0-20v-2m0-11v-2m0-30v-2m0-20v-2m0-9v-2m0-2v-1m0-6v-2m0-23v-4m0-13v-1m0-2v-2m0-5v-2m0-31v-2m0-13v-3m0-36v-2m0-6v-1m0-9v-2m0-31v-4m0-58v-1m0-15v-2M543 768v-2m0-17v-1m0-28v-1m0-58v-2m0-49v-2m0-34v-2m0-27v-2m0-9v-2m0-11v-2m0-61v-4m0-50v-2m0-4v-2m0-12v-2m0-29v-2m0-62v-1m0-33v-2m0-23v-2m0-4v-2m0-16v-2m0-23v-4m0-2v-1M554 759v-2m0-111v-2m0-27v-2m0-94v-2m0-9v-1m0-11v-2m0-7v-2m0-22v-2m0-5v-2m0-52v-2m0-9v-2m0-22v-2m0-14v-2m0-14v-2m0-27v-4m0-24v-1m0-31v-2m0-14v-2m0-11v-2m0-5v-2m0-47v-2m0-7v-2m0-62v-2M565 755v-2m0-36v-4m0-11v-1m0-33v-4m0-36v-3m0-48v-1m0-6v-3m0-6v-3m0-15v-2m0-29v-2m0-20v-1m0-44v-2m0-10v-2m0-13v-2m0-3v-2m0-33v-2m0-12v-2m0-11v-2m0-12v-2m0-15v-2m0-48v-2m0-18v-2m0-11v-2m0-18v-2m0-7v-2m0-27v-2M570 762v-2m0-63v-2m0-74v-2m0-7v-2m0-2v-3m0-2v-2m0-20v-2m0-23v-2m0-15v-1m0-24v-2m0-3v-2m0-26v-3m0-73v-1m0-31v-2m0-4v-1m0-11v-4m0-42v-1m0-24v-2m0-5v-2m0-101v-2m0-6v-1m0-10v-1M581 735v-2m0-38v-2m0-63v-2m0-11v-2m0-12v-2m0-114v-4m0-9v-2m0-14v-4m0-32v-2m0-116v-2m0-31v-1m0-6v-2m0-21v-2m0-134v-2M592 768v-2m0-2v-2m0-2v-1m0-39v-3m0-18v-2m0-38v-2m0-9v-2m0-3v-4m0-9v-2m0-11v-3m0-167v-2m0-22v-1m0-11v-4m0-51v-1m0-26v-1m0-53v-2m0-128v-2m0-26v-1m0-22v-2M597 759v-2m0-18v-2m0-7v-2m0-9v-2m0-9v-2m0-11v-2m0-41v-2m0-20v-2m0-9v-4m0-3v-2m0-49v-3m0-42v-4m0-9v-5m0-11v-2m0-4v-1m0-8v-1m0-48v-1m0-4v-2m0-7v-2m0-16v-2m0-5v-2m0-44v-1m0-11v-2m0-25v-2m0-8v-1m0-2v-2m0-34v-2m0-22v-2m0-7v-2m0-5v-2m0-15v-1m0-27v-4m0-25v-2m0-2v-2M608 789v-1m0-26v-2m0-16v-2m0-43v-2m0-36v-2m0-13v-2m0-29v-1m0-8v-1m0-24v-2m0-5v-2m0-4v-1m0-13v-4m0-34v-2m0-65v-2m0-42v-1m0-38v-2m0-26v-1m0-87v-2m0-40v-2m0-63v-2m0-31v-2m0-3v-2M619 760v-1m0-15v-4m0-14v-2m0-2v-2m0-18v-1m0-4v-2m0-23v-2m0-2v-2m0-2v-1m0-82v-2m0-49v-1m0-15v-4m0-3v-2m0-112v-2m0-27v-2m0-7v-2m0-20v-2m0-3v-2m0-15v-2m0-5v-2m0-22v-1m0-87v-2m0-7v-2m0-13v-2m0-11v-1m0-20v-2m0-31v-2M624 751v-2m0-68v-2m0-18v-4m0-13v-1m0-15v-2m0-11v-1m0-6v-2m0-16v-2m0-54v-4m0-30v-2m0-20v-2m0-107v-2m0-3v-2m0-22v-2m0-9v-1m0-26v-2m0-5v-2m0-16v-2m0-34v-4m0-82v-1m0-24v-2m0-5v-4m0-12v-4m0-9v-4M635 771v-2m0-20v-1m0-6v-2m0-29v-1m0-35v-2m0-48v-2m0-55v-1m0-2v-2m0-20v-2m0-3v-2m0-64v-1m0-15v-2m0-54v-2m0-27v-2m0-40v-1m0-13v-2m0-24v-1m0-13v-2m0-11v-2m0-85v-1m0-11v-2m0-24v-1m0-2v-2m0-18v-2m0-4v-1m0-19v-1M646 768v-2m0-33v-2m0-3v-2m0-40v-2m0-25v-6m0-9v-1m0-11v-2m0-11v-2m0-14v-2m0-62v-1m0-26v-2m0-3v-2m0-13v-2m0-3v-2m0-69v-2m0-23v-2m0-16v-2m0-20v-2m0-7v-2m0-166v-4m0-49v-2M651 759v-2m0-37v-1m0-11v-2m0-24v-1m0-76v-2m0-26v-1m0-60v-2m0-45v-2m0-18v-2m0-31v-3m0-15v-2m0-1v-2m0-20v-2m0-18v-2m0-38v-2m0-36v-2m0-22v-1m0-53v-2m0-56v-2m0-23v-2m0-4v-1m0-6v-2M662 764v-2m0-16v-2m0-4v-1m0-11v-2m0-7v-2m0-91v-1m0-48v-1m0-4v-2m0-27v-2m0-2v-5m0-2v-2m0-36v-2m0-3v-2m0-16v-2m0-113v-1m0-33v-2m0-58v-2m0-48v-2m0-29v-4m0-2v-1m0-11v-2m0-44v-3m0-26v-3M673 762v-3m0-29v-2m0-29v-2m0-13v-2m0-14v-4m0-9v-2m0-10v-2m0-29v-2m0-5v-2m0-9v-2m0-58v-2m0-38v-2m0-74v-2m0-3v-2m0-58v-2m0-5v-2m0-16v-2m0-4v-2m0-11v-1m0-4v-2m0-43v-2m0-4v-2m0-10v-2m0-2v-2m0-83v-2m0-7v-2m0-31v-2m0-20v-3M678 766v-2m0-2v-2m0-9v-2m0-9v-1m0-87v-2m0-22v-2m0-3v-2m0-13v-2m0-85v-2m0-14v-2m0-3v-4m0-24v-1m0-13v-2m0-23v-2m0-11v-2m0-9v-2m0-52v-2m0-6v-1m0-18v-2m0-26v-1m0-4v-4m0-23v-2m0-25v-2m0-6v-1m0-8v-2m0-43v-2m0-27v-2m0-2v-1m0-44v-2m0-3v-2m0-2v-2M689 704v-2m0-14v-2m0-13v-1m0-9v-2m0-93v-1m0-13v-2m0-5v-2m0-16v-2m0-60v-2m0-109v-1m0-47v-2m0-49v-2m0-7v-2m0-56v-2m0-49v-2m0-14v-2M705 753v-2m0-16v-2m0-83v-2m0-56v-2m0-7v-2m0-69v-2m0-36v-2m0-23v-2m0-67v-2m0-61v-2m0-65v-2m0-58v-2m0-40v-3M716 748v-2m0-18v-2m0-45v-4m0-34v-2m0-31v-2m0-20v-2m0-9v-1m0-4v-2m0-29v-2m0-9v-1m0-17v-3m0-102v-2m0-36v-2m0-1v-2m0-36v-2m0-15v-2m0-65v-2m0-41v-2m0-74v-2M727 760v-1m0-26v-2m0-1v-2m0-27v-2m0-15v-2m0-9v-1m0-20v-2m0-15v-1m0-4v-2m0-9v-2m0-52v-2m0-80v-3m0-8v-1m0-8v-1m0-2v-2m0-13v-2m0-5v-4m0-11v-1m0-13v-4m0-27v-2m0-10v-2m0-24v-2m0-34v-2m0-136v-1m0-77v-1M759 755v-2m0-56v-2m0-11v-2m0-32v-2m0-18v-2m0-29v-2m0-9v-2m0-16v-2m0-14v-2m0-58v-2m0-23v-2m0-4v-1m0-80v-2m0-9v-2m0-32v-2m0-9v-2m0-29v-4m0-14v-2m0-11v-2m0-14v-2m0-80v-1m0-17v-2m0-18v-3M770 739v-2m0-6v-1m0-11v-2m0-31v-2m0-14v-2m0-13v-2m0-7v-2m0-9v-1m0-9v-2m0-109v-2m0-40v-1m0-69v-2m0-2v-2m0-83v-2m0-41v-2m0-105v-2m0-13v-2m0-52v-2M797 724v-2m0-9v-2m0-19v-2m0-13v-2m0-261v-1m0-31v-2m0-5v-2m0-18v-2m0-49v-2m0-176v-1m0-26v-1M824 771v-2m0-16v-2m0-3v-2m0-4v-3m0-4v-2m0-16v-2m0-9v-4m0-34v-2m0-5v-2m0-45v-2m0-42v-2m0-29v-1m0-44v-2m0-7v-2m0-5v-2m0-58v-2m0-31v-1m0-13v-2m0-25v-4m0-41v-4m0-24v-1m0-31v-2m0-60v-2m0-18v-2m0-23v-2M851 775v-2m0-2v-2m0-3v-4m0-2v-1m0-4v-4m0-23v-4m0-38v-2m0-14v-4m0-3v-2m0-18v-2m0-141v-2m0-20v-2m0-38v-2m0-3v-4m0-18v-2m0-29v-2m0-38v-2m0-10v-2m0-40v-2m0-20v-2m0-7v-2m0-5v-2m0-4v-3m0-40v-2M878 789v-1m0-8v-2m0-21v-2m0-20v-2m0-23v-2m0-93v-1m0-8v-1m0-53v-2m0-58v-2m0-25v-2m0-14v-4m0-7v-2m0-31v-1m0-95v-1m0-24v-2m0-25v-2m0-13v-1m0-19v-1m0-100v-2m0-12v-2m0-11v-2M905 773v-2m0-2v-5m0-11v-2m0-20v-1m0-31v-2m0-63v-2m0-212v-2m0-29v-2m0-52v-2m0-24v-1m0-31v-2m0-40v-2m0-25v-2m0-13v-1m0-24v-2m0-72v-2M932 768v-8m0-7v-2m0-21v-2m0-13v-2m0-7v-2m0-34v-4m0-5v-2m0-29v-2m0-14v-2m0-11v-2m0-14v-2m0-35v-1m0-4v-2m0-25v-2m0-25v-2m0-22v-2m0-27v-5m0-8v-1m0-2v-2m0-42v-1m0-2v-2m0-20v-4m0-10v-2m0-6v-1m0-22v-2m0-25v-2m0-102v-1m0-40v-2m0-24v-1"/>
<path transform="translate(3)" stroke="#472f7d" stroke-width="6" d="M127 720v-1m0-17v-1m0-24v-2m0-45v-2m0-107v-3m0-15v-3m0-15v-2m0-20v-1m0-42v-4m0-34v-2m0-33v-1m0-78v-2m0-4v-2m0-21v-2m0-22v-2m0-23v-6m0-3v-2M143 749v-1m0-35v-2m0-65v-2m0-1v-2m0-132v-2m0-15v-2m0-7v-2m0-88v-2m0-35v-3m0-7v-2m0-4v-2m0-78v-1m0-20v-2m0-9v-2m0-138v-1M154 759v-2m0-35v-2m0-12v-4m0-76v-2m0-41v-2m0-9v-2m0-9v-2m0-20v-2m0-116v-1m0-44v-2m0-29v-1m0-8v-3m0-4v-2m0-69v-1m0-26v-1m0-35v-2m0-14v-2m0-81v-2m0-2v-2M170 762v-2m0-27v-2m0-161v-2m0-21v-2m0-111v-1m0-15v-2m0-27v-2m0-47v-2m0-101v-2m0-38v-2m0-16v-2m0-83v-2M181 722v-2m0-83v-2m0-27v-2m0-7v-2m0-3v-2m0-2v-2m0-16v-2m0-40v-1m0-77v-1m0-109v-2m0-80v-1m0-13v-2m0-60v-1m0-29v-2m0-40v-2M197 764v-2m0-22v-1m0-20v-2m0-31v-4m0-36v-2m0-86v-2m0-38v-4m0-163v-2m0-40v-1m0-57v-1m0-64v-2m0-50v-2M208 784v-2m0-132v-2m0-125v-2m0-58v-1m0-24v-2m0-29v-2m0-39v-4m0-45v-2m0-26v-1m0-24v-2m0-5v-2m0-40v-2M224 764v-2m0-25v-2m0-176v-1m0-20v-2m0-42v-2m0-29v-3m0-114v-2m0-51v-2m0-107v-1M235 688v-2m0-2v-3m0-9v-2m0-35v-1m0-31v-2m0-7v-2m0-20v-2m0-11v-1m0-2v-2m0-83v-2m0-2v-2m0-101v-2m0-9v-2m0-38v-2m0-32v-2m0-112v-2m0-53v-2M251 764v-2m0-11v-2m0-34v-2m0-9v-2m0-219v-2m0-5v-2m0-16v-2m0-74v-2m0-47v-2m0-85v-2m0-3v-2m0-107v-4M262 775v-6m0-56v-2m0-172v-1m0-102v-2m0-78v-1m0-53v-2m0-128v-2m0-40v-2m0-21v-2M278 722v-2m0-7v-2m0-1v-2m0-9v-2m0-36v-2m0-24v-1m0-140v-2m0-65v-2m0-2v-3m0-16v-2m0-2v-2m0-13v-1m0-15v-2m0-12v-2m0-80v-2m0-27v-2m0-23v-2m0-25v-2m0-42v-2m0-50v-2M289 704v-3m0-62v-2m0-101v-2m0-49v-2m0-27v-2m0-25v-2m0-71v-1m0-143v-4m0-5v-2M305 766v-2m0-2v-2m0-21v-2m0-36v-4m0-16v-2m0-20v-2m0-4v-3m0-6v-1m0-9v-2m0-93v-1m0-42v-2m0-22v-1m0-38v-2m0-8v-1m0-17v-1m0-31v-2m0-5v-2m0-13v-2m0-94v-2m0-38v-2m0-29v-1m0-73v-2M316 766v-2m0-13v-2m0-126v-4m0-23v-4m0-18v-2m0-89v-2m0-52v-2m0-83v-2m0-7v-2m0-69v-2m0-14v-2m0-71v-1m0-2v-2m0-11v-2M332 762v-2m0-21v-2m0-33v-2m0-36v-2m0-23v-2m0-25v-2m0-49v-2m0-31v-1m0-2v-2m0-47v-2m0-110v-2m0-24v-2m0-190v-2M343 731v-1m0-10v-1m0-18v-2m0-36v-2m0-40v-2m0-25v-2m0-15v-1m0-76v-2m0-4v-2m0-61v-2m0-53v-1m0-55v-2m0-29v-1m0-64v-2M359 766v-2m0-2v-2m0-7v-2m0-2v-3m0-116v-2m0-2v-1m0-8v-2m0-18v-1m0-17v-2m0-52v-2m0-7v-2m0-7v-2m0-31v-2m0-14v-2m0-16v-4m0-7v-2m0-22v-1m0-53v-2m0-18v-2m0-38v-2m0-59v-2m0-13v-2m0-34v-2m0-12v-2m0-31v-2m0-31v-1m0-2v-2M370 759v-2m0-4v-2m0-45v-2m0-58v-2m0-3v-2m0-34v-2m0-4v-2m0-5v-2m0-18v-2m0-20v-2m0-54v-2m0-7v-2m0-34v-2m0-18v-2m0-22v-1m0-55v-3m0-33v-2m0-9v-2m0-3v-2m0-60v-2m0-56v-2m0-16v-2m0-52v-2M386 766v-2m0-29v-2m0-18v-2m0-12v-2m0-6v-3m0-4v-2m0-2v-1m0-4v-2m0-16v-2m0-42v-1m0-11v-2m0-4v-1m0-144v-1m0-15v-2m0-27v-2m0-16v-2m0-9v-2m0-65v-2m0-16v-2m0-11v-1m0-6v-2m0-18v-2m0-7v-2m0-3v-2m0-2v-5m0-38v-2m0-15v-1m0-49v-2M397 755v-2m0-89v-1m0-33v-2m0-132v-2m0-143v-2m0-38v-2m0-88v-2m0-9v-2m0-5v-2m0-40v-2m0-60v-1M413 746v-2m0-9v-2m0-63v-2m0-101v-2m0-2v-2m0-29v-2m0-105v-2m0-36v-2m0-68v-2m0-56v-2m0-51v-2m0-30v-2m0-9v-2m0-47v-2m0-11v-2M424 766v-2m0-22v-2m0-21v-2m0-40v-2m0-92v-2m0-40v-2m0-85v-2m0-76v-1m0-33v-2m0-3v-2m0-46v-1m0-24v-2m0-2v-1m0-15v-2m0-3v-2m0-4v-1m0-20v-2m0-2v-2m0-41v-2M440 777v-2m0-6v-1m0-4v-2m0-16v-2m0-18v-2m0-34v-2m0-118v-2m0-18v-2m0-10v-2m0-243v-2m0-126v-2m0-55v-1M451 773v-2m0-27v-4m0-23v-2m0-9v-2m0-36v-2m0-2v-1m0-35v-3m0-11v-2m0-16v-4m0-13v-2m0-7v-2m0-5v-2m0-22v-1m0-13v-2m0-7v-2m0-2v-2m0-10v-2m0-47v-2m0-11v-2m0-31v-1m0-2v-2M467 771v-2m0-68v-2m0-33v-2m0-18v-2m0-47v-1m0-60v-2m0-11v-2m0-81v-2m0-4v-1m0-19v-1m0-62v-2m0-105v-2m0-34v-2m0-85v-2m0-16v-2M478 766v-2m0-85v-2m0-16v-2m0-4v-2m0-21v-2m0-54v-2m0-16v-2m0-31v-2m0-27v-2m0-47v-2m0-25v-2m0-47v-4m0-38v-1m0-8v-2m0-50v-2m0-31v-2m0-18v-2m0-48v-2m0-13v-2m0-41v-4M494 755v-2m0-7v-2m0-16v-2m0-94v-2m0-18v-2m0-83v-2m0-2v-4m0-3v-2m0-29v-2m0-65v-2m0-74v-2m0-25v-4m0-54v-2m0-60v-2m0-41v-2m0-25v-2M505 762v-2m0-501v-2M521 762v-3m0-4v-2m0-51v-1m0-2v-2m0-7v-4m0-27v-2m0-20v-2m0-16v-2m0-12v-6m0-2v-1m0-58v-2m0-26v-1m0-35v-2m0-12v-2m0-20v-4m0-23v-2m0-13v-1m0-53v-2m0-7v-2m0-58v-2m0-146v-2m0-4v-2m0-1v-2M532 713v-5m0-9v-2m0-89v-2m0-77v-2m0-9v-2m0-16v-2m0-94v-2m0-103v-2M548 759v-2m0-22v-2m0-2v-1m0-62v-2m0-16v-2m0-34v-2m0-6v-1m0-11v-2m0-29v-4m0-12v-2m0-16v-2m0-51v-2m0-40v-1m0-64v-2m0-1v-2m0-35v-1m0-4v-2m0-51v-1m0-53v-2m0-14v-2m0-58v-2m0-3v-2m0-15v-2m0-19v-2M559 784v-2m0-27v-2m0-2v-2m0-21v-2m0-2v-2m0-212v-1m0-29v-2m0-20v-2m0-72v-2m0-29v-2m0-36v-2m0-18v-2m0-192v-2M575 764v-2m0-70v-2m0-22v-2m0-56v-2m0-47v-2m0-45v-2m0-12v-2m0-18v-2m0-22v-2m0-32v-2m0-4v-2m0-70v-2m0-9v-2m0-110v-2m0-7v-2m0-40v-2m0-11v-2M586 795v-2m0-20v-2m0-20v-2m0-61v-2m0-7v-2m0-7v-2m0-7v-2m0-56v-2m0-29v-2m0-96v-2m0-50v-2m0-7v-2m0-16v-2m0-11v-2m0-9v-2m0-2v-1m0-15v-2m0-74v-2m0-123v-2M602 766v-2m0-11v-2m0-38v-2m0-59v-2m0-111v-1m0-6v-2m0-14v-2m0-7v-2m0-9v-2m0-36v-2m0-31v-2m0-61v-2m0-2v-2m0-34v-2m0-45v-2m0-3v-2m0-84v-1m0-20v-2m0-54v-2m0-4v-2M613 762v-2m0-20v-1m0-37v-1m0-8v-1m0-15v-2m0-101v-2m0-27v-2m0-4v-1m0-105v-2m0-27v-2m0-9v-2m0-22v-2m0-9v-2m0-25v-2m0-59v-2m0-22v-2m0-3v-2m0-9v-2m0-129v-1M629 771v-2m0-7v-3m0-51v-2m0-27v-2m0-60v-2m0-1v-2m0-107v-4m0-14v-2m0-62v-1m0-98v-2m0-47v-2m0-3v-2m0-15v-2m0-21v-2m0-6v-1m0-58v-2m0-15v-1M640 757v-2m0-9v-2m0-81v-2m0-109v-4m0-108v-2m0-101v-2m0-24v-2m0-68v-2m0-38v-2m0-16v-2m0-27v-2M656 768v-2m0-4v-2m0-174v-1m0-185v-2m0-61v-2m0-56v-2M667 771v-2m0-3v-2m0-156v-2m0-288v-1m0-55v-2m0-61v-2M683 751v-2m0-119v-2m0-85v-2m0-31v-1m0-370v-2m0-18v-2M694 771v-2m0-27v-2m0-146v-2m0-94v-2m0-67v-2m0-125v-2m0-7v-2m0-74v-2m0-25v-2m0-13v-1m0-46v-2m0-23v-2M737 784v-2m0-40v-2m0-161v-2m0-418v-2m0-12v-2m0-17v-1M748 673v-1m0-26v-2m0-59v-2m0-11v-2m0-7v-2m0-29v-2m0-146v-2m0-69v-2m0-27v-2m0-12v-2m0-20v-2"/>
<path transform="translate(2.5)" stroke="#472f7d" stroke-width="5" d="M122 731v-1m0-38v-2m0-53v-2m0-21v-2m0-26v-1m0-15v-2m0-16v-2m0-67v-2m0-3v-2m0-13v-1m0-11v-2m0-7v-2m0-7v-2m0-6v-2m0-9v-1m0-80v-2m0-7v-2m0-4v-1m0-6v-2m0-50v-2m0-4v-2m0-54v-2m0-18v-2M133 570v-2m0-25v-2m0-47v-4m0-139v-2m0-41v-2m0-15v-2m0-43v-2m0-45v-2m0-38v-2m0-34v-2m0-27v-2M138 740v-1m0-75v-1m0-22v-2m0-36v-2m0-60v-2m0-36v-2m0-14v-2m0-20v-3m0-2v-2m0-65v-2m0-78v-2m0-72v-2m0-16v-2m0-11v-2M149 748v-2m0-49v-2m0-36v-2m0-4v-1m0-44v-2m0-38v-1m0-35v-2m0-164v-2m0-80v-2m0-32v-2m0-24v-2m0-106v-2M160 768v-2m0-13v-2m0-41v-2m0-6v-1m0-6v-2m0-47v-2m0-45v-2m0-76v-2m0-61v-2m0-56v-2m0-27v-2m0-16v-2m0-22v-1m0-104v-2m0-12v-2m0-54v-2m0-33v-2m0-9v-1M165 759v-2m0-156v-2m0-49v-2m0-34v-2m0-81v-2m0-210v-2m0-40v-2m0-14v-4M176 766v-2m0-47v-2m0-9v-2m0-94v-2m0-7v-2m0-18v-2m0-7v-2m0-7v-4m0-45v-2m0-63v-2m0-22v-3m0-51v-2m0-5v-2m0-18v-2m0-72v-2m0-2v-2m0-130v-2M187 744v-2m0-9v-3m0-13v-2m0-45v-2m0-7v-2m0-53v-1m0-11v-2m0-7v-4m0-27v-2m0-52v-2m0-18v-2m0-71v-2m0-36v-2m0-25v-2m0-22v-1m0-33v-4m0-68v-2m0-18v-2m0-27v-2m0-7v-2M192 760v-1m0-71v-2m0-94v-2m0-58v-3m0-191v-1m0-91v-2m0-2v-1m0-17v-2m0-77v-2M203 768v-2m0-15v-2m0-1v-2m0-4v-2m0-5v-2m0-11v-2m0-112v-2m0-25v-2m0-170v-2m0-49v-2m0-10v-2m0-2v-2m0-3v-2m0-105v-2m0-94v-2M214 771v-2m0-94v-2m0-135v-4m0-87v-2m0-7v-2m0-3v-4m0-38v-2m0-78v-2m0-88v-4m0-92v-2m0-22v-2M219 748v-2m0-7v-2m0-38v-2m0-132v-2m0-243v-2m0-19v-2m0-4v-2m0-101v-2M230 755v-2m0-76v-2m0-3v-2m0-64v-1m0-98v-2m0-121v-4m0-69v-2m0-101v-2m0-81v-2M241 728v-2m0-67v-2m0-85v-2m0-12v-2m0-4v-2m0-14v-2m0-18v-2m0-22v-2m0-38v-1m0-78v-2m0-120v-1m0-17v-1M246 771v-2m0-1v-2m0-22v-2m0-5v-4m0-90v-2m0-29v-2m0-34v-4m0-2v-2m0-49v-1m0-11v-2m0-105v-2m0-125v-2m0-1v-2m0-56v-4m0-74v-2M257 769v-1m0-129v-2m0-96v-2m0-10v-2m0-8v-1m0-55v-1m0-35v-2m0-81v-2m0-7v-2m0-29v-2m0-94v-2m0-2v-1m0-40v-4m0-2v-5m0-29v-2M268 784v-2m0-60v-2m0-28v-2m0-65v-2m0-4v-2m0-159v-2m0-119v-2m0-75v-1m0-8v-1m0-31v-2m0-112v-2m0-9v-2M273 766v-2m0-27v-2m0-114v-2m0-114v-2m0-230v-2m0-21v-4m0-80v-1m0-37v-2m0-30v-2M284 710v-2m0-74v-2m0-9v-2m0-11v-2m0-319v-1m0-53v-2m0-16v-2m0-18v-2m0-21v-2m0-33v-3M295 768v-2m0-91v-2m0-68v-2m0-103v-2m0-75v-1m0-76v-2m0-2v-2m0-112v-4m0-12v-2m0-82v-2m0-10v-2M300 778v-1m0-78v-2m0-2v-2m0-29v-1m0-57v-1m0-4v-2m0-58v-2m0-74v-2m0-40v-1m0-9v-2m0-96v-2m0-14v-2m0-80v-4m0-32v-2m0-11v-2m0-79v-2M311 768v-2m0-2v-2m0-83v-2m0-81v-2m0-47v-2m0-2v-2m0-9v-2m0-49v-1m0-11v-2m0-15v-1m0-35v-2m0-108v-2m0-2v-2m0-65v-2m0-52v-2m0-43v-2M322 702v-1m0-58v-2m0-51v-2m0-5v-2m0-36v-2m0-60v-2m0-18v-1m0-2v-2m0-103v-2m0-22v-2m0-11v-1m0-4v-2m0-16v-2m0-43v-2m0-9v-2m0-40v-4m0-32v-2m0-36v-2m0-25v-2M327 692v-2m0-154v-2m0-7v-2m0-54v-2m0-38v-2m0-27v-2m0-60v-2m0-58v-1m0-4v-2m0-25v-2m0-60v-2m0-10v-2m0-9v-2m0-27v-2M338 684v-2m0-12v-2m0-58v-2m0-76v-2m0-21v-4m0-27v-2m0-2v-2m0-9v-1m0-6v-2m0-20v-1m0-51v-2m0-9v-2m0-20v-2m0-47v-1m0-10v-1m0-75v-1m0-17v-2m0-32v-2m0-13v-1m0-28v-1m0-26v-2M349 760v-1m0-17v-2m0-21v-2m0-123v-2m0-140v-1m0-4v-2m0-90v-2m0-114v-2m0-31v-2m0-20v-1M354 711v-1m0-28v-1m0-40v-2m0-139v-2m0-78v-2m0-90v-2m0-85v-2m0-18v-2m0-76v-2m0-18v-2M365 768v-2m0-6v-1m0-58v-2m0-2v-2m0-76v-2m0-27v-2m0-87v-1m0-17v-2m0-14v-2m0-38v-2m0-50v-2m0-94v-2m0-26v-1M376 762v-2m0-23v-4m0-70v-2m0-24v-2m0-14v-2m0-27v-2m0-134v-2m0-117v-2m0-91v-2m0-59v-4m0-56v-2M381 682v-1m0-8v-1m0-24v-2m0-34v-2m0-9v-2m0-20v-2m0-36v-2m0-77v-2m0-4v-5m0-31v-2m0-25v-2m0-15v-1m0-133v-1m0-2v-2m0-49v-2m0-2v-1m0-2v-2m0-40v-2m0-9v-2M392 755v-2m0-4v-1m0-136v-2m0-7v-2m0-168v-2m0-71v-2m0-50v-2m0-33v-2m0-16v-2m0-14v-2m0-13v-2m0-10v-2m0-6v-1m0-8v-2m0-19v-2M403 778v-1m0-20v-2m0-65v-2m0-98v-2m0-114v-2m0-30v-2m0-53v-2m0-16v-2m0-11v-1m0-9v-2m0-6v-1m0-4v-2m0-22v-1m0-60v-2m0-4v-1m0-86v-1M408 791v-2m0-34v-2m0-13v-1m0-44v-2m0-18v-2m0-30v-2m0-16v-2m0-46v-1m0-35v-2m0-47v-2m0-48v-2m0-26v-1m0-111v-2m0-9v-2m0-1v-4m0-25v-2m0-149v-1M419 773v-4m0-10v-2m0-15v-2m0-23v-2m0-63v-2m0-58v-4m0-85v-2m0-45v-2m0-29v-2m0-175v-2m0-78v-2m0-1v-2m0-18v-4m0-13v-2m0-14v-2M430 673v-1m0-6v-3m0-62v-2m0-54v-2m0-11v-2m0-7v-4m0-179v-2m0-5v-2m0-16v-2m0-4v-1m0-9v-2m0-17v-1m0-62v-2m0-5v-2m0-49v-2m0-56v-2m0-7v-2m0-2v-1M435 715v-2m0-20v-1m0-13v-2m0-11v-2m0-7v-2m0-32v-2m0-6v-1m0-15v-2m0-5v-2m0-9v-2m0-27v-4m0-1v-2m0-33v-2m0-99v-2m0-5v-2m0-29v-2m0-24v-5m0-7v-2m0-38v-2m0-40v-2m0-38v-1m0-4v-2m0-32v-2m0-6v-1m0-15v-4m0-7v-2m0-9v-2m0-1v-4m0-22v-1M446 768v-2m0-2v-4m0-224v-2m0-72v-2m0-2v-2m0-56v-2m0-7v-2m0-27v-2m0-38v-2m0-12v-2m0-24v-2m0-5v-2m0-186v-2M457 778v-1m0-6v-2m0-9v-1m0-39v-1m0-47v-2m0-29v-2m0-4v-1m0-107v-2m0-4v-2m0-117v-2m0-147v-2m0-10v-2m0-26v-1m0-6v-2m0-56v-2m0-32v-2M462 791v-2m0-65v-2m0-94v-2m0-16v-2m0-56v-2m0-3v-2m0-58v-4m0-21v-2m0-64v-1m0-2v-2m0-35v-1m0-11v-2m0-65v-2m0-161v-2M473 757v-2m0-38v-2m0-22v-1m0-28v-1m0-17v-2m0-1v-2m0-13v-2m0-18v-3m0-31v-4m0-433v-1M484 766v-2m0-2v-2m0-5v-2m0-25v-2m0-36v-2m0-9v-2m0-71v-1m0-19v-1m0-35v-2m0-65v-3m0-8v-1m0-17v-2m0-12v-2m0-11v-2m0-32v-2m0-22v-2m0-39v-2m0-31v-2m0-72v-2m0-54v-2m0-76v-2M489 768v-2m0-38v-2m0-118v-2m0-9v-1m0-252v-2m0-92v-2M500 720v-1m0-9v-2m0-33v-2m0-61v-2m0-9v-2m0-116v-2m0-10v-2m0-27v-2m0-4v-3m0-8v-2m0-19v-2m0-44v-2m0-21v-2m0-82v-1m0-46v-1m0-19v-1m0-2v-4m0-29v-3m0-42v-2M511 768v-2m0-22v-2m0-31v-1m0-58v-2m0-73v-1m0-73v-2m0-27v-2m0-52v-2m0-2v-2m0-38v-1m0-19v-1m0-27v-2m0-17v-1m0-2v-2m0-4v-1m0-29v-2m0-120v-2m0-34v-2M516 722v-2m0-7v-2m0-65v-2m0-3v-2m0-9v-2m0-27v-2m0-9v-2m0-36v-2m0-43v-2m0-43v-2m0-22v-2m0-41v-4m0-49v-2m0-90v-2m0-31v-2m0-5v-2m0-7v-2m0-2v-2m0-11v-1m0-33v-2m0-22v-1M527 699v-2m0-11v-2m0-20v-1m0-6v-2m0-38v-2m0-112v-2m0-18v-2m0-10v-2m0-20v-2m0-16v-2m0-31v-2m0-11v-1m0-29v-2m0-38v-2m0-53v-1m0-24v-2m0-7v-2m0-78v-1M538 753v-4m0-21v-2m0-54v-2m0-51v-2m0-9v-2m0-48v-2m0-201v-2m0-56v-2m0-63v-2m0-38v-2m0-18v-2m0-45v-2m0-4v-2M543 717v-2m0-13v-1m0-71v-4m0-11v-1m0-60v-2m0-43v-2m0-205v-2m0-61v-2m0-63v-2m0-6v-1M554 605v-2m0-36v-4m0-63v-2m0-2v-2m0-11v-3m0-4v-2m0-47v-2m0-90v-2m0-40v-2M565 762v-2m0-7v-2m0-47v-2m0-23v-2m0-2v-5m0-26v-1m0-102v-2m0-34v-2m0-36v-2m0-3v-4m0-44v-1m0-8v-1m0-28v-1m0-263v-2M570 755v-2m0-71v-1m0-18v-2m0-89v-2m0-45v-2m0-7v-2m0-25v-2m0-127v-2m0-47v-2m0-20v-1m0-9v-2m0-9v-2m0-118v-2m0-3v-2M581 771v-2m0-99v-2m0-7v-2m0-27v-2m0-53v-1m0-20v-2m0-25v-2m0-31v-2m0-161v-2m0-58v-2M592 766v-2m0-5v-2m0-26v-1m0-2v-2m0-42v-2m0-228v-2m0-144v-2m0-27v-2m0-103v-2m0-6v-1m0-26v-2m0-39v-2M597 766v-2m0-24v-1m0-35v-2m0-59v-2m0-15v-1m0-31v-2m0-6v-1m0-8v-1m0-4v-2m0-27v-2m0-76v-2m0-20v-1m0-2v-7m0-6v-2m0-9v-2m0-7v-2m0-23v-2m0-5v-2m0-51v-2m0-2v-1m0-69v-4m0-9v-2m0-9v-2m0-30v-2m0-31v-2m0-3v-4M608 784v-2m0-47v-2m0-11v-2m0-14v-2m0-56v-2m0-18v-2m0-3v-2m0-49v-2m0-3v-2m0-36v-2m0-2v-2m0-25v-4m0-40v-2m0-23v-2m0-13v-1m0-24v-4m0-5v-4m0-1v-2m0-11v-7m0-56v-2m0-15v-2m0-45v-2m0-23v-2m0-16v-2m0-11v-2m0-16v-2M619 764v-2m0-31v-1m0-44v-2m0-9v-2m0-10v-2m0-78v-2m0-92v-4m0-63v-2m0-64v-1m0-82v-2m0-7v-2m0-14v-2m0-25v-2m0-26v-1M624 764v-4m0-3v-2m0-13v-2m0-110v-2m0-3v-2m0-47v-2m0-29v-2m0-14v-2m0-2v-2m0-49v-2m0-41v-2m0-20v-2m0-23v-2m0-7v-2m0-53v-2m0-54v-2m0-108v-2m0-11v-2M635 764v-2m0-31v-1m0-13v-4m0-9v-2m0-233v-2m0-38v-2m0-52v-2m0-85v-2m0-33v-2m0-29v-1m0-15v-2m0-5v-2m0-27v-2m0-70v-2M646 762v-2m0-1v-2m0-26v-1m0-4v-2m0-83v-2m0-4v-1m0-60v-2m0-4v-1m0-29v-2m0-9v-2m0-96v-2m0-38v-2m0-114v-2m0-78v-1m0-2v-2m0-76v-2M651 719v-2m0-185v-2m0-67v-1m0-153v-1m0-51v-2m0-5v-2m0-78v-2M662 762v-2m0-12v-2m0-89v-2m0-30v-2m0-89v-2m0-51v-1m0-20v-2m0-45v-2m0-6v-1m0-239v-2m0-4v-2M673 724v-2m0-150v-2m0-5v-2m0-22v-2m0-175v-2m0-60v-2m0-3v-2m0-127v-2M678 663v-2m0-20v-2m0-9v-2m0-22v-1m0-37v-1m0-17v-2m0-88v-2m0-65v-2m0-16v-2m0-24v-2m0-14v-2m0-5v-6m0-88v-2m0-18v-2m0-24v-2m0-3v-2m0-36v-2m0-42v-1m0-4v-2M689 775v-2m0-18v-2m0-81v-2m0-49v-2m0-18v-2m0-141v-2m0-290v-1M705 773v-2m0-119v-2m0-74v-2m0-80v-2m0-50v-2m0-49v-2m0-125v-2m0-134v-2M716 626v-1m0-17v-2m0-9v-1m0-4v-2m0-92v-2m0-62v-1m0-109v-2m0-168v-2m0-24v-2M727 755v-2m0-54v-2m0-4v-1m0-49v-2m0-27v-2m0-98v-2m0-72v-2m0-62v-1m0-28v-1m0-122v-2m0-14v-2m0-27v-2m0-12v-2M759 719v-2m0-158v-1m0-57v-1m0-185v-2m0-4v-1m0-2v-2m0-13v-2m0-114v-1m0-55v-2m0-9v-1M770 762v-2m0-18v-2m0-47v-1m0-106v-1m0-24v-2m0-30v-2m0-20v-2m0-38v-2m0-85v-2m0-275v-2M797 793v-4m0-9v-2m0-170v-2m0-41v-2m0-118v-2m0-1v-2m0-11v-2m0-36v-2m0-47v-2m0-242v-2M824 800v-2m0-16v-4m0-3v-2m0-13v-1m0-80v-2m0-24v-1m0-17v-1m0-6v-2m0-58v-1m0-31v-2m0-38v-2m0-96v-2m0-143v-2m0-27v-2m0-34v-2m0-49v-1M851 677v-2m0-56v-2m0-20v-1m0-120v-2m0-34v-2m0-20v-2m0-38v-2m0-12v-2m0-243v-2M878 617v-2m0-61v-2m0-9v-2m0-85v-2m0-14v-2m0-34v-2m0-4v-2m0-126v-2m0-116v-2M905 719v-2m0-60v-2m0-69v-3m0-141v-2m0-84v-1m0-53v-2m0-21v-2m0-4v-2M932 777v-2m0-73v-1m0-84v-2m0-45v-2m0-50v-2m0-38v-2m0-121v-2m0-20v-4m0-11v-1m0-40v-2m0-24v-1m0-49v-2m0-7v-2m0-36v-2m0-15v-1m0-6v-2"/>
<path transform="translate(3)" stroke="#443983" stroke-width="6" d="M127 527v-2m0-103v-2m0-111v-1m0-37v-1m0-4v-2m0-4v-1m0-22v-2m0-25v-2M143 692v-2m0-194v-4m0-54v-2m0-85v-2m0-7v-2m0-81v-2m0-15v-1m0-118v-2M154 768v-2m0-89v-2m0-58v-2m0-16v-2m0-38v-1m0-109v-2m0-49v-2m0-25v-2m0-92v-2m0-9v-2m0-150v-2m0-25v-2M170 590v-2m0-7v-2m0-340v-2m0-103v-2m0-2v-2m0-11v-1M181 749v-1m0-76v-2m0-100v-2m0-18v-2m0-141v-2M197 605v-2m0-44v-1m0-29v-2m0-87v-2m0-107v-2m0-121v-2M208 735v-2m0-58v-2m0-72v-2m0-80v-1m0-259v-2m0-29v-2m0-94v-2M224 762v-2m0-47v-2m0-1v-2m0-212v-2M235 731v-1m0-96v-2m0-257v-2m0-58v-2m0-63v-2m0-96v-2M251 706v-2m0-203v-1m0-11v-2M262 797v-2m0-15v-2m0-45v-2M278 768v-6m0-110v-2m0-98v-4m0-94v-2m0-54v-2m0-12v-2m0-29v-2m0-51v-1M289 494v-2m0-242v-4m0-2v-3m0-8v-1m0-31v-4M305 768v-2m0-96v-4m0-85v-2m0-5v-2m0-11v-2m0-139v-2m0-7v-2m0-20v-2m0-20v-1m0-60v-2m0-76v-2m0-16v-2m0-118v-2M316 702v-5m0-22v-2m0-30v-2m0-102v-1m0-66v-1m0-37v-1m0-6v-2m0-29v-1m0-142v-2m0-12v-2m0-5v-2m0-64v-1m0-51v-2m0-14v-2M332 771v-3m0-194v-2m0-299v-2m0-175v-2M343 764v-2m0-25v-2m0-139v-2m0-60v-2m0-157v-2m0-20v-2m0-54v-2m0-25v-2M359 764v-2m0-27v-2m0-40v-1m0-64v-2m0-1v-2m0-8v-1m0-102v-2m0-5v-2m0-170v-2m0-5v-2m0-11v-2m0-67v-3m0-89v-2m0-11v-2m0-3v-2M370 780v-2m0-10v-2m0-49v-2m0-72v-2m0-22v-2m0-16v-2m0-29v-3m0-20v-2m0-114v-2m0-33v-1m0-58v-2m0-218v-1M386 722v-2m0-16v-2m0-3v-2m0-7v-2m0-51v-2m0-1v-2m0-22v-2m0-58v-2m0-36v-2m0-10v-2m0-24v-2m0-16v-2m0-34v-4m0-7v-2m0-58v-2m0-29v-1m0-46v-3m0-122v-1m0-11v-2M397 722v-2m0-135v-2m0-102v-1m0-49v-2m0-4v-2m0-204v-2m0-43v-2M413 655v-2m0-65v-2m0-56v-1m0-13v-2m0-40v-2m0-184v-2m0-60v-2M424 759v-2m0-238v-1m0-93v-2m0-1v-2m0-295v-2M440 778v-1m0-4v-4m0-7v-2m0-23v-2m0-40v-2m0-1v-2m0-18v-2m0-341v-1m0-205v-4m0-16v-2M451 775v-2m0-27v-2m0-16v-2m0-34v-2m0-2v-4m0-2v-3m0-4v-2m0-1v-2m0-49v-2m0-20v-2m0-20v-1m0-8v-1m0-6v-2m0-14v-2m0-2v-2m0-21v-2m0-9v-4m0-2v-1m0-4v-2m0-69v-3M467 753v-2m0-172v-2m0-291v-2m0-71v-1m0-51v-2m0-18v-2M478 764v-2m0-56v-2m0-56v-2m0-7v-4m0-61v-2m0-20v-2m0-27v-2m0-76v-2m0-21v-2m0-24v-1m0-53v-2m0-12v-2m0-109v-2m0-9v-2m0-103v-2M494 704v-2m0-88v-2m0-45v-2m0-152v-2m0-11v-2m0-116v-2M505 606v-1m0-421v-1M521 715v-2m0-2v-1m0-53v-2m0-87v-1m0-46v-2m0-10v-2m0-176v-2m0-1v-2m0-58v-2m0-13v-2M532 731v-1m0-165v-2m0-47v-2m0-159v-2m0-145v-2m0-14v-2m0-45v-2M548 771v-2m0-30v-2m0-4v-2m0-32v-2m0-16v-2m0-26v-1m0-20v-2m0-42v-2m0-124v-2m0-149v-2m0-126v-2m0-42v-2m0-25v-2M559 771v-2m0-119v-4m0-3v-2m0-51v-2m0-219v-2m0-25v-2m0-206v-2M575 759v-2m0-198v-1m0-31v-2m0-4v-2m0-152v-1m0-73v-2m0-92v-2M586 775v-2m0-11v-2m0-94v-2m0-250v-1m0-75v-1m0-17v-2m0-88v-2m0-31v-2m0-52v-2m0-47v-2M602 735v-2m0-170v-2m0-42v-1m0-167v-2m0-18v-2m0-16v-2m0-90v-2m0-13v-2M613 742v-2m0-18v-2m0-220v-2m0-2v-2m0-14v-2m0-15v-1m0-116v-2m0-36v-4m0-91v-1m0-82v-2m0-5v-4m0-21v-2m0-8v-1M629 471v-2m0-36v-2m0-131v-1m0-154v-2m0-27v-2M640 150v-2m0-29v-2M656 775v-2m0-9v-2M683 632v-2m0-543v-2M694 777v-2m0-214v-2m0-94v-2m0-7v-2m0-184v-2m0-4v-4m0-14v-2m0-89v-3m0-33v-2M737 748v-2m0-417v-1m0-98v-2m0-53v-1M748 701v-2m0-27v-2m0-2v-2m0-36v-2m0-94v-2m0-150v-2m0-62v-1m0-42v-2m0-7v-2m0-51v-1"/>
<path transform="translate(2.5)" stroke="#443983" stroke-width="5" d="M122 690v-2m0-85v-2m0-22v-3m0-8v-1m0-4v-2m0-67v-2m0-143v-2m0-61v-2m0-186v-2M133 724v-2m0-59v-2m0-346v-2m0-112v-2M138 762v-2m0-170v-2m0-3v-2m0-107v-2m0-96v-2m0-16v-4m0-63v-2m0-94v-2M149 646v-2m0-126v-2M160 726v-2m0-49v-2m0-70v-2m0-42v-3m0-91v-2m0-43v-2m0-58v-2m0-9v-2m0-12v-2m0-62v-1m0-13v-2M165 720v-1m0-134v-2m0-174v-2m0-232v-1M176 762v-2m0-81v-2m0-215v-2m0-27v-2m0-172v-2m0-6v-1m0-151v-1M187 730v-2m0-69v-2m0-42v-3m0-20v-2m0-134v-2M192 766v-2m0-58v-2m0-362v-2m0-143v-2m0-40v-1m0-64v-2M203 757v-2m0-6v-1m0-69v-2m0-14v-4m0-2v-2m0-152v-2m0-23v-2m0-11v-2m0-1v-2m0-62v-2m0-112v-4m0-7v-2m0-29v-1m0-76v-2M214 641v-2m0-87v-2m0-364v-2M219 768v-2m0-205v-2m0-188v-2m0-51v-1M230 766v-2m0-2v-2m0-29v-1m0-120v-2m0-302v-2M241 556v-2m0-183v-2m0-210v-2m0-23v-2M246 766v-2m0-13v-2m0-114v-1m0-17v-3m0-15v-2m0-50v-2m0-76v-2m0-149v-1m0-73v-2m0-3v-2M257 592v-2m0-5v-2m0-11v-2m0-460v-2M268 713v-2m0-231v-2m0-83v-2m0-47v-2m0-105v-2m0-29v-2M273 690v-2M295 764v-2m0-107v-2m0-57v-2m0-80v-2m0-275v-2m0-56v-2M300 786v-4m0-7v-2m0-34v-2m0-29v-2m0-18v-2m0-61v-2m0-6v-2m0-5v-2m0-50v-2m0-56v-2m0-276v-1m0-42v-2M311 762v-2m0-47v-2m0-43v-2m0-125v-2m0-141v-2m0-96v-1m0-167v-2m0-14v-2M322 768v-2m0-42v-4m0-79v-2m0-98v-2m0-20v-1m0-56v-2m0-22v-2m0-49v-2m0-29v-1m0-120v-2m0-54v-2M327 766v-2m0-176v-2m0-38v-1m0-230v-2M338 775v-2m0-92v-2m0-80v-2m0-7v-2m0-137v-2m0-82v-1m0-78v-2m0-67v-2m0-11v-2M349 759v-2m0-228v-2m0-85v-2m0-84v-1m0-71v-2m0-52v-2M354 766v-4m0-89v-1m0-306v-2m0-136v-2m0-101v-2m0-27v-2M365 762v-2m0-114v-2M376 724v-2m0-20v-1m0-42v-2m0-52v-2m0-324v-2m0-152v-2M381 762v-2m0-70v-2m0-174v-2m0-70v-2m0-107v-2m0-52v-2m0-98v-2m0-85v-2M392 760v-1m0-49v-2m0-22v-2m0-12v-2m0-6v-1m0-42v-2m0-214v-1m0-38v-2m0-149v-2m0-10v-2m0-64v-1M403 773v-2m0-5v-2m0-83v-2m0-116v-2m0-34v-2m0-33v-2m0-7v-2m0-72v-2m0-5v-2m0-56v-2m0-31v-2m0-29v-1m0-87v-2m0-18v-2m0-2v-2m0-40v-1M408 788v-2m0-2v-4m0-38v-2m0-1v-4m0-29v-4m0-137v-2m0-11v-2m0-87v-1m0-196v-2m0-29v-2M419 724v-2m0-355v-1m0-57v-1m0-122v-2m0-3v-2m0-58v-2M430 748v-2m0-31v-2m0-7v-2m0-12v-2m0-18v-2m0-45v-2m0-17v-1m0-28v-1m0-22v-2m0-188v-2m0-127v-2m0-61v-2m0-34v-2M435 711v-1m0-151v-1m0-2v-2m0-62v-2m0-134v-1m0-51v-4m0-155v-2m0-31v-2M446 749v-1m0-44v-2m0-116v-1m0-4v-2m0-85v-2m0-52v-2m0-51v-2m0-128v-2m0-25v-2m0-82v-1M457 769v-3m0-24v-2m0-168v-2m0-45v-2m0-49v-2m0-77v-2m0-125v-2m0-150v-2M462 789v-3m0-2v-2m0-31v-2m0-119v-2m0-58v-2m0-56v-2m0-255v-2m0-116v-1m0-20v-2M473 759v-2m0-9v-2m0-33v-2m0-1v-2m0-2v-2m0-5v-2m0-2v-2m0-78v-3m0-16v-2m0-31v-2M484 777v-2m0-6v-1m0-57v-1m0-78v-2m0-38v-2m0-20v-2m0-14v-2m0-4v-1m0-42v-2m0-25v-2m0-51v-2m0-32v-2m0-11v-2m0-29v-1m0-67v-2m0-35v-1m0-124v-1m0-13v-2M489 764v-2m0-40v-2m0-95v-2m0-118v-2M500 771v-2m0-190v-2m0-108v-2m0-65v-2m0-27v-2m0-63v-2m0-118v-2M511 771v-2m0-114v-2m0-163v-1m0-18v-2m0-35v-1m0-46v-2m0-10v-2m0-22v-2m0-177v-2m0-11v-2M516 775v-2m0-2v-2m0-101v-2m0-58v-2m0-25v-2m0-69v-1m0-131v-2m0-5v-2m0-109v-1m0-8v-1m0-104v-1m0-11v-4M527 695v-2m0-23v-2m0-89v-2m0-5v-4m0-25v-2m0-212v-1m0-142v-2m0-96v-1M538 740v-1m0-174v-2m0-42v-2m0-364v-1M543 637v-2m0-110v-2m0-40v-2m0-96v-1m0-6v-2m0-29v-1M554 672v-2m0-76v-2m0-226v-2m0-178v-2m0-19v-2m0-75v-1M565 726v-2m0-5v-2m0-25v-2m0-116v-2m0-53v-1m0-76v-2M570 768v-2m0-2v-2m0-47v-4m0-59v-2m0-45v-2M581 494v-2m0-58v-1m0-125v-2m0-27v-2M592 717v-2m0-94v-2m0-299v-2m0-25v-2m0-67v-2m0-29v-1m0-96v-2M597 775v-2m0-20v-2m0-92v-2m0-4v-1m0-11v-2m0-51v-2m0-134v-3m0-4v-2m0-45v-2m0-277v-2M608 775v-2m0-2v-2m0-27v-2m0-3v-2m0-38v-2m0-85v-2m0-161v-2m0-311v-2m0-13v-2M619 762v-2m0-25v-2m0-60v-1m0-249v-1m0-140v-2m0-23v-2m0-83v-2m0-38v-2M624 746v-2m0-43v-2m0-87v-2m0-43v-2m0-4v-2m0-119v-2m0-27v-2m0-13v-1m0-91v-2m0-47v-2m0-5v-2m0-24v-1m0-42v-2m0-61v-2M635 762v-2m0-47v-2m0-32v-4m0-139v-2m0-130v-2m0-33v-2m0-264v-2M646 766v-4m0-45v-2m0-45v-2m0-143v-2m0-78v-2m0-266v-2M651 766v-2m0-270v-2m0-92v-2M673 737v-2m0-469v-2m0-42v-1m0-67v-2m0-11v-2M678 784v-2m0-69v-2m0-36v-2m0-103v-2m0-280v-2m0-49v-2M689 558v-2m0-18v-2m0-254v-2m0-172v-1M705 760v-1m0-288v-2m0-143v-2m0-170v-2m0-53v-1M716 762v-2m0-143v-2m0-97v-2m0-118v-2m0-70v-2m0-91v-1m0-24v-2m0-32v-2m0-33v-2M727 777v-2m0-11v-2m0-5v-2m0-60v-2m0-59v-2m0-84v-1m0-58v-2m0-65v-2M759 655v-2m0-105v-1m0-66v-1m0-111v-2m0-221v-1m0-9v-2M770 733v-2m0-78v-1m0-116v-2m0-111v-1m0-245v-2M797 572v-7m0-2v-2m0-2v-1m0-421v-1M824 755v-2m0-9v-2m0-83v-2m0-253v-2m0-93v-5m0-132v-2M851 780v-3m0-96v-2m0-178v-1m0-279v-2m0-53v-1m0-4v-2M878 782v-2m0-326v-2m0-50v-2m0-187v-1M905 635v-1m0-58v-2m0-266v-2M932 713v-2m0-18v-1m0-229v-1m0-6v-2m0-16v-2m0-132v-2m0-31v-1m0-71v-2"/>
<path transform="translate(3)" stroke="#414487" stroke-width="6" d="M127 755v-2m0-228v-2m0-339v-1M143 516v-2m0-71v-1m0-114v-2m0-190v-2M154 760v-1m0-249v-1m0-104v-1m0-125v-2m0-55v-1M170 768v-2M181 757v-4m0-14v-2m0-140v-1m0-243v-2M197 766v-2m0-101v-2m0-169v-2m0-3v-2m0-192v-2M208 771v-2m0-121v-2m0-108v-2M224 766v-2m0-473v-2M235 778v-1m0-321v-2m0-143v-2M262 777v-2m0-6v-1m0-306v-2m0-33v-2M278 242v-1m0-84v-2M289 764v-2m0-136v-1m0-192v-2m0-53v-2M305 536v-2m0-315v-2m0-80v-1M316 565v-2m0-76v-2m0-219v-2m0-58v-2M332 507v-4m0-360v-2m0-34v-2M343 614v-2m0-31v-2M359 733v-2m0-59v-2m0-15v-2m0-48v-2m0-109v-2m0-21v-2m0-49v-2m0-223v-2M370 632v-2m0-24v-1m0-363v-1m0-153v-1M386 773v-2m0-2v-1m0-62v-2m0-2v-1m0-13v-2m0-5v-2m0-73v-1m0-288v-2m0-33v-2m0-150v-2M397 775v-2m0-219v-2M413 777v-2m0-216v-1M424 670v-2m0-129v-1m0-71v-2M440 788v-2M451 771v-2m0-5v-2m0-2v-1m0-24v-4m0-20v-1m0-6v-2m0-7v-2m0-9v-2m0-3v-2m0-24v-1m0-13v-2m0-2v-1m0-28v-1m0-8v-1m0-10v-1m0-11v-2m0-7v-2m0-13v-5m0-15v-1m0-40v-2m0-13v-2m0-12v-2M467 773v-2m0-351v-2m0-100v-1M478 771v-2m0-99v-2m0-130v-2m0-47v-2m0-105v-2m0-29v-2m0-67v-2m0-56v-2M494 673v-1m0-147v-2m0-355v-2M505 195v-2M521 498v-2m0-257v-2m0-105v-2m0-7v-2M532 652v-2m0-415v-2M548 784v-2m0-9v-2m0-201v-2m0-96v-1m0-11v-2m0-96v-2m0-51v-1m0-220v-1M559 556v-2m0-225v-1m0-91v-2M575 739v-2m0-540v-2M602 764v-2m0-81v-2m0-51v-2M613 764v-2m0-76v-2m0-27v-2m0-143v-2m0-271v-2m0-5v-2M629 737v-2m0-581v-2M640 152v-2M667 769v-1m0-665v-2M683 766v-2m0-45v-2m0-80v-2M694 778v-1m0-4v-2m0-340v-2M737 87v-2M748 103v-2"/>
<path transform="translate(2.5)" stroke="#414487" stroke-width="5" d="M122 653v-1m0-276v-1M133 103v-2M138 411v-2M149 768v-2m0-11v-2m0-74v-2m0-114v-2M160 771v-2m0-105v-1m0-6v-2m0-183v-1m0-120v-2M165 563v-2m0-80v-1M176 764v-2m0-183v-3m0-125v-2m0-111v-1m0-62v-2m0-31v-1M187 768v-2m0-299v-2m0-2v-1M192 471v-2M203 534v-2m0-56v-2m0-337v-1M219 762v-2M230 764v-2M241 639v-2M246 777v-4m0-141v-2m0-404v-2m0-103v-2M257 782v-2m0-7v-2m0-181v-2m0-429v-2M268 777v-6m0-250v-2m0-105v-1M284 246v-2M300 782v-2m0-3v-2m0-38v-2m0-226v-2m0-102v-1m0-116v-2m0-9v-2M311 257v-2M322 753v-2m0-233v-2m0-71v-2m0-239v-1M338 396v-1M349 527v-2M354 538v-2m0-15v-2m0-25v-2m0-65v-2m0-320v-2M376 483v-2m0-112v-2M381 423v-1m0-15v-2m0-121v-2m0-32v-2m0-40v-2m0-20v-2M392 771v-2m0-224v-2M403 771v-2m0-116v-1m0-64v-2m0-28v-2m0-123v-2m0-8v-1M408 793v-2m0-2v-1m0-2v-2m0-6v-1m0-477v-1m0-109v-2M419 646v-2m0-179v-2m0-175v-2M430 686v-2m0-49v-1m0-230v-2m0-6v-1m0-187v-2m0-63v-2M435 652v-2m0-60v-2m0-128v-2m0-11v-2m0-32v-2m0-252v-2m0-38v-2M446 661v-2m0-13v-2m0-59v-2m0-123v-2m0-42v-2m0-286v-2M457 485v-2M462 742v-2m0-179v-2m0-9v-2M473 768v-2m0-4v-2m0-5v-2m0-11v-2m0-25v-2m0-32v-2m0-2v-4m0-48v-2m0-42v-4M484 568v-1m0-245v-2m0-204v-2M489 771v-2m0-20v-1m0-254v-2M500 784v-2m0-5v-4m0-4v-1m0-38v-2m0-372v-1m0-24v-2M511 476v-2M516 527v-2m0-62v-1m0-337v-4M527 701v-2m0-24v-2m0-97v-2m0-22v-2M538 666v-2m0-166v-2m0-159v-2M543 260v-1m0-15v-2m0-70v-2M554 492v-2m0-181v-1M565 771v-2m0-9v-1m0-8v-2m0-501v-2m0-138v-1M581 668v-2m0-255v-2m0-264v-2M597 471v-2m0-44v-2m0-72v-2M608 780v-2m0-170v-2m0-70v-2m0-101v-2m0-31v-2m0-192v-2m0-27v-2m0-39v-2M619 768v-2m0-578v-2M624 768v-2m0-201v-2m0-235v-2M635 534v-2m0-297v-2m0-126v-4M646 471v-2m0-17v-1m0-352v-1M651 768v-2m0-2v-2M662 766v-2m0-205v-1m0-203v-2M678 753v-2m0-98v-1m0-93v-1m0-421v-1M705 764v-2m0-147v-1M716 769v-1M727 769v-1m0-118v-2m0-206v-2m0-65v-2m0-132v-2M759 289v-1M770 784v-2m0-407v-2m0-227v-1M797 788v-2m0-27v-2m0-196v-2M824 762v-2m0-3v-2m0-138v-3m0-283v-2M851 695v-2M905 534v-2M932 735v-2m0-632v-2"/>
<path transform="translate(3)" stroke="#3d4d8a" stroke-width="6" d="M143 759v-2m0-567v-2M154 764v-2m0-179v-2m0-311v-2m0-149v-2M170 766v-2M181 768v-4m0-274v-1M208 773v-2M224 769v-1M235 777v-4m0-24v-1m0-163v-2M251 463v-1M278 364v-2m0-51v-2M289 762v-2M332 773v-2m0-362v-2M343 384v-2M359 472v-1M370 472v-1M386 740v-3m0-6v-1m0-46v-2m0-7v-2m0-168v-2m0-127v-1M413 769v-1m0-24v-2M424 358v-2m0-182v-2M440 125v-2M451 768v-2m0-4v-2m0-1v-2m0-9v-2m0-16v-2m0-20v-2m0-33v-1m0-9v-2m0-6v-2m0-5v-2m0-41v-2m0-15v-2m0-14v-2m0-11v-1m0-29v-2m0-37v-1m0-46v-1M467 793v-2m0-22v-1m0-234v-2M505 766v-4M521 650v-2m0-464v-1M532 715v-2M548 777v-2m0-207v-1m0-80v-2m0-157v-2m0-13v-2M575 289v-1M586 777v-2M602 771v-2m0-251v-2M613 766v-2m0-235v-2M629 764v-2M640 777v-2m0-4v-2M667 786v-2m0-9v-4M683 771v-2M694 784v-2M737 514v-2"/>
<path transform="translate(2.5)" stroke="#3d4d8a" stroke-width="5" d="M160 655v-2m0-398v-2M176 692v-2m0-44v-2M187 347v-1M192 764v-2m0-559v-2M203 463v-1m0-55v-2M214 773v-2M219 764v-2M246 773v-2m0-277v-2m0-344v-2M257 480v-2M268 788v-2m0-17v-1M273 99v-1M295 762v-2M311 232v-2M322 755v-2m0-81v-2m0-73v-1M338 773v-2m0-290v-1M349 766v-2M376 152v-2M381 764v-2M392 597v-1M403 777v-4m0-4v-1m0-665v-2M408 798v-3m0-26v-1m0-218v-2M419 775v-2M430 760v-1m0-4v-2m0-49v-2M446 543v-2m0-85v-2M457 777v-2m0-165v-2m0-112v-2m0-252v-1M462 804v-2M473 744v-2m0-2v-1m0-6v-2m0-3v-2m0-4v-2m0-76v-1m0-2v-2m0-4v-3m0-71v-2M484 773v-2m0-578v-1M489 773v-2m0-351v-2M500 433v-2M511 380v-2M516 786v-2m0-7v-2m0-498v-2M527 771v-2m0-460v-1M554 791v-2m0-9v-2m0-3v-6m0-675v-2M565 777v-2m0-2v-2m0-503v-2m0-83v-2M570 766v-2M597 693v-1M608 786v-2m0-2v-2m0-11v-1m0-2v-2m0-4v-1M619 279v-2m0-15v-2m0-79v-2M624 349v-2M635 768v-2M651 762v-2M673 777v-2m0-4v-2m0-177v-2M678 556v-2m0-208v-2m0-241v-2M689 255v-2M705 130v-2M716 757v-2M727 768v-2m0-69v-2M770 717v-2m0-342v-2M797 789v-1m0-214v-2M824 179v-2M851 795v-2m0-7v-2M878 791v-2m0-11v-1"/>
<path transform="translate(3)" stroke="#39568c" stroke-width="6" d="M127 760v-1M181 762v-2M197 672v-4M208 777v-2M235 773v-2M343 771v-2M370 771v-2M386 777v-2m0-45v-2m0-4v-2m0-9v-2m0-14v-2M397 773v-2M413 778v-1m0-2v-4M451 749v-1m0-9v-2m0-24v-2m0-168v-2m0-20v-2m0-79v-2m0-34v-2M478 769v-1M494 768v-2m0-4v-2M532 777v-2m0-6v-1M548 769v-1M559 773v-2M575 148v-2M586 451v-2M613 237v-2M629 766v-2M640 769v-1"/>
<path transform="translate(2.5)" stroke="#39568c" stroke-width="5" d="M122 768v-2m0-4v-2M133 768v-2M138 759v-2M149 760v-3m0-151v-1M160 769v-1m0-44v-2m0-203v-1m0-120v-2M165 771v-2M176 498v-2M187 766v-2M214 777v-2M219 766v-2M241 771v-2M257 775v-2m0-632v-2M268 780v-2M295 766v-2M311 766v-2M322 766v-4M338 777v-2m0-6v-1M376 704v-2M392 773v-2M403 222v-1M419 769v-1M435 771v-2M446 775v-2M473 766v-2m0-92v-2m0-18v-4m0-47v-2M484 775v-2m0-297v-2M489 769v-1M511 766v-2M516 769v-1M527 273v-2M543 771v-2M554 778v-1m0-8v-1M565 769v-1M581 775v-2M597 771v-2M608 795v-2m0-16v-2m0-11v-2M619 766v-2M624 766v-2M635 766v-2m0-567v-2M705 775v-2m0-22v-2M759 773v-2M770 771v-2M797 775v-2m0-13v-1M824 777v-2m0-24v-2M851 789v-1"/>
<path transform="translate(3)" stroke="#355f8d" stroke-width="6" d="M143 757v-2M208 788v-2m0-11v-2M305 771v-2M332 777v-2M359 784v-2M370 766v-2M397 777v-2M424 777v-2M440 775v-2M451 784v-4m0-11v-1m0-15v-2m0-58v-1m0-58v-2M467 777v-2M478 775v-2M494 773v-2M521 766v-4M559 777v-2M586 782v-2m0-2v-1M640 775v-2M656 766v-2M667 777v-2M683 780v-2m0-9v-1M737 778v-1m0-8v-1m0-15v-2"/>
<path transform="translate(2.5)" stroke="#355f8d" stroke-width="5" d="M122 766v-2M133 760v-1M160 782v-2m0-2v-3M176 771v-2M187 675v-2M192 675v-2M214 784v-2m0-13v-1M230 784v-2M241 777v-2M257 780v-2m0-106v-2M268 782v-2M273 784v-2m0-11v-2M338 786v-2M403 780v-2M408 795v-2M430 764v-2m0-5v-2M435 769v-1M446 784v-2m0-11v-2M457 786v-2M462 793v-2M473 771v-2m0-9v-1m0-20v-2m0-58v-2m0-7v-2m0-5v-2m0-35v-1m0-13v-2m0-16v-2M527 773v-2M538 777v-2M554 795v-2M565 775v-2M581 777v-2m0-2v-2M597 784v-2M608 773v-2m0-3v-2M662 771v-2M673 769v-1M689 780v-2M705 777v-2M716 775v-2M727 773v-2M797 782v-2M824 784v-2M851 793v-2m0-3v-2M878 793v-2M932 773v-2"/>
<path transform="translate(3)" stroke="#31688e" stroke-width="6" d="M127 757v-2M143 760v-1M170 679v-2M197 771v-2M343 777v-4M359 771v-2M370 777v-2M386 737v-2M413 793v-2m0-7v-2M451 777v-2m0-9v-2m0-245v-1M467 775v-2M494 766v-4M532 775v-2M559 775v-2M602 778v-1m0-8v-1M640 773v-2M694 769v-1M737 773v-2"/>
<path transform="translate(2.5)" stroke="#31688e" stroke-width="5" d="M122 764v-2m0-2v-1M133 757v-2M138 757v-2M160 780v-2M165 773v-2M230 771v-2M241 773v-2m0-2v-1M246 675v-2M268 818v-2M349 771v-2M354 771v-2M365 780v-2M381 768v-4M392 777v-2m0-6v-1M430 759v-2M457 782v-4M473 764v-2m0-16v-2m0-152v-2M489 775v-2M516 773v-2M554 777v-2M565 791v-2M597 769v-1M619 784v-2M673 775v-2M705 784v-2M716 784v-2M759 780v-2M851 791v-2"/>
<path transform="translate(3)" stroke="#2d708e" stroke-width="6" d="M127 768v-2m0-7v-2M154 766v-2M170 771v-2M262 782v-2M332 775v-2M370 773v-2M386 775v-2M413 789v-1m0-2v-2M424 771v-2M440 789v-1M451 780v-2m0-27v-2M467 780v-2M521 771v-2M532 773v-2M575 777v-4M640 780v-2M737 795v-2"/>
<path transform="translate(2.5)" stroke="#2d708e" stroke-width="5" d="M138 768v-2m0-6v-1M165 775v-2M203 675v-2M349 777v-2m0-6v-1M365 766v-2M430 762v-2M446 773v-2M457 791v-3m0-4v-2M473 711v-1m0-37v-1M484 782v-2M500 782v-2M538 775v-2m0-4v-1M543 784v-2m0-5v-6m0-2v-1M565 780v-2M592 771v-2M608 788v-2M619 771v-2M651 784v-2M673 784v-2m0-9v-2M678 769v-1M689 771v-2M705 791v-2M716 771v-2M759 795v-2m0-15v-1M851 797v-2M905 795v-2"/>
<path transform="translate(3)" stroke="#2a788e" stroke-width="6" d="M181 771v-2M208 769v-1M262 795v-2M305 784v-2m0-5v-2M370 775v-2M386 695v-2M413 780v-2M424 784v-2m0-13v-1M440 793v-2M451 778v-1M467 778v-1M494 771v-2M586 784v-2m0-2v-2M640 784v-2M667 782v-2M694 775v-2M737 777v-2M748 782v-4"/>
<path transform="translate(2.5)" stroke="#2a788e" stroke-width="5" d="M122 771v-2M165 777v-2M176 769v-1M187 771v-2M203 784v-2m0-5v-6M246 784v-2m0-13v-1M311 771v-2M327 780v-2m0-7v-2M349 773v-2M365 771v-2M430 768v-2M457 793v-2m0-3v-2M462 806v-2M484 786v-2M527 780v-2m0-3v-2m0-4v-1M565 784v-2M581 784v-2m0-4v-1M608 791v-2m0-11v-1M624 771v-2M662 780v-2M678 771v-2M689 777v-2M716 782v-2M759 800v-2M770 800v-2m0-3v-2M824 797v-2"/>
<path transform="translate(3)" stroke="#27808e" stroke-width="6" d="M143 764v-4M181 677v-2M224 771v-2M235 795v-2m0-7v-2M251 777v-2m0-4v-3m0-96v-2M262 778v-1M289 771v-2M305 773v-2m0-2v-1M316 778v-1m0-4v-2M343 773v-2M359 775v-2M370 769v-1M397 778v-1M413 791v-2m0-1v-2m0-4v-2M440 782v-2M478 777v-2M559 769v-1M602 775v-4M613 771v-2M683 775v-4M748 788v-4"/>
<path transform="translate(2.5)" stroke="#27808e" stroke-width="5" d="M133 759v-2M176 777v-2M187 775v-2m0-4v-1M192 773v-4M214 775v-2M230 775v-2M241 775v-2M268 795v-4m0-13v-1M273 777v-4M284 777v-2m0-2v-2M295 771v-2M322 771v-2M354 775v-2M376 784v-2m0-5v-2m0-2v-2M392 784v-2m0-7v-2M403 782v-2M408 806v-2M419 778v-1M430 778v-1m0-4v-4m0-3v-2M435 773v-2M446 777v-2M473 769v-1M484 793v-2m0-11v-2M500 780v-3M527 777v-2M538 773v-2M554 797v-2M570 771v-2M592 777v-2M597 777v-2M608 793v-2M646 771v-2M651 777v-2m0-4v-2M662 773v-2m0-2v-1M678 777v-4M689 769v-1M824 795v-2M851 800v-2M905 786v-2"/>
<path transform="translate(3)" stroke="#23888e" stroke-width="6" d="M143 766v-2M197 773v-2M251 675v-2M305 775v-2M359 777v-2M386 778v-1M440 786v-4m0-2v-2M575 773v-2m0-2v-1M586 793v-2M602 784v-2M613 777v-2M667 780v-2M748 795v-6"/>
<path transform="translate(2.5)" stroke="#23888e" stroke-width="5" d="M122 777v-2m0-6v-1M133 764v-2M149 762v-2M160 786v-2M165 769v-1M187 777v-2M192 777v-2M214 780v-2M230 773v-2M268 791v-2m0-3v-2M273 769v-1M295 769v-1M300 789v-1M311 769v-1M338 780v-2M408 820v-2M419 780v-2M430 777v-2M435 777v-2M462 818v-2m0-18v-3M500 795v-2M511 777v-2M516 784v-2m0-2v-2M554 782v-2M597 773v-2M662 784v-2m0-7v-2M678 773v-2M689 773v-2M705 780v-2M716 773v-2M759 788v-2M770 778v-1M797 804v-2M905 793v-2M932 795v-2"/>
<path transform="translate(3)" stroke="#21918c" stroke-width="6" d="M143 777v-2M154 762v-2M170 777v-2M197 769v-1m0-93v-2M208 780v-3M224 784v-2M235 791v-2m0-1v-2M251 775v-2M262 793v-4M278 771v-3M289 777v-2M316 793v-2m0-14v-4m0-4v-1M343 780v-2M359 773v-2m0-2v-1M397 784v-4M413 800v-2M440 795v-2M467 789v-1M478 773v-2M505 795v-2m0-22v-3M548 778v-1M586 788v-2M602 795v-2M629 791v-2M656 777v-2m0-4v-2M667 784v-2M737 775v-2M748 778v-1"/>
<path transform="translate(2.5)" stroke="#21918c" stroke-width="5" d="M149 766v-4M187 773v-2M192 789v-1M203 769v-1M214 778v-1M219 771v-2M230 777v-2m0-6v-1M241 784v-2M246 780v-2M257 778v-1M284 775v-2M327 773v-2m0-2v-1M338 778v-1M349 775v-2M365 797v-2M381 771v-2M392 795v-2M403 784v-2M408 804v-2M419 784v-2M435 775v-2M462 802v-2m0-5v-2M473 777v-2M484 789v-1m0-4v-2m0-4v-1M527 784v-2M554 789v-1M570 769v-1M581 780v-2M597 795v-2M608 804v-2M619 773v-2M635 791v-3M705 789v-1M727 780v-3m0-2v-2M759 820v-2m0-29v-1m0-2v-2M770 793v-2m0-2v-1m0-2v-2m0-4v-2M878 804v-2m0-2v-2M905 788v-2m0-8v-1"/>
<path transform="translate(3)" stroke="#1f988b" stroke-width="6" d="M181 773v-2M197 782v-2M251 784v-2m0-9v-2M262 789v-3M278 777v-4M289 773v-2m0-2v-1M305 780v-2M316 780v-2M343 769v-1M386 780v-2M397 780v-2M467 791v-2m0-1v-4M478 780v-2M505 777v-2M521 777v-2m0-6v-1M548 780v-2M613 773v-2m0-2v-1M640 797v-2m0-4v-2M656 773v-2M667 778v-1M694 780v-2M737 780v-2M748 789v-1"/>
<path transform="translate(2.5)" stroke="#1f988b" stroke-width="5" d="M122 773v-2M138 764v-2M160 789v-1M176 786v-4m0-9v-2M192 769v-1M219 773v-2M241 778v-1M257 784v-2M268 797v-2M273 773v-2M327 777v-2M354 777v-2m0-2v-2M365 777v-2M376 775v-2m0-4v-1M381 769v-1M392 778v-1M403 795v-2M408 818v-2M419 782v-2M430 775v-2m0-4v-1M435 778v-1M446 769v-1M473 775v-4M484 791v-2M554 793v-2M565 782v-2M570 777v-4M581 782v-2M592 773v-2M624 773v-2M646 775v-2M662 777v-2M689 784v-2M716 778v-1M727 795v-2M759 782v-2M770 782v-2M797 800v-2M824 804v-4M851 804v-2m0-20v-2M905 784v-2M932 778v-1"/>
<path transform="translate(3)" stroke="#1fa188" stroke-width="6" d="M127 766v-2M170 773v-2m0-2v-1M181 777v-2M197 780v-2M224 777v-6M235 789v-1M262 786v-2M332 780v-3M386 784v-2M424 773v-2M451 791v-3m0-2v-2M467 782v-2M494 769v-1M505 775v-2M521 775v-4M532 784v-2m0-2v-2M586 791v-2M629 777v-2m0-6v-1M640 788v-2m0-8v-1"/>
<path transform="translate(2.5)" stroke="#1fa188" stroke-width="5" d="M122 775v-2M138 766v-2M160 784v-2M165 780v-2M176 775v-2M192 775v-2M203 780v-2M241 780v-2M295 777v-2M300 791v-2M311 773v-2M322 775v-4M327 775v-2M349 780v-2M392 782v-4M403 789v-5M408 816v-1M446 780v-2M462 800v-2M511 773v-2M516 789v-3M538 782v-2m0-2v-1M554 786v-2M565 778v-1M570 773v-2M592 784v-2m0-7v-2M608 800v-3M624 777v-2M635 784v-2m0-13v-1M646 769v-1M705 786v-2m0-6v-1M716 780v-2M932 793v-2"/>
<path transform="translate(3)" stroke="#22a884" stroke-width="6" d="M127 777v-2m0-11v-4M143 771v-2M181 775v-2M197 784v-2m0-7v-2M224 789v-1M235 793v-2M251 780v-2M278 773v-2M359 780v-2M386 782v-2M424 775v-2M478 784v-2M494 777v-4M532 795v-2m0-15v-1M548 782v-2M575 780v-2M613 775v-2M640 789v-1m0-2v-2M694 782v-2M748 820v-2"/>
<path transform="translate(2.5)" stroke="#22a884" stroke-width="5" d="M149 771v-2M160 818v-2m0-23v-2m0-3v-2M187 791v-2m0-9v-2M192 784v-2m0-2v-2M219 777v-4M230 780v-2M241 786v-2M246 778v-1M284 769v-1M295 775v-4M311 777v-2M338 784v-2M349 795v-2M354 769v-1M381 777v-2M403 791v-2M430 780v-2M473 780v-2M484 795v-2M489 784v-4M511 784v-2m0-7v-2m0-4v-1M516 782v-2m0-2v-1M619 789v-1m0-11v-2M624 775v-2m0-4v-1M635 777v-4M662 782v-2M705 782v-2M727 791v-2M770 788v-2M797 820v-2m0-20v-1M824 816v-1m0-17v-1M878 797v-2M905 780v-2M932 784v-6"/>
<path transform="translate(3)" stroke="#2ab07f" stroke-width="6" d="M127 775v-2M154 769v-1M170 775v-2M289 775v-2M370 784v-2M397 791v-3M424 780v-2M451 788v-2M467 784v-2M505 773v-2M521 780v-2M532 782v-2M548 793v-4M559 778v-1M586 789v-1m0-2v-2M613 784v-2M629 775v-4M640 795v-2M656 784v-2"/>
<path transform="translate(2.5)" stroke="#2ab07f" stroke-width="5" d="M133 766v-2M219 784v-2m0-13v-1M284 780v-2M300 788v-2M311 775v-2M365 769v-1M381 775v-2M403 793v-2M408 802v-2M489 780v-3M543 778v-1M565 788v-2M570 784v-2M592 780v-2M619 775v-2m0-4v-1M646 777v-2M662 778v-1M673 780v-2M727 788v-2M759 793v-4M770 791v-2M797 797v-2"/>
<path transform="translate(3)" stroke="#35b779" stroke-width="6" d="M127 771v-2M154 777v-2M170 784v-2M181 769v-1M289 780v-2M332 782v-2M343 788v-2M370 778v-1M397 795v-2M451 793v-2M548 795v-2M559 795v-2M602 780v-2M629 784v-2m0-2v-2"/>
<path transform="translate(2.5)" stroke="#35b779" stroke-width="5" d="M133 762v-2M149 777v-2M176 780v-2M241 782v-2M257 789v-1M268 806v-4M273 789v-1m0-8v-2M284 789v-1m0-10v-1M300 795v-2M322 769v-1M365 775v-4M376 780v-3M511 780v-2M538 784v-2M543 782v-2M581 793v-2M592 782v-2M624 789v-1m0-4v-2M635 773v-2M646 784v-2m0-4v-1M651 773v-2m0-2v-1M678 778v-1M905 782v-2M932 788v-2"/>
<path transform="translate(3)" stroke="#44bf70" stroke-width="6" d="M154 775v-4M170 780v-2M181 780v-2M208 782v-2M316 795v-2m0-9v-2M332 784v-2M343 784v-2M370 786v-2M413 795v-2M467 818v-2m0-21v-2M478 795v-2M505 784v-2M521 784v-2m0-4v-1M548 788v-4M559 780v-2M575 795v-2M613 800v-2m0-3v-2M640 793v-2M656 769v-1M667 793v-4M737 782v-2M748 800v-2"/>
<path transform="translate(2.5)" stroke="#44bf70" stroke-width="5" d="M122 780v-2M133 771v-2M149 773v-2M160 791v-2M165 778v-1M187 778v-1M192 778v-1M214 793v-2M300 818v-2m0-10v-6m0-3v-2M311 780v-2M349 784v-2m0-4v-1M354 795v-2m0-9v-2M381 773v-2M408 815v-2M435 780v-2M473 795v-2M527 782v-2M565 789v-1M581 795v-2M592 795v-2m0-24v-1M624 780v-2M635 778v-1M651 780v-2M673 788v-2M727 782v-2M851 798v-1M905 791v-2"/>
<path transform="translate(3)" stroke="#54c568" stroke-width="6" d="M262 806v-4M278 780v-2M343 778v-1M359 778v-1M397 793v-2m0-3v-4M548 789v-1M575 778v-1M640 782v-2M656 780v-2M694 786v-2M737 793v-5"/>
<path transform="translate(2.5)" stroke="#54c568" stroke-width="5" d="M149 775v-2M203 778v-1M230 778v-1M322 780v-2M338 788v-2m0-4v-2M381 780v-2M435 786v-2M446 778v-1M500 793v-4m0-3v-2M527 778v-1M554 788v-2M565 786v-2M570 780v-2M581 789v-1M597 780v-2M619 778v-1M646 780v-2m0-5v-2M651 775v-2M673 786v-2m0-2v-2m0-2v-1M678 780v-2M705 788v-2M727 786v-2M878 802v-2"/>
<path transform="translate(3)" stroke="#67cc5c" stroke-width="6" d="M127 778v-1M143 773v-2M197 778v-1M305 778v-1M386 795v-4m0-2v-1M413 797v-2M424 778v-1M494 780v-2M559 786v-2M613 778v-1M667 789v-3M683 782v-2M694 793v-2m0-3v-2"/>
<path transform="translate(2.5)" stroke="#67cc5c" stroke-width="5" d="M149 769v-1M176 778v-1M214 788v-2m0-4v-2M257 795v-2m0-5v-2M273 778v-1M284 786v-2M327 778v-1M354 780v-2M419 789v-3M473 778v-1M500 789v-1M543 789v-1M570 778v-1M581 791v-2M592 778v-1M597 778v-1M635 782v-2M689 782v-2m0-2v-1M905 789v-1M932 791v-3"/>
<path transform="translate(3)" stroke="#7ad151" stroke-width="6" d="M224 778v-1M251 782v-2M262 818v-2M278 786v-2M359 788v-2M370 782v-2M386 788v-2M478 778v-1M559 793v-2M575 786v-2M683 778v-1M737 786v-2"/>
<path transform="translate(2.5)" stroke="#7ad151" stroke-width="5" d="M138 771v-2M165 786v-2m0-2v-2M214 789v-1M246 789v-1m0-6v-2M295 778v-1M349 789v-1M392 793v-2M419 793v-2M430 786v-2M435 782v-2M462 820v-2M581 788v-4M608 797v-2M635 780v-2M689 786v-2M716 793v-2M727 793v-2M932 786v-2"/>
<path transform="translate(3)" stroke="#90d743" stroke-width="6" d="M127 769v-1M278 778v-1M386 791v-2M478 782v-2M505 780v-3M532 793v-2m0-3v-2M559 788v-2m0-4v-2M575 782v-2M586 798v-1M602 782v-2M613 780v-2M656 778v-1M737 788v-2"/>
<path transform="translate(2.5)" stroke="#90d743" stroke-width="5" d="M122 778v-1M133 777v-2M165 784v-2M192 782v-2M203 782v-2M214 795v-2m0-2v-2M246 788v-2M257 791v-2m0-3v-2M273 782v-2M284 784v-2M311 778v-1M354 778v-1M392 788v-2M419 786v-2M473 782v-2M489 786v-2M500 788v-2M538 791v-2M543 793v-2m0-3v-2M597 793v-4M619 780v-2M624 778v-1M716 795v-2M878 798v-1"/>
<path transform="translate(3)" stroke="#a5db36" stroke-width="6" d="M127 773v-2M143 775v-2m0-4v-1M154 780v-2M170 788v-2M181 789v-1m0-10v-1M197 789v-1M208 791v-3M251 788v-2m0-8v-1M262 800v-2M278 784v-2M289 795v-2M305 786v-2M316 789v-1M343 782v-2M359 793v-5m0-2v-2M386 786v-2M440 804v-2M505 789v-1M532 789v-1M575 784v-2M586 820v-2m0-14v-2m0-5v-2M656 795v-2M683 795v-2M694 804v-2m0-13v-1M748 804v-2"/>
<path transform="translate(2.5)" stroke="#a5db36" stroke-width="5" d="M133 769v-1M160 800v-2M176 782v-2M187 782v-2M214 786v-2M219 780v-2M230 791v-2M241 795v-2M246 786v-2M268 816v-1M284 782v-2M295 784v-2M311 793v-2m0-7v-2M322 778v-1M327 793v-2M349 788v-4M354 793v-2M365 784v-2M392 789v-1m0-2v-2M403 797v-2M430 784v-4M457 818v-2m0-16v-2M473 784v-2M484 800v-2M511 778v-1M527 795v-2m0-4v-3M538 795v-2m0-4v-1M554 818v-2m0-12v-2M597 789v-1M608 820v-5m0-9v-2M624 795v-2M646 795v-2M662 793v-4m0-3v-2M678 782v-2M689 788v-2M716 791v-2M759 804v-2M770 820v-2m0-14v-2M797 818v-3m0-13v-2M824 820v-4"/>
<path transform="translate(3)" stroke="#bddf26" stroke-width="6" d="M289 778v-1M305 782v-2M359 782v-2M424 782v-2M494 778v-1M532 791v-2M559 789v-1M586 800v-2M694 791v-2"/>
<path transform="translate(2.5)" stroke="#bddf26" stroke-width="5" d="M122 782v-2M133 773v-2M138 773v-2M160 797v-2M257 793v-2M376 782v-2M419 791v-2M435 784v-2M446 782v-2M484 788v-2M516 793v-2M538 788v-2M543 797v-2m0-9v-2M554 798v-1M597 788v-2m0-4v-2M651 778v-1M727 789v-1M905 804v-2m0-2v-2"/>
<path transform="translate(3)" stroke="#d2e21b" stroke-width="6" d="M170 778v-1M343 786v-2M359 795v-2M532 786v-2"/>
<path transform="translate(2.5)" stroke="#d2e21b" stroke-width="5" d="M230 782v-2M354 786v-2M392 791v-2M403 798v-1M516 791v-2M538 793v-2m0-5v-2M543 791v-2M597 786v-2M619 782v-2"/>
<path transform="translate(3)" stroke="#eae51a" stroke-width="6" d="M224 782v-2M289 782v-2M316 782v-2M505 782v-2M629 778v-1"/>
<path transform="translate(2.5)" stroke="#eae51a" stroke-width="5" d="M138 769v-1M295 780v-2M322 782v-2M349 782v-2M365 778v-1M381 782v-2M403 800v-2M543 795v-2M570 782v-2M608 802v-2M705 793v-2"/>
<path transform="translate(3)" stroke="#fde725" stroke-width="6" d="M127 820v-42M143 820v-43M154 820v-40m0-2v-1M170 820v-32m0-2v-2m0-2v-2M181 820v-31m0-1v-8M197 820v-31m0-1v-4M208 820v-29m0-5v-2M224 820v-31m0-1v-4M235 820v-25M251 820v-32m0-2v-2M262 820v-2m0-2v-10m0-4v-2m0-2v-1M278 820v-34m0-4v-2M289 820v-25m0-2v-11M305 820v-34M316 820v-25m0-4v-2m0-1v-4M332 820v-36M343 820v-32M359 820v-25M370 820v-34M386 820v-25M397 820v-25M413 820v-20m0-2v-1M424 820v-36M440 820v-16m0-2v-7M451 820v-27M467 820v-2m0-2v-21M478 820v-25m0-2v-9M494 820v-36m0-2v-2M505 820v-25m0-2v-4m0-1v-4M521 820v-36m0-2v-2M532 820v-25M548 820v-25M559 820v-25m0-4v-2M575 820v-25m0-2v-7M586 818v-14m0-2v-2M602 820v-25m0-2v-9M613 820v-20m0-2v-3m0-2v-9m0-2v-2M629 820v-29m0-2v-5m0-2v-2M640 820v-23M656 820v-25m0-2v-9m0-2v-2M667 820v-27M683 820v-25m0-2v-9M694 820v-16m0-2v-9M737 820v-25M748 818v-14m0-2v-2m0-2v-3"/>
<path transform="translate(2.5)" stroke="#fde725" stroke-width="5" d="M122 820v-38M133 820v-43m0-2v-2M138 820v-47M149 820v-43M160 820v-2m0-2v-16m0-2v-1m0-2v-2M165 820v-34M176 820v-34M187 820v-29m0-2v-7M192 820v-31m0-1v-4M203 820v-36M214 820v-25M219 820v-36m0-2v-2m0-2v-1M230 820v-29m0-2v-5M241 820v-25m0-2v-7M246 820v-31M257 820v-25M268 820v-2m0-3v-9m0-4v-5M273 820v-31m0-1v-4M284 820v-31m0-1v-2M295 820v-36m0-2v-2M300 820v-2m0-2v-10m0-6v-3M311 820v-27m0-2v-7m0-2v-2M322 820v-38M327 820v-27m0-2v-11M338 820v-32M349 820v-25m0-2v-4M354 820v-25m0-4v-5m0-4v-2M365 820v-23m0-2v-11m0-2v-2M376 820v-36M381 820v-36m0-6v-1M392 820v-25M403 820v-20M408 813v-7M419 820v-27M430 820v-34M435 820v-34M446 820v-36M457 820v-2m0-2v-16m0-2v-5M462 816v-10M473 820v-25m0-2v-9M484 820v-20m0-2v-3M489 820v-34M500 820v-25M511 820v-36m0-2v-2M516 820v-27M527 820v-25m0-2v-4m0-3v-2M538 820v-25M543 820v-23M554 820v-2m0-2v-12m0-2v-4M565 820v-29M570 820v-36M581 820v-25M592 820v-25m0-2v-9M597 820v-25M608 815v-9M619 820v-31m0-1v-4M624 820v-25m0-2v-4m0-1v-4m0-2v-2M635 820v-29m0-3v-4M646 820v-25m0-2v-9m0-2v-2M651 820v-36m0-2v-2M662 820v-27m0-4v-3M673 820v-32M678 820v-36M689 820v-32M705 820v-27M716 820v-25m0-6v-5M727 820v-25M759 818v-14m0-2v-2m0-2v-3M770 818v-14m0-2v-2m0-2v-3M797 815v-11M824 815v-11M851 820v-16m0-2v-2M878 820v-16M905 820v-16m0-2v-2m0-2v-3M932 820v-25"/></g>
<rect x="1016.5" y="85.5" width="36" height="737" fill="url(#cbg)"/>
<g fill="#000"><rect x="97.9444" y="84.9444" width="1.1111" height="738.1111"/><rect x="961.9444" y="84.9444" width="1.1111" height="738.1111"/><rect x="97.9444" y="84.9444" width="865.1111" height="1.1111"/><rect x="97.9444" y="821.9444" width="865.1111" height="1.1111"/><rect x="1015.9444" y="84.9444" width="1.1111" height="738.1111"/><rect x="1051.9444" y="84.9444" width="1.1111" height="738.1111"/><rect x="1015.9444" y="84.9444" width="37.1111" height="1.1111"/><rect x="1015.9444" y="821.9444" width="37.1111" height="1.1111"/><rect x="178.9444" y="822.5000" width="1.1111" height="5.0000"/><rect x="286.9444" y="822.5000" width="1.1111" height="5.0000"/><rect x="394.9444" y="822.5000" width="1.1111" height="5.0000"/><rect x="502.9444" y="822.5000" width="1.1111" height="5.0000"/><rect x="610.9444" y="822.5000" width="1.1111" height="5.0000"/><rect x="718.9444" y="822.5000" width="1.1111" height="5.0000"/><rect x="826.9444" y="822.5000" width="1.1111" height="5.0000"/><rect x="934.9444" y="822.5000" width="1.1111" height="5.0000"/><rect x="93.5000" y="809.9444" width="5.0000" height="1.1111"/><rect x="93.5000" y="688.9444" width="5.0000" height="1.1111"/><rect x="93.5000" y="568.9444" width="5.0000" height="1.1111"/><rect x="93.5000" y="447.9444" width="5.0000" height="1.1111"/><rect x="93.5000" y="326.9444" width="5.0000" height="1.1111"/><rect x="93.5000" y="205.9444" width="5.0000" height="1.1111"/><rect x="93.5000" y="84.9444" width="5.0000" height="1.1111"/><rect x="1052.5000" y="821.9444" width="5.0000" height="1.1111"/><rect x="1052.5000" y="698.9444" width="5.0000" height="1.1111"/><rect x="1052.5000" y="576.9444" width="5.0000" height="1.1111"/><rect x="1052.5000" y="453.9444" width="5.0000" height="1.1111"/><rect x="1052.5000" y="330.9444" width="5.0000" height="1.1111"/><rect x="1052.5000" y="207.9444" width="5.0000" height="1.1111"/><rect x="1052.5000" y="84.9444" width="5.0000" height="1.1111"/></g>
<g font-family="DejaVu Sans, Liberation Sans, sans-serif" font-size="20.833" fill="#000"><text x="178.64" y="847.77" text-anchor="middle">2</text><text x="286.63" y="847.77" text-anchor="middle">4</text><text x="394.61" y="847.77" text-anchor="middle">6</text><text x="502.60" y="847.77" text-anchor="middle">8</text><text x="610.58" y="847.77" text-anchor="middle">10</text><text x="718.56" y="847.77" text-anchor="middle">12</text><text x="826.55" y="847.77" text-anchor="middle">14</text><text x="934.53" y="847.77" text-anchor="middle">16</text><text x="529.59" y="874.49" text-anchor="middle">Frequency (MHz)</text><text x="87.93" y="818.06" text-anchor="end">0</text><text x="87.93" y="697.24" text-anchor="end">100</text><text x="87.93" y="576.42" text-anchor="end">200</text><text x="87.93" y="455.60" text-anchor="end">300</text><text x="87.93" y="334.78" text-anchor="end">400</text><text x="87.93" y="213.97" text-anchor="end">500</text><text x="87.93" y="93.15" text-anchor="end">600</text><text transform="translate(38.28 454.73) rotate(-90)" text-anchor="middle">Virtual range (km)</text><text x="1062.09" y="830.14">0</text><text x="1062.09" y="707.31">5</text><text x="1062.09" y="584.47">10</text><text x="1062.09" y="461.64">15</text><text x="1062.09" y="338.81">20</text><text x="1062.09" y="215.98">25</text><text x="1062.09" y="93.15">30</text><text transform="translate(1108.99 454.73) rotate(-90)" text-anchor="middle">SNR (dB)</text></g>
<g font-family="DejaVu Sans, Liberation Sans, sans-serif" font-size="27.778" fill="#000"><text x="158.91" y="43.99" xml:space="preserve" style="white-space:pre">IRF Kiruna Ionosonde KI167 2025-11-21 23:27:00  UT</text><text x="223.57" y="76.90">noise_floor=-119.73 (dB) peak SNR=100.31</text></g>
</svg></body></html>
